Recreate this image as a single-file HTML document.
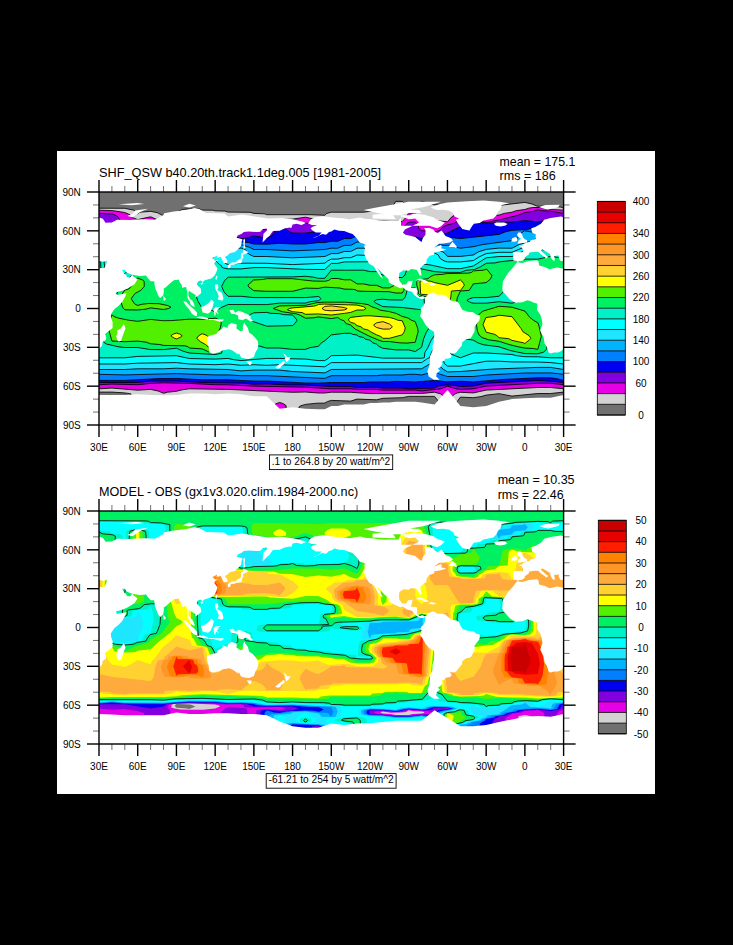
<!DOCTYPE html>
<html><head><meta charset="utf-8"><style>html,body{margin:0;padding:0;background:#000;width:733px;height:945px;overflow:hidden}svg{display:block}</style></head>
<body><svg width="733" height="945" viewBox="0 0 733 945">
<rect x="0" y="0" width="733" height="945" fill="#000"/>
<rect x="57" y="151" width="598" height="643" fill="#fff"/>
<clipPath id="c1"><rect x="99.0" y="192.0" width="464.6" height="233"/></clipPath><g clip-path="url(#c1)">
<rect x="99.0" y="192.0" width="464.6" height="233" fill="#707070"/>
<path d="M131.3 425.0 299.0 425.0 299.0 406.9 301.0 405.7 305.5 404.4 317.1 403.2 324.8 403.1 327.4 401.6 331.3 400.4 350.7 401.1 357.1 399.1 376.5 399.8 382.9 398.3 402.3 397.7 408.7 396.4 434.5 396.4 437.8 400.4 437.8 425.0 457.1 425.0 457.1 401.7 460.4 397.1 473.3 397.7 481.0 396.6 486.2 395.1 499.1 393.7 512.0 396.1 537.8 393.5 550.7 393.5 563.6 392.1 563.6 208.2 561.0 207.1 556.5 206.5 537.2 206.2 532.0 204.0 524.9 202.4 499.1 205.4 486.2 205.9 473.3 203.8 460.4 204.7 447.5 204.1 434.5 204.9 421.6 201.3 415.2 205.5 408.7 205.5 404.9 203.7 402.3 201.4 395.8 201.4 389.4 211.4 370.0 211.4 363.6 212.2 331.3 212.2 326.8 213.4 324.8 215.3 310.0 214.7 266.8 214.7 264.2 213.8 253.9 213.4 250.0 212.3 228.1 212.1 224.8 211.1 215.2 210.8 212.6 210.2 202.2 210.1 199.7 209.1 189.3 208.8 182.2 209.5 176.4 212.4 163.5 215.8 157.1 212.6 150.6 211.4 140.9 212.1 139.1 212.7 137.7 214.0 136.4 211.9 133.8 210.2 124.8 208.3 99.0 208.2 99.0 392.1 111.9 392.1 124.8 392.9 131.0 393.9 131.3 425.0Z" fill="#d2d2d2" fill-rule="evenodd"/>
<path d="M273.2 425.0 286.1 425.0 286.1 405.6 283.5 403.8 279.7 402.4 275.8 403.8 273.2 405.6 273.2 425.0ZM444.2 425.0 450.7 425.0 450.7 401.7 451.0 399.8 451.7 397.2 453.2 395.2 457.8 392.8 460.4 392.3 473.3 392.9 486.2 390.1 537.8 387.5 550.7 387.5 563.6 388.8 563.6 210.1 550.7 209.5 540.7 207.5 532.9 207.5 528.7 208.2 524.9 209.5 516.5 210.6 512.0 212.2 504.2 213.4 499.1 215.1 486.2 215.7 480.5 212.1 473.3 209.4 462.8 211.4 457.1 213.3 451.4 217.2 447.5 221.8 424.9 219.2 421.6 218.1 419.1 215.8 415.2 213.7 408.7 213.7 407.0 215.3 405.5 217.9 402.3 221.4 337.8 220.0 318.4 220.1 305.5 217.2 292.6 219.1 276.5 219.5 266.8 221.4 253.9 219.8 241.0 219.2 228.1 217.9 215.2 215.9 202.2 216.3 189.3 214.1 176.4 219.5 163.5 222.4 150.6 216.8 137.7 219.6 133.3 217.9 131.5 216.6 131.2 215.3 124.8 212.5 113.2 210.7 99.0 210.1 99.0 388.8 111.9 388.1 137.7 390.2 150.6 389.4 158.4 391.1 163.5 393.3 167.4 392.2 176.4 391.3 182.2 389.8 189.3 388.8 228.1 389.4 292.6 392.3 305.5 392.0 318.4 393.0 324.8 393.0 331.3 392.2 350.7 392.3 370.0 393.6 421.6 393.5 434.5 392.2 440.6 393.9 442.3 395.2 443.4 397.2 444.2 400.4 444.2 425.0Z" fill="#e600e6" fill-rule="evenodd"/>
<path d="M420.0 390.7 440.4 388.9 447.5 386.2 455.8 388.7 460.4 389.4 473.3 388.8 486.2 386.1 537.8 383.3 550.7 383.3 563.6 384.7 563.6 213.4 550.7 211.2 541.7 210.6 537.8 209.8 533.3 211.4 524.9 212.5 518.4 215.1 501.7 219.3 486.2 222.4 482.9 221.8 479.1 218.3 473.3 215.0 461.0 219.1 454.5 223.1 445.5 225.5 442.3 227.5 440.1 230.2 434.5 232.4 421.0 230.5 418.7 228.2 417.9 225.0 415.2 222.0 408.7 222.0 402.3 228.4 382.9 228.0 376.5 226.7 370.0 226.7 363.6 225.7 357.1 225.7 337.8 224.1 331.3 224.1 324.8 225.8 318.4 225.8 311.5 223.7 305.5 223.1 279.7 223.1 271.9 225.8 266.8 229.9 253.9 227.7 241.0 228.4 230.0 224.8 215.2 222.2 208.7 224.8 202.2 224.8 189.3 222.2 176.4 226.6 163.5 229.0 150.6 224.3 137.7 226.1 134.5 225.4 126.7 223.2 121.7 221.1 119.0 219.0 118.3 217.2 117.1 216.1 112.5 214.0 99.0 213.4 99.0 384.7 111.9 384.1 137.7 384.7 150.6 383.4 163.5 382.8 189.3 383.4 215.2 384.7 228.1 384.8 252.6 386.1 305.5 387.2 331.3 388.8 350.7 388.8 357.1 389.4 376.5 389.4 382.9 390.1 415.2 390.1 420.0 390.7Z" fill="#8200e0" fill-rule="evenodd"/>
<path d="M402.3 388.1 408.7 388.8 434.5 388.1 438.4 385.8 447.5 384.9 455.8 385.4 460.4 386.6 473.3 386.0 486.2 383.2 537.8 380.5 550.7 381.2 563.6 382.5 563.6 223.4 550.7 219.5 537.8 221.9 524.9 220.6 512.0 222.1 499.1 222.3 497.1 222.8 492.0 223.0 477.8 222.6 475.2 221.9 473.3 220.5 467.1 223.1 463.6 225.4 455.5 228.9 448.2 232.8 434.5 236.5 421.6 238.3 415.2 237.0 408.7 237.0 402.3 235.4 382.9 234.7 376.5 232.5 370.0 232.5 363.6 230.8 357.1 230.8 350.7 229.4 344.2 229.4 337.8 228.2 331.3 228.2 324.8 231.5 317.1 231.6 305.5 233.1 292.6 233.1 288.7 231.3 285.5 228.5 279.7 226.9 275.7 228.9 274.1 232.8 271.9 235.5 266.8 238.3 253.9 235.8 248.7 237.7 241.0 238.7 236.9 237.3 233.7 233.4 229.6 231.5 215.2 228.5 208.7 233.3 202.2 233.3 189.3 230.3 176.4 233.7 163.5 235.6 150.6 231.7 137.7 232.6 124.2 230.8 115.1 228.5 106.7 225.0 99.0 223.4 99.0 382.5 137.7 382.5 150.6 381.1 176.4 381.1 202.2 382.5 241.0 383.1 253.9 384.2 266.8 383.9 288.8 384.9 305.5 385.0 331.3 386.6 350.7 386.6 357.1 387.5 376.5 387.2 382.9 388.1 402.3 388.1Z" fill="#0000f0" fill-rule="evenodd"/>
<path d="M302.5 382.9 324.8 383.1 331.3 382.5 363.6 382.5 370.0 381.9 389.4 381.9 395.8 381.3 415.2 381.9 434.5 380.5 447.5 381.8 460.4 381.3 473.3 381.9 504.2 379.4 537.8 377.8 550.7 377.8 557.8 378.9 563.6 380.4 563.6 229.2 550.7 225.6 533.3 228.1 526.6 229.5 512.0 230.3 504.9 232.0 499.1 234.4 460.4 238.6 447.5 237.2 441.0 239.5 421.6 243.4 415.2 242.1 395.8 242.4 389.4 241.4 382.9 241.4 376.5 238.3 370.0 238.3 363.6 236.0 357.1 236.0 350.7 238.6 344.2 238.6 337.8 241.3 331.3 241.3 324.8 242.6 318.4 242.6 305.5 244.0 292.6 244.0 279.7 243.3 266.8 244.2 253.9 244.0 248.7 242.6 239.7 241.6 233.0 239.9 228.1 237.4 215.2 234.8 211.8 238.0 208.7 241.8 202.2 241.8 189.3 238.3 176.4 240.9 163.5 242.3 150.6 239.1 126.7 239.3 111.9 240.2 109.6 236.7 106.7 233.7 103.5 231.4 99.0 229.2 99.0 380.4 124.8 380.4 159.0 378.6 176.4 378.4 202.2 379.8 228.1 379.8 253.9 381.1 266.8 381.1 302.5 382.9Z" fill="#0080ff" fill-rule="evenodd"/>
<path d="M305.5 377.8 324.8 378.4 331.3 375.7 376.5 375.7 382.9 375.0 402.3 375.0 408.7 374.3 415.2 374.3 421.6 375.0 429.4 372.8 434.5 370.0 437.1 372.5 439.7 374.1 447.5 376.5 473.3 376.5 486.2 375.0 524.9 373.0 550.7 372.9 563.6 374.3 563.6 235.0 550.7 231.8 537.8 233.0 524.5 230.8 519.7 234.1 518.7 235.4 518.3 237.3 517.1 238.3 512.0 240.6 482.3 244.6 473.3 246.7 460.4 248.2 447.5 245.5 434.5 244.7 421.6 248.6 415.2 247.2 408.7 247.2 402.3 249.5 395.8 249.5 389.4 248.2 382.9 248.2 376.5 244.2 370.0 244.2 363.6 242.0 357.1 242.0 350.7 245.4 344.2 245.4 337.8 248.2 331.3 248.2 324.8 249.5 292.6 250.9 266.8 249.5 253.9 249.5 248.7 247.0 242.3 245.2 228.7 244.0 215.2 241.1 211.9 245.1 208.7 250.3 202.2 250.3 189.3 246.4 176.4 248.0 163.5 248.9 150.6 246.6 137.7 245.6 123.1 248.3 117.1 250.4 111.9 253.1 109.5 247.0 106.7 242.3 103.5 238.6 99.0 235.0 99.0 374.3 124.8 374.9 176.4 373.6 215.2 374.9 228.1 374.9 241.0 375.7 266.8 375.7 305.5 377.8Z" fill="#00b4ff" fill-rule="evenodd"/>
<path d="M312.3 372.6 324.8 372.9 331.3 369.5 421.6 368.8 429.4 364.2 432.6 361.1 434.5 358.5 437.5 363.5 439.7 366.1 443.3 369.3 447.5 371.9 460.4 371.5 492.6 369.1 537.8 367.4 550.7 367.4 563.6 369.5 563.6 240.9 550.7 237.9 537.8 238.5 533.9 239.7 530.7 241.4 519.4 244.4 512.0 248.2 499.1 248.1 486.2 249.4 478.4 251.9 473.3 255.0 460.4 256.4 447.5 256.4 444.9 253.5 442.3 251.6 434.5 248.9 421.6 253.7 415.2 252.3 408.7 252.3 402.3 256.5 395.8 256.5 389.4 254.9 382.9 254.9 376.5 250.0 370.0 250.0 363.6 248.2 357.1 248.2 350.7 251.5 344.2 251.5 337.8 253.6 331.3 253.6 324.8 256.5 292.6 257.8 266.8 256.5 253.9 256.5 248.7 254.1 246.8 252.2 245.3 249.6 241.0 248.0 233.2 249.0 228.1 250.4 215.2 247.4 211.6 252.8 208.7 258.8 202.2 258.8 189.3 254.4 163.5 255.5 137.7 252.1 129.3 254.5 122.9 257.3 116.8 261.3 111.9 266.0 109.7 258.0 106.7 251.0 103.5 245.7 99.0 240.9 99.0 369.5 124.8 369.5 137.7 368.8 163.5 368.8 176.4 368.2 189.3 368.8 228.1 369.5 241.0 370.9 253.9 370.1 279.7 370.1 292.6 371.5 312.3 372.6Z" fill="#1ee6ff" fill-rule="evenodd"/>
<path d="M305.5 366.1 324.8 366.8 331.3 362.6 421.6 362.6 427.8 358.3 429.6 357.7 431.4 352.5 434.5 346.9 442.0 357.7 443.5 360.3 444.3 363.5 447.5 366.1 460.4 366.1 486.2 361.2 499.1 361.2 512.0 361.9 537.8 362.0 550.7 362.6 563.6 364.0 563.6 246.7 550.7 244.0 537.8 244.0 524.9 246.8 512.0 252.3 499.1 252.3 486.2 253.6 479.1 256.9 473.3 260.6 460.4 261.9 447.5 261.9 444.2 260.9 440.4 258.7 438.1 254.8 434.5 253.0 429.9 254.8 426.2 257.4 421.6 258.8 415.2 257.4 408.7 257.4 405.5 260.0 402.3 263.5 395.8 263.5 389.4 261.6 382.9 261.6 376.5 255.9 357.1 255.0 350.7 257.7 344.2 257.7 337.8 259.1 331.3 259.1 327.4 261.1 324.8 263.2 292.6 264.6 266.8 263.3 241.0 263.2 228.1 264.5 224.8 263.2 223.4 259.3 221.0 256.3 218.4 254.8 215.2 253.7 211.7 260.0 208.7 267.3 202.2 267.3 189.3 262.5 163.5 262.2 150.6 261.4 137.7 258.6 129.3 262.2 123.4 265.8 117.1 271.7 111.9 278.9 109.7 272.3 106.7 259.7 103.4 252.8 99.0 246.7 99.0 364.0 124.8 364.0 137.7 363.2 176.4 362.6 189.3 364.0 215.2 364.7 228.1 364.0 241.0 365.3 253.9 364.7 266.8 365.3 279.7 364.7 305.5 366.1Z" fill="#00ffff" fill-rule="evenodd"/>
<path d="M238.1 360.3 241.0 360.6 266.8 358.4 279.7 358.4 305.5 359.1 318.4 360.6 324.8 360.6 328.4 358.3 331.3 355.7 341.0 355.7 344.2 355.1 360.3 355.3 382.9 358.1 421.6 358.2 424.3 357.7 424.9 352.5 428.0 347.3 431.2 340.2 434.5 335.4 441.5 343.5 447.5 352.7 460.4 357.8 473.3 353.0 486.2 353.0 512.0 354.5 516.6 355.7 524.9 356.7 537.8 356.8 550.7 357.8 563.6 357.8 563.6 252.5 550.7 250.1 537.8 249.6 524.9 250.5 520.9 252.2 517.1 255.1 512.0 256.5 499.1 256.5 486.2 257.8 473.3 266.0 460.4 268.7 447.5 268.7 430.7 265.0 421.6 263.9 415.2 262.5 408.7 262.5 405.1 266.4 402.3 270.5 395.8 270.5 389.4 268.4 382.9 268.4 381.0 266.9 379.4 264.5 376.5 261.7 344.2 261.9 337.8 263.4 331.3 263.4 324.8 269.5 305.5 269.4 266.8 267.6 253.9 267.6 241.0 268.9 228.1 268.9 223.5 268.0 221.6 267.1 221.6 265.8 219.5 264.5 215.2 260.0 213.5 263.2 212.1 271.0 210.4 274.2 208.7 275.8 202.2 275.8 189.3 270.5 169.3 269.0 150.6 268.9 137.7 265.1 129.3 269.8 123.1 274.8 116.9 282.6 111.9 291.8 109.0 287.1 107.0 281.3 105.5 273.6 104.0 261.3 99.0 252.5 99.0 357.8 124.8 357.8 137.7 356.4 176.4 355.7 189.3 358.5 215.2 359.1 228.1 358.4 238.1 360.3Z" fill="#00f0c8" fill-rule="evenodd"/>
<path d="M202.2 353.8 215.2 354.5 221.6 353.2 222.2 349.9 228.1 335.7 247.4 342.7 266.3 348.0 279.7 348.0 292.6 349.4 305.5 349.4 310.0 347.6 318.4 346.4 321.0 343.2 324.8 340.7 331.3 334.9 344.2 333.3 350.7 333.3 352.8 334.4 357.1 335.0 359.0 336.6 363.6 337.5 365.5 339.2 370.0 340.1 372.6 342.8 376.5 344.1 379.1 346.5 382.9 348.3 395.8 349.9 408.7 349.9 415.2 351.6 421.6 347.3 423.6 338.8 426.2 332.4 430.6 326.0 434.5 323.8 441.4 329.9 447.5 337.1 452.0 335.1 455.2 332.9 458.0 329.9 460.4 325.7 463.2 331.2 465.5 338.9 473.6 340.2 477.8 342.8 483.6 344.8 499.1 346.8 510.5 350.6 524.9 353.6 537.8 353.8 540.4 353.3 544.2 351.7 546.6 349.3 548.4 336.3 548.7 316.9 550.7 309.0 563.6 307.1 563.6 258.3 550.7 256.3 537.8 259.2 524.9 259.1 499.1 261.9 495.2 262.9 486.2 263.3 480.4 266.9 474.6 269.5 466.2 270.3 460.4 272.4 443.6 272.3 434.5 271.6 415.2 267.6 408.7 267.6 406.6 270.3 404.9 275.2 402.3 277.5 395.8 277.5 389.4 275.1 382.9 275.1 379.1 273.6 376.5 271.6 370.0 271.6 363.6 270.2 350.7 270.2 331.3 270.2 324.8 278.3 318.4 278.3 313.2 277.1 305.5 276.3 292.6 276.9 228.1 277.2 224.5 280.7 221.7 286.5 224.2 292.2 228.1 296.3 241.0 296.3 253.9 297.6 305.5 297.6 318.4 296.5 320.0 297.5 321.0 298.8 318.6 300.7 310.0 301.7 305.5 303.1 279.7 303.1 266.8 304.6 228.1 304.5 220.5 307.9 215.2 312.4 212.2 310.4 202.2 308.5 197.7 300.7 196.1 295.6 195.8 282.6 192.7 280.0 189.3 278.6 176.4 276.5 163.5 275.4 150.6 276.3 137.7 271.6 129.3 277.5 122.9 283.9 117.1 293.0 114.4 300.1 111.9 304.6 106.1 304.3 103.5 303.6 102.1 302.0 101.4 298.8 100.7 261.3 99.0 258.3 99.0 307.1 100.7 313.0 100.2 315.0 101.0 328.6 102.9 340.9 103.7 342.2 108.0 344.5 119.6 347.0 124.8 347.5 137.7 347.5 150.6 349.6 163.5 349.6 176.4 348.2 182.9 351.1 189.3 353.0 202.2 353.8ZM266.8 326.2 251.9 321.2 248.7 318.9 247.6 317.6 247.7 316.9 250.6 314.3 253.9 312.8 266.8 312.4 270.6 313.3 279.7 313.7 283.5 314.6 292.6 315.0 297.1 320.1 295.2 323.3 292.6 325.6 266.8 326.2ZM421.6 309.8 402.3 307.5 382.9 306.6 375.2 302.7 374.0 301.4 376.5 299.8 382.9 299.2 389.4 299.9 402.3 300.0 403.9 298.8 405.3 296.9 407.1 290.4 408.7 287.8 415.2 287.8 416.3 290.4 416.3 293.6 417.1 295.4 419.1 296.5 423.6 297.5 424.0 298.1 424.5 305.3 421.6 309.8ZM471.3 302.7 468.1 301.3 467.2 300.7 467.2 300.1 469.5 298.8 473.3 297.6 486.2 297.6 499.2 296.2 512.0 282.5 515.8 289.0 518.4 297.5 518.0 300.7 515.2 302.3 512.0 303.2 499.1 301.7 486.2 303.2 473.3 303.2 471.3 302.7Z" fill="#00f064" fill-rule="evenodd"/>
<path d="M207.2 351.2 208.7 351.9 210.0 351.3 211.9 350.0 213.2 348.3 215.2 339.9 220.5 327.3 221.3 322.7 221.0 322.1 219.0 320.0 215.8 318.2 202.2 319.3 189.3 319.2 171.3 320.6 162.9 320.7 150.6 319.4 137.7 321.3 129.3 320.3 118.7 318.2 114.9 316.9 111.9 315.0 110.7 318.2 108.3 327.9 111.9 341.0 124.8 341.7 137.7 341.1 146.3 342.2 150.6 343.8 159.7 344.5 163.5 345.4 184.8 345.8 188.0 346.6 189.3 348.0 202.2 348.9 207.2 351.2ZM537.2 349.3 537.9 349.3 538.1 348.6 541.3 336.3 539.0 326.0 537.8 322.7 533.9 320.6 530.0 317.6 524.9 311.1 512.0 307.2 499.1 306.3 483.6 310.9 480.4 313.0 478.4 315.4 477.5 317.6 476.5 324.7 477.4 331.2 479.1 335.0 482.1 337.6 488.7 339.8 499.1 341.3 509.7 344.7 517.8 346.7 524.9 348.1 533.3 348.5 537.2 349.3ZM399.2 342.8 406.8 343.1 415.2 342.3 418.1 331.8 417.8 328.6 415.2 321.6 411.3 320.2 408.1 318.0 402.3 316.5 396.5 313.5 389.4 311.6 380.3 310.2 376.5 308.3 372.0 306.9 368.1 304.6 361.6 303.5 345.5 302.2 324.8 302.1 317.1 302.6 305.5 305.3 279.7 305.9 273.2 308.5 282.3 311.7 296.5 313.9 299.7 315.0 305.5 318.2 313.9 317.8 318.4 316.9 331.3 318.6 337.8 317.5 340.5 319.5 344.2 320.8 345.8 323.4 350.7 325.1 355.2 329.1 370.0 336.5 378.8 340.2 382.9 341.5 389.4 341.5 399.2 342.8ZM447.3 321.4 451.0 316.9 454.4 310.4 456.1 305.9 457.2 298.1 460.4 291.0 469.2 290.4 473.3 283.9 486.2 282.6 490.7 278.8 491.9 275.5 486.5 269.0 483.6 270.2 473.3 270.9 471.8 272.3 468.7 273.1 446.5 273.6 442.3 274.4 434.5 274.8 430.7 276.5 428.1 278.7 419.7 279.7 417.8 280.3 416.8 281.3 416.8 285.2 418.4 290.4 418.4 293.6 421.0 295.4 428.4 297.5 431.4 307.9 432.8 310.4 434.5 312.2 442.3 317.1 447.3 321.4ZM124.8 309.8 137.7 310.0 146.1 309.1 150.6 307.9 163.5 309.5 168.5 308.5 171.0 307.2 168.0 305.6 159.0 303.7 148.7 303.5 142.2 304.2 137.7 305.4 134.7 304.0 131.6 299.4 131.3 298.8 131.6 298.1 135.1 293.4 140.9 290.3 144.2 286.5 144.2 281.3 142.6 280.0 137.7 278.1 133.5 281.3 132.1 284.6 129.5 288.4 127.4 289.5 124.8 290.0 122.0 294.3 121.0 302.0 122.6 307.2 124.8 309.8ZM391.8 292.3 395.8 293.0 402.3 293.0 403.9 290.4 404.3 287.8 403.8 285.8 402.3 284.5 395.8 284.5 389.4 287.9 382.9 287.9 376.5 285.3 370.0 285.3 363.6 283.9 357.1 283.9 350.7 279.8 344.2 279.8 337.8 278.5 331.3 278.5 328.7 280.4 324.8 281.3 312.6 281.0 292.6 278.7 266.8 278.7 262.3 279.5 253.5 280.0 247.9 285.2 248.9 287.1 253.9 290.7 266.8 291.3 292.6 291.3 305.5 288.1 318.4 288.4 324.8 287.1 339.7 288.0 344.2 289.1 352.6 289.3 355.3 289.7 357.1 290.9 362.9 291.3 389.4 291.7 391.8 292.3Z" fill="#50f000" fill-rule="evenodd"/>
<path d="M208.1 346.7 208.7 347.3 210.7 342.2 208.7 337.0 206.1 335.1 202.2 333.7 198.7 335.7 196.7 338.3 200.2 341.5 205.5 344.5 208.1 346.7ZM523.3 342.8 524.9 343.5 525.5 343.0 529.4 339.9 530.9 338.3 530.7 337.9 529.1 335.7 522.9 331.7 521.1 328.6 512.0 316.7 499.1 315.2 495.2 316.3 485.9 317.6 483.0 324.7 486.2 332.2 494.6 334.3 496.9 335.7 499.1 337.7 508.8 338.7 512.0 340.4 523.3 342.8ZM174.7 338.3 176.4 338.9 177.7 338.5 181.6 336.6 182.1 335.7 179.7 334.1 176.4 333.1 173.2 334.2 171.0 335.7 171.3 336.4 174.7 338.3ZM382.3 337.6 382.9 338.3 389.4 338.3 402.3 334.8 404.5 331.2 405.2 327.9 402.3 320.8 397.8 320.2 394.7 318.9 389.4 317.4 370.0 315.8 363.6 315.9 350.7 317.4 348.7 319.1 348.5 320.1 350.7 322.4 354.5 323.4 357.1 325.6 361.0 326.8 363.6 328.9 368.1 330.0 370.7 331.8 376.5 334.8 380.3 336.3 382.3 337.6ZM322.4 314.3 331.3 315.0 344.2 313.4 350.7 312.4 357.1 310.0 363.6 310.0 366.0 308.5 363.6 306.7 357.1 305.1 324.2 304.1 318.4 304.4 316.5 305.5 313.2 306.2 292.6 307.9 289.4 308.5 287.4 309.8 292.6 311.7 302.3 312.6 305.5 314.3 318.4 313.9 322.4 314.3ZM447.4 305.9 450.7 298.1 451.4 291.0 460.5 290.4 464.0 285.8 464.3 285.2 463.6 283.5 461.6 281.0 460.4 280.0 447.5 285.3 434.5 282.6 430.7 281.2 421.6 280.7 420.0 281.3 420.6 293.6 421.6 294.3 427.4 294.8 431.3 295.9 433.2 297.5 434.5 300.7 441.6 303.2 447.4 305.9Z" fill="#ffff00" fill-rule="evenodd"/>
<path d="M380.9 328.6 382.9 329.1 389.4 329.1 391.4 327.9 392.3 326.6 389.4 324.0 382.9 321.6 376.5 322.9 373.9 324.7 373.7 325.3 376.5 327.5 380.9 328.6ZM326.6 310.4 331.3 310.8 344.2 310.0 346.6 309.1 347.0 308.5 344.2 307.5 331.3 305.9 324.8 306.4 322.0 308.5 324.8 310.3 326.6 310.4Z" fill="#ffd232" fill-rule="evenodd"/>
<path d="M299.0 425.0 299.0 406.9 301.0 405.7 305.5 404.4 317.1 403.2 324.8 403.1 327.4 401.6 331.3 400.4 350.7 401.1 357.1 399.1 376.5 399.8 382.9 398.3 402.3 397.7 408.7 396.4 434.5 396.4 437.8 400.4 437.8 425.0M457.1 425.0 457.1 401.7 460.4 397.1 473.3 397.7 481.0 396.6 486.2 395.1 499.1 393.7 512.0 396.1 537.8 393.5 550.7 393.5 563.6 392.1M99.0 392.1 111.9 392.1 124.8 392.9 131.0 393.9 131.3 425.0M563.6 208.2 561.0 207.1 556.5 206.5 537.2 206.2 532.0 204.0 524.9 202.4 499.1 205.4 486.2 205.9 473.3 203.8 460.4 204.7 447.5 204.1 434.5 204.9 421.6 201.3 415.2 205.5 408.7 205.5 404.9 203.7 402.3 201.4 395.8 201.4 389.4 211.4 370.0 211.4 363.6 212.2 331.3 212.2 326.8 213.4 324.8 215.3 310.0 214.7 266.8 214.7 264.2 213.8 253.9 213.4 250.0 212.3 228.1 212.1 224.8 211.1 215.2 210.8 212.6 210.2 202.2 210.1 199.7 209.1 189.3 208.8 182.2 209.5 176.4 212.4 163.5 215.8 157.1 212.6 150.6 211.4 140.9 212.1 139.1 212.7 137.7 214.0 136.4 211.9 133.8 210.2 124.8 208.3 99.0 208.2M286.1 425.0 286.1 405.6 283.5 403.8 279.7 402.4 275.8 403.8 273.2 405.6 273.2 425.0M450.7 425.0 450.9 400.4 451.7 397.2 452.6 395.9 454.5 394.2 457.1 393.0 460.4 392.3 473.3 392.9 486.2 390.1 537.8 387.5 550.7 387.5 563.6 388.8M99.0 388.8 111.9 388.1 137.7 390.2 150.6 389.4 158.4 391.1 163.5 393.3 167.4 392.2 176.4 391.3 182.2 389.8 189.3 388.8 228.1 389.4 292.6 392.3 305.5 392.0 318.4 393.0 324.8 393.0 331.3 392.2 350.7 392.3 370.0 393.6 421.6 393.5 434.5 392.2 440.6 393.9 442.3 395.2 443.4 397.2 444.2 400.4 444.2 425.0M563.6 210.1 550.7 209.5 540.7 207.5 532.9 207.5 528.7 208.2 524.9 209.5 516.5 210.6 512.0 212.2 504.2 213.4 499.1 215.1 486.2 215.7 480.5 212.1 473.3 209.4 462.8 211.4 457.1 213.3 451.4 217.2 447.5 221.8 424.9 219.2 421.6 218.1 419.1 215.8 415.2 213.7 408.7 213.7 407.0 215.3 405.5 217.9 402.3 221.4 337.8 220.0 318.4 220.1 305.5 217.2 292.6 219.1 276.5 219.5 266.8 221.4 253.9 219.8 241.0 219.2 228.1 217.9 215.2 215.9 202.2 216.3 189.3 214.1 176.4 219.5 163.5 222.4 150.6 216.8 137.7 219.6 133.3 217.9 131.5 216.6 131.2 215.3 124.8 212.5 113.2 210.7 99.0 210.1M99.0 384.7 111.9 384.1 137.7 384.7 150.6 383.4 163.5 382.8 189.3 383.4 215.2 384.7 228.1 384.8 252.6 386.1 305.5 387.2 331.3 388.8 350.7 388.8 357.1 389.4 376.5 389.4 382.9 390.1 415.2 390.1 421.6 390.9 440.4 388.9 447.5 386.2 455.8 388.7 460.4 389.4 473.3 388.8 486.2 386.1 537.8 383.3 550.7 383.3 563.6 384.7M563.6 213.4 550.7 211.2 541.7 210.6 537.8 209.8 533.3 211.4 524.9 212.5 518.4 215.1 501.7 219.3 486.2 222.4 482.9 221.8 479.1 218.3 473.3 215.0 461.0 219.1 454.5 223.1 445.5 225.5 442.3 227.5 440.1 230.2 434.5 232.4 421.0 230.5 418.7 228.2 417.9 225.0 415.2 222.0 408.7 222.0 402.3 228.4 382.9 228.0 376.5 226.7 370.0 226.7 363.6 225.7 357.1 225.7 337.8 224.1 331.3 224.1 324.8 225.8 318.4 225.8 311.5 223.7 305.5 223.1 279.7 223.1 271.9 225.8 266.8 229.9 253.9 227.7 241.0 228.4 230.0 224.8 215.2 222.2 208.7 224.8 202.2 224.8 189.3 222.2 176.4 226.6 163.5 229.0 150.6 224.3 137.7 226.1 134.5 225.4 126.7 223.2 121.7 221.1 119.0 219.0 118.3 217.2 117.1 216.1 112.5 214.0 99.0 213.4M99.0 382.5 137.7 382.5 150.6 381.1 176.4 381.1 202.2 382.5 241.0 383.1 253.9 384.2 266.8 383.9 288.8 384.9 305.5 385.0 331.3 386.6 350.7 386.6 357.1 387.5 376.5 387.2 382.9 388.1 402.3 388.1 408.7 388.8 434.5 388.1 437.8 386.0 444.9 385.0 454.5 385.3 460.4 386.6 473.3 386.0 486.2 383.2 537.8 380.5 550.7 381.2 563.6 382.5M563.6 223.4 550.7 219.5 537.8 221.9 524.9 220.6 512.0 222.1 499.1 222.3 497.1 222.8 492.0 223.0 477.8 222.6 475.2 221.9 473.3 220.5 467.1 223.1 463.6 225.4 455.5 228.9 448.2 232.8 434.5 236.5 421.6 238.3 415.2 237.0 408.7 237.0 402.3 235.4 382.9 234.7 376.5 232.5 370.0 232.5 363.6 230.8 357.1 230.8 350.7 229.4 344.2 229.4 337.8 228.2 331.3 228.2 324.8 231.5 317.1 231.6 305.5 233.1 292.6 233.1 288.7 231.3 285.5 228.5 279.7 226.9 275.7 228.9 274.1 232.8 271.9 235.5 266.8 238.3 253.9 235.8 248.7 237.7 241.0 238.7 236.9 237.3 233.7 233.4 229.6 231.5 215.2 228.5 208.7 233.3 202.2 233.3 189.3 230.3 176.4 233.7 163.5 235.6 150.6 231.7 137.7 232.6 124.2 230.8 115.1 228.5 106.7 225.0 99.0 223.4M99.0 380.4 124.8 380.4 159.0 378.6 176.4 378.4 202.2 379.8 228.1 379.8 253.9 381.1 268.7 381.1 305.5 383.0 318.4 383.1 331.3 382.5 363.6 382.5 370.0 381.9 389.4 381.9 395.8 381.3 415.2 381.9 434.5 380.5 447.5 381.8 460.4 381.3 473.3 381.9 504.2 379.4 537.8 377.8 550.7 377.8 557.8 378.9 563.6 380.4M563.6 229.2 550.7 225.6 533.3 228.1 526.6 229.5 512.0 230.3 504.9 232.0 499.1 234.4 460.4 238.6 447.5 237.2 441.0 239.5 421.6 243.4 415.2 242.1 395.8 242.4 389.4 241.4 382.9 241.4 376.5 238.3 370.0 238.3 363.6 236.0 357.1 236.0 350.7 238.6 344.2 238.6 337.8 241.3 331.3 241.3 324.8 242.6 318.4 242.6 305.5 244.0 292.6 244.0 279.7 243.3 266.8 244.2 253.9 244.0 248.7 242.6 239.7 241.6 233.0 239.9 228.1 237.4 215.2 234.8 211.8 238.0 208.7 241.8 202.2 241.8 189.3 238.3 176.4 240.9 163.5 242.3 150.6 239.1 126.7 239.3 111.9 240.2 109.6 236.7 106.7 233.7 103.5 231.4 99.0 229.2M99.0 374.3 124.8 374.9 176.4 373.6 215.2 374.9 228.1 374.9 241.0 375.7 266.8 375.7 324.8 378.4 331.3 375.7 376.5 375.7 382.9 375.0 402.3 375.0 408.7 374.3 415.2 374.3 421.6 375.0 429.4 372.8 434.5 370.0 437.1 372.5 439.7 374.1 447.5 376.5 473.3 376.5 486.2 375.0 524.9 373.0 550.7 372.9 563.6 374.3M563.6 235.0 550.7 231.8 537.8 233.0 524.5 230.8 519.7 234.1 518.7 235.4 518.3 237.3 517.1 238.3 512.0 240.6 482.3 244.6 473.3 246.7 460.4 248.2 447.5 245.5 434.5 244.7 421.6 248.6 415.2 247.2 408.7 247.2 402.3 249.5 395.8 249.5 389.4 248.2 382.9 248.2 376.5 244.2 370.0 244.2 363.6 242.0 357.1 242.0 350.7 245.4 344.2 245.4 337.8 248.2 331.3 248.2 324.8 249.5 292.6 250.9 266.8 249.5 253.9 249.5 248.7 247.0 242.3 245.2 228.7 244.0 215.2 241.1 211.9 245.1 208.7 250.3 202.2 250.3 189.3 246.4 176.4 248.0 163.5 248.9 150.6 246.6 137.7 245.6 123.1 248.3 117.1 250.4 111.9 253.1 109.5 247.0 106.7 242.3 103.5 238.6 99.0 235.0M99.0 369.5 124.8 369.5 137.7 368.8 163.5 368.8 176.4 368.2 189.3 368.8 228.1 369.5 241.0 370.9 253.9 370.1 279.7 370.1 292.6 371.5 324.8 372.9 331.3 369.5 421.6 368.8 429.4 364.2 432.6 361.1 434.5 358.5 437.5 363.5 439.7 366.1 443.3 369.3 447.5 371.9 460.4 371.5 492.6 369.1 537.8 367.4 550.7 367.4 563.6 369.5M563.6 240.9 550.7 237.9 537.8 238.5 533.9 239.7 530.7 241.4 519.4 244.4 512.0 248.2 499.1 248.1 486.2 249.4 478.4 251.9 473.3 255.0 460.4 256.4 447.5 256.4 444.9 253.5 442.3 251.6 434.5 248.9 421.6 253.7 415.2 252.3 408.7 252.3 402.3 256.5 395.8 256.5 389.4 254.9 382.9 254.9 376.5 250.0 370.0 250.0 363.6 248.2 357.1 248.2 350.7 251.5 344.2 251.5 337.8 253.6 331.3 253.6 324.8 256.5 292.6 257.8 266.8 256.5 253.9 256.5 248.7 254.1 246.8 252.2 245.3 249.6 241.0 248.0 233.2 249.0 228.1 250.4 215.2 247.4 211.6 252.8 208.7 258.8 202.2 258.8 189.3 254.4 163.5 255.5 137.7 252.1 129.3 254.5 122.9 257.3 116.8 261.3 111.9 266.0 109.7 258.0 106.7 251.0 103.5 245.7 99.0 240.9M99.0 364.0 124.8 364.0 137.7 363.2 176.4 362.6 189.3 364.0 215.2 364.7 228.1 364.0 241.0 365.3 253.9 364.7 266.8 365.3 279.7 364.7 324.8 366.8 331.3 362.6 421.6 362.6 427.8 358.3 429.6 357.7 431.4 352.5 434.5 346.9 442.0 357.7 443.5 360.3 444.3 363.5 447.5 366.1 460.4 366.1 486.2 361.2 499.1 361.2 512.0 361.9 537.8 362.0 550.7 362.6 563.6 364.0M563.6 246.7 550.7 244.0 537.8 244.0 524.9 246.8 512.0 252.3 499.1 252.3 486.2 253.6 479.1 256.9 473.3 260.6 460.4 261.9 447.5 261.9 444.2 260.9 440.4 258.7 438.1 254.8 434.5 253.0 429.9 254.8 426.2 257.4 421.6 258.8 415.2 257.4 408.7 257.4 405.5 260.0 402.3 263.5 395.8 263.5 389.4 261.6 382.9 261.6 376.5 255.9 357.1 255.0 350.7 257.7 344.2 257.7 337.8 259.1 331.3 259.1 327.4 261.1 324.8 263.2 292.6 264.6 266.8 263.3 241.0 263.2 228.1 264.5 224.8 263.2 223.4 259.3 221.0 256.3 218.4 254.8 215.2 253.7 211.7 260.0 208.7 267.3 202.2 267.3 189.3 262.5 163.5 262.2 150.6 261.4 137.7 258.6 129.3 262.2 123.4 265.8 117.1 271.7 111.9 278.9 109.7 272.3 106.7 259.7 103.4 252.8 99.0 246.7M99.0 357.8 124.8 357.8 137.7 356.4 176.4 355.7 189.3 358.5 215.2 359.1 228.1 358.4 233.2 359.6 241.0 360.6 266.8 358.4 279.7 358.4 305.5 359.1 318.4 360.6 324.8 360.6 328.4 358.3 331.3 355.7 357.1 355.1 382.9 358.1 421.6 358.2 424.3 357.7 424.9 352.5 428.0 347.3 431.2 340.2 434.5 335.4 441.5 343.5 447.5 352.7 460.4 357.8 473.3 353.0 486.2 353.0 512.0 354.5 516.6 355.7 524.9 356.7 537.8 356.8 550.7 357.8 563.6 357.8M563.6 252.5 550.7 250.1 537.8 249.6 524.9 250.5 520.9 252.2 517.1 255.1 512.0 256.5 499.1 256.5 486.2 257.8 473.3 266.0 460.4 268.7 447.5 268.7 430.7 265.0 421.6 263.9 415.2 262.5 408.7 262.5 405.1 266.4 402.3 270.5 395.8 270.5 389.4 268.4 382.9 268.4 381.0 266.9 379.4 264.5 376.5 261.7 344.2 261.9 337.8 263.4 331.3 263.4 324.8 269.5 305.5 269.4 266.8 267.6 253.9 267.6 241.0 268.9 228.1 268.9 223.5 268.0 221.6 267.1 221.6 265.8 219.5 264.5 215.2 260.0 213.5 263.2 212.1 271.0 210.4 274.2 208.7 275.8 202.2 275.8 189.3 270.5 169.3 269.0 150.6 268.9 137.7 265.1 129.3 269.8 123.1 274.8 116.9 282.6 111.9 291.8 109.0 287.1 107.0 281.3 105.5 273.6 104.0 261.3 99.0 252.5M266.8 326.2 251.9 321.2 248.7 318.9 247.6 317.6 247.7 316.9 250.6 314.3 253.9 312.8 266.8 312.4 270.6 313.3 279.7 313.7 283.5 314.6 292.6 315.0 297.1 320.1 295.2 323.3 292.6 325.6 266.8 326.2M421.6 309.8 402.3 307.5 382.9 306.6 375.2 302.7 374.0 301.4 376.5 299.8 382.9 299.2 389.4 299.9 402.3 300.0 403.9 298.8 405.3 296.9 407.1 290.4 408.7 287.8 415.2 287.8 416.3 290.4 416.3 293.6 417.1 295.4 419.1 296.5 423.6 297.5 424.0 298.1 424.5 305.3 421.6 309.8M99.0 307.1 100.7 313.0 100.2 315.0 101.0 327.9 102.9 340.9 104.2 342.6 106.7 344.1 119.0 346.9 124.8 347.5 137.7 347.5 150.6 349.6 163.5 349.6 176.4 348.2 182.9 351.1 189.3 353.0 215.2 354.5 221.6 353.2 222.2 349.9 228.1 335.7 247.4 342.7 266.3 348.0 279.7 348.0 292.6 349.4 305.5 349.4 310.0 347.6 318.4 346.4 321.0 343.2 324.8 340.7 331.3 334.9 344.2 333.3 350.7 333.3 352.8 334.4 357.1 335.0 359.0 336.6 363.6 337.5 365.5 339.2 370.0 340.1 372.6 342.8 376.5 344.1 379.1 346.5 382.9 348.3 395.8 349.9 408.7 349.9 415.2 351.6 421.6 347.3 423.6 338.8 426.2 332.4 430.6 326.0 434.5 323.8 441.4 329.9 447.5 337.1 452.0 335.1 455.2 332.9 458.0 329.9 460.4 325.7 463.2 331.2 465.5 338.9 473.6 340.2 477.8 342.8 483.6 344.8 499.1 346.8 510.5 350.6 524.9 353.6 537.8 353.8 543.6 352.1 546.6 349.3 548.4 336.3 548.7 316.9 550.7 309.0 563.6 307.1M471.3 302.7 468.1 301.3 467.2 300.7 467.2 300.1 469.5 298.8 473.3 297.6 486.2 297.6 499.2 296.2 512.0 282.5 515.8 289.0 518.4 297.5 518.0 300.7 515.2 302.3 512.0 303.2 499.1 301.7 486.2 303.2 473.3 303.2 471.3 302.7M563.6 258.3 550.7 256.3 537.8 259.2 524.9 259.1 499.1 261.9 495.2 262.9 486.2 263.3 480.4 266.9 474.6 269.5 466.2 270.3 460.4 272.4 443.6 272.3 434.5 271.6 415.2 267.6 408.7 267.6 406.6 270.3 404.9 275.2 402.3 277.5 395.8 277.5 389.4 275.1 382.9 275.1 379.1 273.6 376.5 271.6 370.0 271.6 363.6 270.2 350.7 270.2 331.3 270.2 324.8 278.3 318.4 278.3 313.2 277.1 305.5 276.3 292.6 276.9 228.1 277.2 224.5 280.7 221.7 286.5 224.2 292.2 228.1 296.3 241.0 296.3 253.9 297.6 305.5 297.6 318.4 296.5 320.0 297.5 321.0 298.8 318.6 300.7 310.0 301.7 305.5 303.1 279.7 303.1 266.8 304.6 228.1 304.5 220.5 307.9 215.2 312.4 212.2 310.4 202.2 308.5 197.7 300.7 196.1 295.6 195.8 282.6 192.7 280.0 189.3 278.6 176.4 276.5 163.5 275.4 150.6 276.3 137.7 271.6 129.3 277.5 122.9 283.9 117.1 293.0 114.4 300.1 111.9 304.6 106.1 304.3 103.5 303.6 102.1 302.0 101.4 298.8 100.7 261.3 99.0 258.3M207.2 351.2 208.7 351.9 210.0 351.3 211.9 350.0 213.2 348.3 215.2 339.9 220.5 327.3 221.3 322.7 221.0 322.1 219.0 320.0 215.8 318.2 202.2 319.3 189.3 319.2 171.3 320.6 162.9 320.7 150.6 319.4 137.7 321.3 129.3 320.3 118.7 318.2 114.9 316.9 111.9 315.0 110.7 318.2 108.3 327.9 111.9 341.0 124.8 341.7 137.7 341.1 146.3 342.2 150.6 343.8 159.7 344.5 163.5 345.4 184.8 345.8 188.0 346.6 189.3 348.0 202.2 348.9 207.2 351.2M537.2 349.3 537.9 349.3 538.1 348.6 541.3 336.3 539.0 326.0 537.8 322.7 533.9 320.6 530.0 317.6 524.9 311.1 512.0 307.2 499.1 306.3 483.6 310.9 480.4 313.0 478.4 315.4 477.5 317.6 476.5 324.7 477.4 331.2 479.1 335.0 482.1 337.6 488.7 339.8 499.1 341.3 509.7 344.7 517.8 346.7 524.9 348.1 533.3 348.5 537.2 349.3M399.2 342.8 406.8 343.1 415.2 342.3 418.1 331.8 417.8 328.6 415.2 321.6 411.3 320.2 408.1 318.0 402.3 316.5 396.5 313.5 389.4 311.6 380.3 310.2 376.5 308.3 372.0 306.9 368.1 304.6 361.6 303.5 345.5 302.2 324.8 302.1 317.1 302.6 305.5 305.3 279.7 305.9 273.2 308.5 282.3 311.7 296.5 313.9 299.7 315.0 305.5 318.2 313.9 317.8 318.4 316.9 331.3 318.6 337.8 317.5 340.5 319.5 344.2 320.8 345.8 323.4 350.7 325.1 355.2 329.1 370.0 336.5 378.8 340.2 382.9 341.5 389.4 341.5 399.2 342.8M447.3 321.4 451.0 316.9 454.4 310.4 456.1 305.9 457.2 298.1 460.4 291.0 469.2 290.4 473.3 283.9 486.2 282.6 490.7 278.8 491.9 275.5 486.5 269.0 483.6 270.2 473.3 270.9 471.8 272.3 468.7 273.1 446.5 273.6 442.3 274.4 434.5 274.8 430.7 276.5 428.1 278.7 419.7 279.7 417.8 280.3 416.8 281.3 416.8 285.2 418.4 290.4 418.4 293.6 421.0 295.4 428.4 297.5 431.4 307.9 432.8 310.4 434.5 312.2 442.3 317.1 447.3 321.4M124.8 309.8 137.7 310.0 146.1 309.1 150.6 307.9 163.5 309.5 168.5 308.5 171.0 307.2 168.0 305.6 159.0 303.7 148.7 303.5 142.2 304.2 137.7 305.4 134.7 304.0 131.6 299.4 131.3 298.8 131.6 298.1 135.1 293.4 140.9 290.3 144.2 286.5 144.2 281.3 142.6 280.0 137.7 278.1 133.5 281.3 132.1 284.6 129.5 288.4 127.4 289.5 124.8 290.0 122.0 294.3 121.0 302.0 122.6 307.2 124.8 309.8M391.8 292.3 395.8 293.0 402.3 293.0 403.9 290.4 404.3 287.8 403.8 285.8 402.3 284.5 395.8 284.5 389.4 287.9 382.9 287.9 376.5 285.3 370.0 285.3 363.6 283.9 357.1 283.9 350.7 279.8 344.2 279.8 337.8 278.5 331.3 278.5 328.7 280.4 324.8 281.3 312.6 281.0 292.6 278.7 266.8 278.7 262.3 279.5 253.5 280.0 247.9 285.2 248.9 287.1 253.9 290.7 266.8 291.3 292.6 291.3 305.5 288.1 318.4 288.4 324.8 287.1 339.7 288.0 344.2 289.1 352.6 289.3 355.3 289.7 357.1 290.9 362.9 291.3 389.4 291.7 391.8 292.3M208.1 346.7 208.7 347.3 210.7 342.2 208.7 337.0 206.1 335.1 202.2 333.7 198.7 335.7 196.7 338.3 200.2 341.5 205.5 344.5 208.1 346.7M523.3 342.8 524.9 343.5 525.5 343.0 529.4 339.9 530.9 338.3 530.7 337.9 529.1 335.7 522.9 331.7 521.1 328.6 512.0 316.7 499.1 315.2 495.2 316.3 485.9 317.6 483.0 324.7 486.2 332.2 494.6 334.3 496.9 335.7 499.1 337.7 508.8 338.7 512.0 340.4 523.3 342.8M174.7 338.3 176.4 338.9 177.7 338.5 181.6 336.6 182.1 335.7 179.7 334.1 176.4 333.1 173.2 334.2 171.0 335.7 171.3 336.4 174.7 338.3M382.3 337.6 382.9 338.3 389.4 338.3 402.3 334.8 404.5 331.2 405.2 327.9 402.3 320.8 397.8 320.2 394.7 318.9 389.4 317.4 370.0 315.8 363.6 315.9 350.7 317.4 348.7 319.1 348.5 320.1 350.7 322.4 354.5 323.4 357.1 325.6 361.0 326.8 363.6 328.9 368.1 330.0 370.7 331.8 376.5 334.8 380.3 336.3 382.3 337.6M322.4 314.3 331.3 315.0 344.2 313.4 350.7 312.4 357.1 310.0 363.6 310.0 366.0 308.5 363.6 306.7 357.1 305.1 324.2 304.1 318.4 304.4 316.5 305.5 313.2 306.2 292.6 307.9 289.4 308.5 287.4 309.8 292.6 311.7 302.3 312.6 305.5 314.3 318.4 313.9 322.4 314.3M447.4 305.9 450.7 298.1 451.4 291.0 460.5 290.4 464.0 285.8 464.3 285.2 463.6 283.5 461.6 281.0 460.4 280.0 447.5 285.3 434.5 282.6 430.7 281.2 421.6 280.7 420.0 281.3 420.6 293.6 421.6 294.3 427.4 294.8 431.3 295.9 433.2 297.5 434.5 300.7 441.6 303.2 447.4 305.9M380.9 328.6 382.9 329.1 389.4 329.1 391.4 327.9 392.3 326.6 389.4 324.0 382.9 321.6 376.5 322.9 373.9 324.7 373.7 325.3 376.5 327.5 380.9 328.6M326.6 310.4 331.3 310.8 344.2 310.0 346.6 309.1 347.0 308.5 344.2 307.5 331.3 305.9 324.8 306.4 322.0 308.5 324.8 310.3 326.6 310.4" fill="none" stroke="#000" stroke-width="0.85" opacity="1"/>
<path d="M86.1 397.7 99.0 395.0 111.9 395.0 124.8 395.0 137.7 394.3 150.6 395.0 163.5 395.2 176.4 395.0 189.3 393.5 202.2 393.5 208.7 393.8 215.2 394.2 228.1 393.5 241.0 394.3 253.9 396.3 266.8 396.3 279.7 408.7 292.6 407.3 305.5 408.7 318.4 409.3 324.8 409.3 331.3 406.0 337.8 406.0 344.2 404.5 350.7 404.5 357.1 404.5 363.6 404.5 370.0 403.1 376.5 403.1 382.9 402.5 389.4 402.5 395.8 401.8 402.3 401.8 408.7 401.8 415.2 401.8 421.6 402.5 434.5 404.5 447.5 390.1 460.4 406.0 473.3 407.3 486.2 406.0 499.1 401.8 512.0 399.1 524.9 398.3 537.8 397.7 550.7 397.7 563.6 395.0 563.6 426.3 86.1 426.3Z" fill="#fff"/>
<path d="M52.5,262.2 47.6,268.4 43.5,272.9 38.3,281.3 37.7,289.5 38.7,292.3 40.9,294.3 43.1,296.9 45.4,299.4 50.6,302.8 57.7,302.3 62.9,300.3 66.7,301.4 69.3,302.8 72.5,303.6 72.9,305.9 72.3,309.8 75.8,315.0 77.3,319.9 77.8,324.0 75.6,330.5 79.0,337.6 80.0,343.5 82.2,346.7 84.0,352.5 86.1,353.5 89.3,352.5 93.3,352.5 95.8,351.5 99.0,349.0 102.2,345.4 102.4,342.2 106.1,339.6 106.1,337.0 105.1,334.1 107.8,331.8 112.6,327.9 112.6,322.1 111.0,317.6 110.9,314.6 112.6,311.7 114.5,309.1 118.4,305.9 122.2,302.0 125.8,295.6 126.5,293.2 122.2,294.0 117.1,295.0 116.0,293.6 116.2,292.2 114.5,282.6 109.3,274.8 105.5,269.7 102.0,268.0 97.7,268.5 92.5,267.6 86.1,268.9 84.8,269.3 80.3,267.1 74.5,265.4 73.8,261.3 72.5,260.3 64.2,260.9 57.7,263.1ZM517.1,262.2 512.2,268.4 508.1,272.9 502.9,281.3 502.3,289.5 503.3,292.3 505.5,294.3 507.7,296.9 510.0,299.4 515.2,302.8 522.3,302.3 527.5,300.3 531.3,301.4 533.9,302.8 537.1,303.6 537.5,305.9 536.9,309.8 540.4,315.0 541.9,319.9 542.4,324.0 540.2,330.5 543.6,337.6 544.6,343.5 546.8,346.7 548.6,352.5 550.7,353.5 553.9,352.5 557.9,352.5 560.4,351.5 563.6,349.0 566.8,345.4 567.0,342.2 570.7,339.6 570.7,337.0 569.7,334.1 572.4,331.8 577.2,327.9 577.2,322.1 575.6,317.6 575.5,314.6 577.2,311.7 579.1,309.1 583.0,305.9 586.8,302.0 590.4,295.6 591.1,293.2 586.8,294.0 581.7,295.0 580.6,293.6 580.8,292.2 579.1,282.6 573.9,274.8 570.1,269.7 566.6,268.0 562.3,268.5 557.1,267.6 550.7,268.9 549.4,269.3 544.9,267.1 539.1,265.4 538.4,261.3 537.1,260.3 528.8,260.9 522.3,263.1ZM116.2,292.2 118.4,291.7 122.9,290.4 127.4,288.4 131.9,285.8 134.5,284.2 137.5,279.4 135.8,278.0 133.1,276.3 132.6,274.6 130.0,277.4 126.7,276.8 126.1,274.8 124.8,274.2 122.9,271.6 122.2,269.7 124.8,269.7 126.7,272.5 130.6,274.2 133.8,275.1 139.8,275.9 146.1,275.6 147.4,277.4 149.1,279.4 150.6,281.3 154.2,281.3 154.5,283.9 155.1,287.8 156.8,291.9 158.6,296.2 160.3,298.1 161.2,297.0 163.3,295.2 163.9,291.0 163.8,288.4 166.1,287.1 169.3,283.9 172.6,281.3 174.5,280.0 176.4,280.0 178.8,279.6 179.4,281.7 181.9,285.2 182.0,287.8 186.1,287.1 187.3,292.3 187.4,297.9 189.7,301.4 190.9,304.9 193.9,306.8 194.8,306.6 193.7,303.3 192.2,300.5 190.0,298.9 188.4,295.6 188.4,291.7 189.6,291.0 190.6,292.1 193.1,293.5 195.5,294.9 195.4,297.4 197.3,296.2 200.8,293.6 201.3,291.7 200.7,288.4 197.9,285.8 196.7,283.9 198.0,281.6 200.3,280.5 202.8,282.0 204.3,280.5 207.4,279.6 211.3,278.5 214.6,275.5 216.3,272.3 217.5,268.6 216.2,266.4 214.1,263.8 215.5,261.4 218.4,260.6 214.5,260.2 213.2,258.7 212.2,258.0 214.5,256.9 217.1,255.6 216.7,258.0 218.1,257.4 220.7,256.9 222.0,259.3 223.7,263.2 227.2,262.9 227.4,260.6 225.9,258.5 224.8,257.0 227.7,255.4 229.0,253.7 231.3,252.8 234.5,252.2 237.7,249.6 241.2,245.7 241.6,241.8 242.6,239.5 239.7,238.5 236.6,237.8 237.7,235.5 241.7,233.7 243.8,232.1 248.4,231.6 252.1,231.7 256.7,232.1 260.3,231.7 262.9,228.9 266.8,228.5 267.0,230.2 263.5,233.7 262.5,242.5 265.0,240.0 266.8,238.0 269.7,235.8 271.0,233.4 273.0,231.0 279.7,230.8 284.5,228.6 289.4,227.6 291.3,227.9 292.6,224.4 296.5,223.7 301.6,225.0 305.9,223.1 302.9,221.8 292.6,219.3 282.3,218.0 268.1,218.4 256.4,216.7 242.3,214.4 228.1,216.6 224.2,213.4 206.1,213.1 199.7,209.2 194.5,207.9 186.8,210.1 173.9,211.4 164.2,213.2 163.5,214.9 155.1,219.8 145.5,219.2 137.7,219.6 130.0,220.0 117.1,219.8 111.9,222.4 105.5,222.8 102.9,218.7 96.4,216.6 86.1,217.9 79.6,219.8 76.4,223.7 70.6,226.9 66.7,228.2 67.4,232.4 69.3,233.4 71.3,234.6 70.9,236.8 71.5,238.7 69.1,239.4 66.3,240.2 64.9,242.0 62.3,242.6 58.3,244.3 57.8,245.5 54.2,246.0 57.1,247.3 58.7,250.2 58.0,252.3 50.0,251.9 48.3,253.0 48.8,258.7 48.7,260.6 52.2,260.9 53.1,261.9 54.6,261.0 57.7,260.7 60.5,258.4 59.9,257.4 64.4,254.3 64.3,252.8 66.7,252.3 70.0,251.8 73.6,251.7 76.4,254.4 80.7,257.4 81.6,258.7 80.5,259.4 82.2,258.1 84.0,257.0 82.1,256.1 80.3,254.3 76.2,250.8 77.8,249.2 78.9,250.1 85.4,254.0 86.1,257.1 87.5,259.4 89.7,261.3 90.2,259.1 89.4,256.3 91.3,255.7 94.2,255.6 94.1,257.4 95.5,260.6 96.7,261.0 99.8,261.1 102.6,261.8 106.7,260.9 106.5,263.6 105.1,267.1 104.4,268.0 102.0,268.0 105.5,272.3 110.6,281.3 115.1,287.8ZM580.8,292.2 583.0,291.7 587.5,290.4 592.0,288.4 596.5,285.8 599.1,284.2 602.1,279.4 600.4,278.0 597.7,276.3 597.2,274.6 594.6,277.4 591.3,276.8 590.7,274.8 589.4,274.2 587.5,271.6 586.8,269.7 589.4,269.7 591.3,272.5 595.2,274.2 598.4,275.1 604.4,275.9 610.7,275.6 612.0,277.4 613.7,279.4 615.2,281.3 618.8,281.3 619.1,283.9 619.7,287.8 621.4,291.9 623.2,296.2 624.9,298.1 625.8,297.0 627.9,295.2 628.5,291.0 628.4,288.4 630.7,287.1 633.9,283.9 637.2,281.3 639.1,280.0 641.0,280.0 643.4,279.6 644.0,281.7 646.5,285.2 646.6,287.8 650.7,287.1 651.9,292.3 652.0,297.9 654.3,301.4 655.5,304.9 658.5,306.8 659.4,306.6 658.3,303.3 656.8,300.5 654.6,298.9 653.0,295.6 653.0,291.7 654.2,291.0 655.2,292.1 657.7,293.5 660.1,294.9 660.0,297.4 661.9,296.2 665.4,293.6 665.9,291.7 665.3,288.4 662.5,285.8 661.3,283.9 662.6,281.6 664.9,280.5 667.4,282.0 668.9,280.5 672.0,279.6 675.9,278.5 679.2,275.5 680.9,272.3 682.1,268.6 680.8,266.4 678.7,263.8 680.1,261.4 683.0,260.6 679.1,260.2 677.8,258.7 676.8,258.0 679.1,256.9 681.7,255.6 681.3,258.0 682.7,257.4 685.3,256.9 686.6,259.3 688.3,263.2 691.8,262.9 692.0,260.6 690.5,258.5 689.4,257.0 692.3,255.4 693.6,253.7 695.9,252.8 699.1,252.2 702.3,249.6 705.8,245.7 706.2,241.8 707.2,239.5 704.3,238.5 701.2,237.8 702.3,235.5 706.3,233.7 708.4,232.1 713.0,231.6 716.7,231.7 721.3,232.1 724.9,231.7 727.5,228.9 731.4,228.5 731.6,230.2 728.1,233.7 727.1,242.5 729.6,240.0 731.4,238.0 734.3,235.8 735.6,233.4 737.6,231.0 744.3,230.8 749.1,228.6 754.0,227.6 755.9,227.9 757.2,224.4 761.1,223.7 766.2,225.0 770.5,223.1 767.5,221.8 757.2,219.3 746.9,218.0 732.7,218.4 721.0,216.7 706.9,214.4 692.7,216.6 688.8,213.4 670.7,213.1 664.3,209.2 659.1,207.9 651.4,210.1 638.5,211.4 628.8,213.2 628.1,214.9 619.7,219.8 610.1,219.2 602.3,219.6 594.6,220.0 581.7,219.8 576.5,222.4 570.1,222.8 567.5,218.7 561.0,216.6 550.7,217.9 544.2,219.8 541.0,223.7 535.2,226.9 531.3,228.2 532.0,232.4 533.9,233.4 535.9,234.6 535.5,236.8 536.1,238.7 533.7,239.4 530.9,240.2 529.5,242.0 526.9,242.6 522.9,244.3 522.4,245.5 518.8,246.0 521.7,247.3 523.3,250.2 522.6,252.3 514.6,251.9 512.9,253.0 513.4,258.7 513.3,260.6 516.8,260.9 517.7,261.9 519.2,261.0 522.3,260.7 525.1,258.4 524.5,257.4 529.0,254.3 528.9,252.8 531.3,252.3 534.6,251.8 538.2,251.7 541.0,254.4 545.3,257.4 546.2,258.7 545.1,259.4 546.8,258.1 548.6,257.0 546.7,256.1 544.9,254.3 540.8,250.8 542.4,249.2 543.5,250.1 550.0,254.0 550.7,257.1 552.1,259.4 554.3,261.3 554.8,259.1 554.0,256.3 555.9,255.7 558.8,255.6 558.7,257.4 560.1,260.6 561.3,261.0 564.4,261.1 567.2,261.8 571.3,260.9 571.1,263.6 569.7,267.1 569.0,268.0 566.6,268.0 570.1,272.3 575.2,281.3 579.7,287.8ZM308.1,223.6 310.7,219.4 314.5,217.5 322.9,216.2 328.7,216.9 337.8,217.9 342.9,218.3 349.4,219.2 357.1,217.9 360.3,217.5 364.9,218.7 373.9,219.4 377.8,220.2 384.2,220.7 390.7,220.5 398.4,220.7 402.3,216.6 408.7,219.2 415.2,218.5 419.1,222.4 412.6,225.7 404.9,229.5 402.9,232.8 405.5,234.7 411.3,236.0 415.2,237.0 418.7,239.9 421.6,242.1 422.9,238.0 425.5,234.7 425.5,230.2 424.2,227.9 429.4,227.9 433.3,229.5 435.2,232.1 437.8,233.0 441.6,230.4 445.5,236.0 450.7,238.0 453.0,240.5 450.0,242.5 443.6,243.4 439.1,243.8 433.9,247.7 441.0,245.1 441.9,246.4 441.0,248.3 446.2,249.5 442.9,250.8 439.7,251.5 434.5,252.2 433.9,254.4 429.4,256.1 426.8,259.3 426.2,263.2 423.6,264.7 420.3,267.7 421.0,272.3 421.6,275.5 419.7,275.5 418.2,272.3 416.5,269.7 411.3,269.1 408.7,270.7 403.6,270.2 399.3,272.9 398.9,277.4 399.4,280.7 402.3,284.4 406.2,284.4 408.1,281.3 412.6,280.7 411.6,285.2 410.9,287.8 416.5,288.0 417.4,291.7 416.7,294.3 419.7,296.9 422.9,296.2 424.9,297.4 424.2,298.8 421.1,299.1 417.8,297.8 414.3,294.9 412.0,291.7 406.8,290.4 402.9,287.5 400.3,288.2 394.5,285.8 388.9,282.6 388.5,279.1 384.2,275.2 379.7,270.3 376.7,267.5 379.7,272.3 383.1,278.7 380.3,276.4 377.1,272.3 375.4,269.0 373.6,266.3 369.2,263.8 366.8,260.0 364.9,256.1 364.2,252.8 364.9,248.3 364.0,245.8 366.1,245.3 363.6,243.8 359.7,242.5 356.5,238.0 352.6,234.1 348.7,232.8 344.2,231.1 339.0,230.8 334.3,229.5 331.3,231.5 329.0,231.9 326.1,234.7 322.3,234.1 315.8,237.3 312.6,238.0 319.0,235.4 321.6,232.4 315.8,232.4 312.2,230.2 310.7,228.2 312.6,226.7 317.1,225.3 311.9,225.0 308.1,223.6ZM424.9,297.4 426.8,296.2 427.8,294.5 432.6,292.6 434.5,292.7 437.1,294.8 442.3,294.8 445.5,295.6 447.5,297.5 451.3,300.7 456.5,301.4 459.1,303.3 460.4,306.6 462.3,309.8 467.5,311.7 473.3,312.3 476.5,314.7 479.7,315.6 479.8,318.6 479.1,320.8 476.5,324.0 474.6,326.6 474.6,331.2 472.2,335.7 470.7,338.3 466.2,339.3 462.3,342.2 461.9,345.4 459.7,348.0 456.5,351.9 454.5,353.5 451.3,353.2 449.6,352.5 451.7,355.7 450.4,357.9 444.9,359.0 444.5,360.9 441.3,361.6 442.5,363.5 440.7,366.8 437.8,368.7 440.0,370.4 436.6,373.6 436.1,376.5 439.7,379.7 433.9,379.7 428.7,376.5 427.4,371.3 429.4,365.5 430.0,360.3 430.0,356.4 432.4,351.2 432.6,345.4 433.9,340.9 434.3,334.4 433.9,331.8 428.7,328.6 425.5,324.7 422.3,318.9 420.1,316.3 421.0,313.0 421.6,311.1 420.5,309.8 421.6,307.2 423.2,306.2 424.9,302.7 425.1,299.4ZM430.7,207.3 439.1,204.3 447.5,202.4 466.8,201.3 483.6,200.4 499.1,201.7 509.4,203.3 501.7,204.9 500.4,209.5 497.8,212.1 496.5,215.3 493.3,218.5 483.6,220.5 479.7,223.1 473.9,223.7 472.0,226.3 469.4,230.6 465.5,229.8 462.3,228.9 459.7,225.7 457.8,223.1 455.8,219.8 459.1,218.5 454.5,216.6 453.3,213.4 449.4,210.8 443.6,209.7 437.1,209.9 433.3,208.8ZM206.8,337.0 207.4,342.2 208.7,347.3 209.3,351.9 212.6,353.8 219.0,352.3 222.9,350.3 229.3,349.3 233.2,351.0 238.1,354.6 239.0,353.2 241.0,357.4 245.5,358.7 249.3,359.0 253.9,357.0 255.4,352.5 257.7,348.6 258.4,344.7 257.7,340.9 254.9,337.6 252.6,335.0 249.1,332.4 247.9,327.9 245.5,324.7 244.2,322.5 242.9,326.0 242.9,330.5 240.3,331.2 236.4,328.6 236.8,324.4 231.3,323.1 228.1,325.3 227.4,327.9 223.5,326.6 221.6,329.2 218.1,331.2 216.4,334.0 211.3,335.3ZM246.9,361.2 251.7,361.4 251.3,364.4 249.3,364.9 247.7,363.1ZM229.3,310.2 233.2,309.7 235.2,312.8 238.4,310.7 242.3,311.9 248.4,314.7 250.8,316.5 250.3,318.3 253.4,321.2 250.4,321.4 246.1,318.6 242.3,320.3 238.4,319.2 238.1,315.4 234.5,314.1 231.7,313.9 230.4,312.3ZM201.0,306.8 201.9,309.8 202.6,312.4 208.1,313.7 210.6,311.7 212.6,307.2 213.9,302.0 211.3,299.4 209.7,302.0 206.8,304.4 203.5,306.4ZM183.3,301.3 186.1,301.8 190.0,305.9 194.5,309.8 197.1,312.8 197.0,316.0 195.1,316.1 191.9,313.7 188.7,308.8 185.5,305.3ZM196.0,317.3 199.7,316.4 203.5,316.8 208.1,318.3 208.1,319.8 203.5,319.1 197.7,318.1ZM208.7,319.1 213.9,319.2 221.6,319.2 224.2,319.4 222.0,321.4 219.7,321.8 213.9,320.1 208.7,319.9ZM213.9,313.0 213.6,309.5 215.2,307.6 221.0,306.9 217.1,309.3 219.4,309.7 216.8,311.0 219.0,314.7 215.8,312.0 215.5,315.6 214.5,315.6ZM215.2,284.6 218.0,284.6 218.4,287.8 217.2,290.1 220.3,291.7 222.2,293.6 223.5,298.8 222.2,300.7 217.7,299.6 218.8,296.2 217.5,293.0 215.8,289.7 214.9,287.5ZM228.1,268.1 230.0,267.9 231.0,265.1 234.3,264.7 236.8,263.8 241.0,263.2 242.0,261.9 242.3,258.9 243.5,257.4 242.8,254.9 245.2,254.1 248.1,252.5 247.2,251.5 243.4,249.6 242.9,252.5 241.0,253.5 241.2,256.3 240.7,258.7 237.5,260.6 235.8,262.2 231.9,262.5 229.3,264.0 227.7,265.5ZM243.5,249.0 245.5,247.7 244.6,244.4 245.1,240.5 244.2,238.2 243.3,240.5 243.5,245.7ZM215.3,278.7 216.4,275.8 217.7,276.1 216.4,280.0ZM200.4,283.5 202.5,282.5 203.5,283.1 201.7,284.9ZM163.3,295.8 165.9,298.8 165.1,300.6 163.5,300.5ZM123.9,324.0 125.5,328.6 124.2,331.8 122.6,336.3 121.1,340.7 118.6,341.5 117.1,339.8 116.2,336.3 117.6,333.1 117.1,330.5 120.3,329.0 122.2,326.6ZM283.2,353.0 285.5,355.1 287.4,357.2 290.6,357.2 289.4,359.4 288.1,360.9 286.1,362.2 285.6,360.0 284.6,359.0 285.5,357.7ZM283.2,360.9 285.1,362.1 283.5,364.8 281.2,366.1 280.3,368.0 277.7,368.8 275.2,367.8 277.7,365.5 281.6,362.6ZM517.5,243.8 526.9,242.5 527.1,240.3 524.9,239.2 522.9,237.3 522.3,234.7 520.6,232.6 518.4,232.6 516.9,235.1 518.4,237.3 521.0,238.6 518.8,240.2 518.3,241.6ZM517.1,240.9 517.1,238.0 515.2,236.9 512.0,238.6 511.3,241.4 514.6,241.8ZM495.8,225.7 493.9,223.7 496.5,222.5 504.2,222.4 507.5,224.1 505.5,225.4 500.7,226.4ZM415.2,280.3 419.7,278.5 424.9,280.0 429.1,282.4 424.6,282.9 421.0,280.4 416.5,280.2ZM428.7,284.7 431.3,282.7 436.5,284.4 433.3,285.6ZM74.5,206.9 80.9,204.9 95.1,204.7 93.8,206.9 83.5,209.5 79.6,208.8ZM539.1,206.9 545.5,204.9 559.7,204.7 558.4,206.9 548.1,209.5 544.2,208.8ZM127.4,215.9 132.6,213.4 135.1,210.4 148.0,208.8 140.3,212.1 132.6,217.2ZM118.4,204.3 137.7,203.0 144.2,203.9 131.3,205.2ZM182.9,206.2 189.3,203.7 195.8,205.6 189.3,207.5ZM444.9,222.4 437.1,219.8 433.3,217.2 424.2,214.7 413.9,213.4 407.4,215.9 415.2,217.9 420.3,220.5 424.2,225.0 429.4,225.7 437.1,228.2 441.0,226.3ZM370.0,211.4 389.4,215.3 401.0,215.3 408.7,212.7 421.6,213.0 419.1,210.1 410.0,209.5 424.2,206.9 441.0,201.7 408.7,201.7 376.5,207.5 363.6,210.1ZM372.6,218.5 395.8,219.2 393.2,215.3 380.3,214.0 372.6,214.7ZM448.4,246.9 452.6,241.7 456.7,246.4 456.5,248.0 452.6,246.9ZM401.0,225.7 428.1,225.7 430.7,220.5 421.6,215.3 401.0,215.3Z" fill="#fff"/>
</g>
<clipPath id="c2"><rect x="99.0" y="511.0" width="464.6" height="233"/></clipPath><g clip-path="url(#c2)">
<rect x="99.0" y="511.0" width="464.6" height="233" fill="#707070"/>
<path d="M99.0 744.0 563.6 744.0 563.6 511.0 99.0 511.0 99.0 744.0ZM189.3 709.1 184.8 708.2 176.4 707.8 174.8 705.8 176.2 703.9 178.4 703.9 190.4 704.5 195.4 706.5 189.3 709.1Z" fill="#d2d2d2" fill-rule="evenodd"/>
<path d="M99.0 744.0 518.4 744.0 518.4 716.2 524.9 715.1 531.3 716.2 531.3 744.0 563.6 744.0 563.6 511.0 99.0 511.0 99.0 744.0ZM189.3 709.7 180.3 709.4 174.5 708.6 171.7 707.8 171.2 705.8 172.9 703.9 189.3 703.6 215.2 704.5 218.4 705.2 219.6 705.8 219.8 706.5 215.2 708.4 203.2 709.7 189.3 709.7ZM395.8 715.0 390.7 714.0 382.5 713.6 380.3 712.3 382.9 711.6 390.7 712.7 401.0 712.6 406.2 711.9 408.7 710.3 413.3 711.2 422.5 711.6 424.3 712.3 424.0 712.9 422.1 713.6 412.6 713.9 408.7 714.9 395.8 715.0Z" fill="#e600e6" fill-rule="evenodd"/>
<path d="M144.2 744.0 170.0 744.0 170.1 710.3 169.2 709.0 167.3 707.8 167.4 706.5 169.7 703.9 189.3 703.0 228.1 704.4 241.0 704.2 243.9 705.2 243.7 707.1 245.5 707.6 279.7 707.1 284.5 707.8 285.3 708.4 279.7 709.9 266.1 709.1 259.7 709.4 256.3 710.3 256.0 744.0 505.5 744.0 505.5 718.8 507.6 716.2 510.7 715.0 512.0 713.5 521.0 712.7 524.9 710.9 533.9 710.5 537.8 709.7 543.2 712.3 544.2 713.6 544.2 744.0 557.1 744.0 557.1 713.6 559.3 711.0 562.3 709.9 563.6 708.4 563.6 511.0 99.0 511.0 99.0 708.4 111.9 709.8 124.8 709.0 138.4 711.2 143.7 712.9 144.2 713.6 144.2 744.0ZM395.2 715.6 376.5 713.7 373.6 712.3 375.8 711.4 382.9 710.9 393.2 712.0 398.4 712.0 402.9 711.4 408.7 709.4 417.8 710.6 428.1 711.2 430.5 711.6 431.1 712.3 430.4 713.6 428.1 713.9 417.8 714.5 408.7 715.7 395.2 715.6ZM443.6 709.1 443.1 709.0 447.5 708.4 448.0 709.0 443.6 709.1ZM221.6 744.0 247.4 744.0 247.4 711.0 246.1 708.5 243.5 707.9 228.1 707.1 221.6 711.0 221.6 744.0Z" fill="#8200e0" fill-rule="evenodd"/>
<path d="M260.3 744.0 311.9 744.0 311.9 726.5 318.4 725.8 319.7 726.5 319.7 744.0 433.3 744.0 433.3 718.1 433.1 716.8 432.0 715.8 428.7 715.1 421.6 714.7 408.7 716.2 395.8 716.2 382.9 714.7 370.0 714.2 368.8 712.3 370.0 710.3 382.9 710.3 395.8 711.6 400.5 711.0 408.7 708.9 421.6 710.3 427.4 710.1 431.3 709.6 434.5 707.7 447.5 707.9 449.7 708.4 450.0 709.0 438.4 710.0 436.5 710.9 435.8 711.8 435.3 714.9 435.3 744.0 492.6 744.0 492.6 722.0 494.7 718.8 497.8 717.6 499.0 716.2 506.2 715.2 509.4 713.4 518.4 712.0 522.9 710.3 537.8 709.2 550.7 710.9 560.1 709.0 561.9 705.8 563.6 704.3 563.6 511.0 99.0 511.0 99.0 704.3 124.8 704.3 150.6 708.4 163.5 706.5 166.5 703.9 176.4 703.2 174.7 702.6 215.2 702.6 226.8 703.7 241.0 703.5 246.7 703.9 253.9 706.6 292.6 706.4 298.6 708.4 292.9 710.3 279.7 710.9 266.8 709.8 261.5 710.3 260.3 712.9 260.3 744.0Z" fill="#0000f0" fill-rule="evenodd"/>
<path d="M264.6 744.0 291.0 744.0 291.0 725.2 292.6 724.2 318.4 725.2 321.5 725.9 322.3 726.5 322.3 744.0 430.7 744.0 430.7 718.1 430.0 716.7 426.8 715.8 421.6 715.3 408.7 716.7 395.8 716.7 382.9 715.3 370.0 714.7 367.3 714.2 366.3 712.3 367.1 710.3 370.0 709.6 382.9 709.8 395.8 711.1 408.7 708.4 421.6 709.8 424.9 709.6 428.1 709.0 431.1 707.8 434.5 707.0 447.5 707.4 451.9 708.4 452.1 709.0 440.4 710.9 438.4 711.8 436.8 713.6 436.7 744.0 479.7 744.0 479.7 723.9 481.8 722.0 484.9 720.7 486.1 718.8 493.3 717.7 494.1 717.5 494.9 716.2 503.6 714.9 507.3 712.9 516.0 711.6 517.7 710.3 519.7 710.0 537.8 708.7 550.7 710.1 557.0 709.0 559.5 704.5 560.7 703.9 563.6 703.5 563.6 511.0 99.0 511.0 99.0 703.5 111.9 702.4 124.8 703.5 163.5 703.8 170.0 703.2 171.9 702.5 189.3 701.8 215.2 702.1 228.1 703.2 241.0 703.0 252.6 703.7 257.7 705.3 263.5 705.8 292.6 705.6 308.7 706.9 318.4 707.1 322.9 709.0 323.5 709.7 320.0 711.6 318.4 711.7 313.9 710.7 305.5 710.4 286.1 711.4 279.7 713.0 273.9 712.5 266.8 710.3 264.6 712.9 264.6 744.0Z" fill="#0080ff" fill-rule="evenodd"/>
<path d="M268.9 744.0 287.7 744.0 287.7 725.2 289.6 723.9 292.6 723.5 318.4 724.7 324.3 725.9 324.8 726.5 324.8 744.0 428.1 744.0 428.1 718.1 427.4 716.8 421.6 715.8 408.7 717.2 395.8 717.2 382.9 715.8 370.0 715.3 364.6 714.2 363.7 711.6 364.9 710.1 370.0 709.0 382.9 709.3 395.8 710.6 404.2 708.5 408.7 707.9 422.3 709.2 426.8 708.4 429.8 707.1 434.5 706.5 448.7 707.0 453.3 708.0 454.1 708.4 454.2 709.0 442.3 711.3 439.9 712.3 438.3 713.6 438.1 744.0 466.8 744.0 466.8 725.2 470.7 724.1 473.2 722.0 481.3 720.7 482.8 720.1 483.7 718.8 490.2 717.5 490.8 716.2 492.0 715.8 500.0 714.9 502.2 714.2 502.5 713.6 504.2 712.7 512.1 711.6 513.0 710.3 515.2 709.6 532.6 708.2 541.0 708.3 550.7 709.6 553.8 709.0 555.2 705.7 556.8 703.9 563.6 703.0 563.6 511.0 99.0 511.0 99.0 703.0 111.9 701.8 124.8 703.0 163.5 703.2 170.0 702.4 189.3 701.3 215.2 701.5 228.1 702.7 241.0 702.4 253.9 703.2 261.0 704.8 266.8 705.4 292.6 705.0 331.5 707.1 333.4 711.6 331.3 716.8 328.4 713.6 327.1 712.9 317.7 712.5 305.5 711.0 290.9 711.6 284.2 713.3 272.6 714.0 269.4 714.9 268.9 718.1 268.9 744.0Z" fill="#00b4ff" fill-rule="evenodd"/>
<path d="M273.2 744.0 284.5 744.0 284.8 724.6 286.1 723.8 292.6 722.7 305.5 723.8 318.4 724.0 324.8 725.0 327.1 725.9 327.4 744.0 425.5 744.0 425.5 718.1 424.5 716.8 421.6 716.3 408.7 717.7 395.8 717.7 382.9 716.3 369.4 715.7 361.9 714.2 361.1 711.6 361.5 710.3 362.6 709.7 369.4 708.6 384.2 708.9 395.8 710.1 401.6 708.2 408.7 707.4 421.6 708.8 423.9 708.4 427.4 706.7 434.5 705.9 450.7 706.6 453.9 707.2 456.3 708.4 456.3 709.0 443.6 711.8 439.9 713.6 439.6 744.0 459.3 744.0 459.3 725.2 460.4 724.6 466.8 723.8 471.3 721.8 479.7 720.2 481.3 718.8 486.2 717.5 486.8 716.1 488.1 715.2 499.2 714.2 500.4 712.4 502.5 711.6 511.9 705.2 521.7 704.5 523.7 703.9 524.9 702.5 530.2 707.1 548.1 707.9 550.0 708.4 550.7 709.0 552.4 704.5 553.3 703.6 556.5 702.9 563.6 702.4 563.6 511.0 99.0 511.0 99.0 702.4 111.9 701.3 124.8 702.4 163.5 702.7 189.3 700.8 215.2 701.0 228.1 702.2 241.0 701.9 253.9 702.7 266.8 704.9 292.6 704.5 318.4 706.1 331.3 706.2 335.9 707.1 337.7 711.6 335.7 716.8 333.9 717.1 321.6 716.8 318.8 713.6 305.5 711.5 292.6 712.3 291.3 713.6 289.4 713.9 274.4 714.9 273.2 718.1 273.2 744.0ZM370.0 638.5 368.6 635.3 367.5 630.7 368.5 629.4 369.0 625.6 370.0 623.0 380.3 622.8 382.3 622.3 382.9 621.7 415.8 621.3 419.3 620.4 420.8 617.1 422.6 617.1 422.7 627.5 422.3 627.7 411.8 628.8 409.6 630.1 408.7 632.0 398.4 632.2 396.5 632.6 395.8 633.3 385.5 633.4 373.2 634.5 371.2 635.3 370.0 638.5ZM499.1 538.8 496.6 534.3 498.9 529.8 509.9 528.5 510.9 527.8 512.0 525.2 522.3 524.9 524.9 523.9 527.8 527.2 525.0 530.4 515.2 531.1 513.3 532.0 512.0 534.4 501.0 535.8 500.2 536.2 499.1 538.8Z" fill="#1ee6ff" fill-rule="evenodd"/>
<path d="M277.5 744.0 281.3 744.0 281.4 724.6 281.7 723.9 284.1 722.6 285.7 718.1 285.5 717.3 280.0 714.9 279.0 715.5 277.5 718.1 277.5 744.0ZM330.0 744.0 422.9 744.0 422.9 718.1 421.6 716.8 415.2 718.0 395.8 718.3 386.1 717.8 382.9 716.8 370.0 716.6 363.6 715.8 359.7 714.7 358.6 712.3 358.6 711.0 359.3 709.7 362.3 708.6 370.0 707.9 381.0 708.0 392.0 708.5 395.8 709.2 398.4 707.6 403.6 706.9 414.5 706.8 421.6 707.9 422.9 706.6 424.9 706.0 434.5 705.2 456.6 706.5 458.2 707.8 458.4 709.0 444.9 712.1 441.4 713.6 441.0 714.9 441.0 744.0 457.1 744.0 457.1 725.2 458.4 724.5 466.8 722.9 470.1 721.3 477.3 720.1 478.8 718.8 482.4 717.5 482.4 716.2 481.7 715.5 473.1 714.2 471.6 710.3 469.3 709.0 470.1 706.5 472.6 705.2 473.5 705.2 474.3 706.5 475.2 707.0 477.8 707.4 495.2 707.5 497.8 707.1 498.9 706.5 518.5 703.9 520.3 703.2 520.7 702.6 524.9 701.8 531.9 702.6 534.7 705.2 537.8 707.1 543.6 705.1 549.7 701.3 550.6 700.0 553.9 701.4 563.6 701.9 563.6 511.0 99.0 511.0 99.0 701.9 111.9 700.8 124.8 701.9 163.5 702.1 189.3 700.0 215.2 700.5 228.1 701.6 241.0 700.6 261.0 702.8 266.8 704.3 293.2 704.0 331.3 705.7 339.2 706.5 340.2 707.1 342.0 711.6 340.2 716.8 329.4 718.3 326.8 719.4 325.8 720.7 326.9 723.9 328.7 724.7 329.9 725.9 330.0 744.0ZM364.9 639.2 362.4 638.5 362.3 630.7 364.9 629.4 365.5 628.1 365.2 626.9 361.3 624.3 363.0 623.0 382.9 621.0 411.3 620.8 416.4 619.7 419.1 617.1 421.6 616.2 424.5 617.1 424.8 627.5 422.9 628.4 415.2 629.8 411.4 632.0 408.7 632.5 376.5 635.3 374.6 635.9 373.4 637.9 371.4 639.1 364.9 639.2ZM491.3 538.9 490.9 538.8 491.5 534.3 493.8 529.8 496.0 529.1 507.0 527.8 507.9 525.2 524.9 523.4 532.3 523.9 534.2 525.9 533.8 527.2 531.7 529.8 527.5 530.7 518.4 531.8 516.9 532.4 516.3 534.3 515.3 534.9 504.5 536.2 503.1 538.8 499.1 539.3 491.3 538.9ZM124.8 643.7 124.2 642.4 122.9 642.0 111.9 641.7 110.9 635.9 111.9 614.8 112.6 616.9 114.5 617.6 124.8 617.8 134.5 617.3 136.6 616.5 137.9 610.7 142.4 619.1 143.0 625.6 140.4 633.3 138.9 634.6 137.7 641.1 126.7 641.4 125.5 642.0 124.8 643.7ZM241.0 566.2 239.7 565.4 239.0 551.8 239.8 546.6 241.0 542.5 242.5 544.7 244.8 546.3 248.7 547.6 253.9 548.4 257.9 550.5 259.7 553.6 261.6 555.6 268.7 558.8 271.5 561.5 271.2 563.4 266.8 565.0 253.9 564.8 241.0 566.2ZM298.2 722.6 305.5 723.3 313.1 722.6 314.8 722.0 315.6 720.7 315.9 718.8 313.3 717.5 308.5 713.6 304.9 712.3 300.1 714.9 295.6 718.8 295.7 720.7 296.5 721.9 298.2 722.6Z" fill="#00ffff" fill-rule="evenodd"/>
<path d="M347.4 744.0 366.8 744.0 366.8 720.7 366.5 719.4 365.0 718.1 363.3 717.5 357.8 716.9 347.4 717.0 337.8 718.5 335.0 720.1 335.1 720.7 336.5 721.3 344.9 722.0 347.4 723.3 347.4 744.0ZM442.4 744.0 455.0 744.0 455.0 725.2 457.1 724.2 464.9 722.6 467.5 721.2 474.6 720.1 478.5 717.5 478.0 716.2 470.1 714.9 469.2 714.2 467.9 710.3 460.4 709.1 452.6 711.3 446.4 712.3 442.9 713.6 442.4 714.9 442.4 744.0ZM304.0 722.6 310.4 722.0 311.5 720.7 310.9 718.8 305.5 717.5 300.3 718.8 299.7 720.7 300.1 721.3 300.8 722.0 304.0 722.6ZM480.2 706.5 486.2 707.1 490.0 706.8 513.3 703.9 520.4 701.7 524.9 701.3 539.1 701.8 543.8 701.3 545.7 700.0 550.7 699.3 563.6 700.6 563.6 531.1 562.3 530.3 559.1 529.9 537.8 529.8 530.7 531.1 523.6 531.7 520.9 532.4 519.8 534.9 508.8 536.2 507.8 536.9 506.8 538.9 502.3 539.6 492.6 540.1 490.4 540.8 489.6 542.1 486.6 543.4 477.6 544.0 477.1 546.0 473.7 547.2 463.6 548.0 462.7 548.5 462.8 551.1 460.4 552.7 447.5 553.1 446.3 551.8 444.9 551.2 434.5 550.5 433.5 549.2 432.6 527.2 434.5 525.6 447.5 526.5 451.3 528.2 452.1 529.1 453.4 533.7 455.2 537.2 457.6 540.1 460.4 542.1 470.7 538.6 486.2 534.8 488.8 529.8 489.8 529.1 503.0 527.8 503.8 525.2 505.5 524.8 521.7 523.1 535.2 522.7 537.8 522.0 540.4 523.1 550.7 523.8 561.7 522.8 563.6 521.4 563.6 511.0 99.0 511.0 99.0 521.4 99.6 521.5 111.9 522.0 137.7 521.4 139.4 522.6 141.6 523.1 163.8 524.6 165.7 527.8 163.5 553.1 150.6 549.3 148.8 531.1 147.4 530.0 137.7 529.1 130.6 529.5 127.0 530.4 126.5 531.1 126.2 533.0 124.8 550.2 122.5 536.2 121.7 534.9 119.0 534.1 111.7 533.7 109.3 531.6 99.0 531.1 99.0 700.6 150.6 700.6 163.5 701.1 177.1 699.8 202.2 699.3 228.1 700.6 253.9 699.9 259.9 701.9 271.3 703.0 282.3 703.2 292.6 702.5 301.6 703.1 318.4 703.2 322.9 704.6 341.6 705.8 344.2 706.4 370.0 706.2 379.7 705.5 382.9 704.5 393.2 704.2 395.8 703.2 405.5 702.8 408.5 701.3 418.4 701.1 429.4 700.0 430.5 699.3 432.0 696.6 433.9 692.9 434.5 690.1 435.0 692.9 438.1 698.7 438.8 701.3 447.7 701.9 451.3 702.9 460.4 703.2 462.9 704.0 476.9 704.5 479.3 705.2 480.2 706.5ZM486.2 636.6 481.6 634.8 470.7 633.0 466.2 631.4 463.6 629.6 460.4 628.4 459.3 624.9 459.3 618.4 460.3 613.3 470.0 612.4 471.2 612.0 473.1 607.4 478.4 607.0 482.4 606.1 485.3 603.6 486.2 598.3 499.1 598.9 500.8 604.8 499.2 612.0 489.4 612.5 487.3 613.3 486.5 614.6 476.6 615.9 476.3 617.8 477.5 620.4 486.2 621.0 487.5 622.0 492.0 622.6 512.0 622.9 520.8 621.7 524.9 617.6 526.1 621.0 526.2 626.2 525.0 630.7 515.8 631.3 513.3 631.9 512.2 632.7 502.3 633.1 499.7 633.9 499.1 635.3 488.7 635.5 486.8 635.9 486.2 636.6ZM123.5 644.4 119.0 643.7 118.4 643.0 109.7 641.7 108.9 636.6 108.9 630.1 111.9 584.1 113.5 588.0 114.8 593.2 116.0 601.6 117.1 615.2 118.4 616.5 124.8 617.1 130.8 616.5 132.1 615.2 132.4 610.7 135.8 609.9 148.3 609.4 149.3 608.4 150.6 604.8 152.8 612.6 153.8 619.1 150.7 633.3 144.6 634.6 141.8 641.1 131.9 642.3 130.0 643.7 123.5 644.4ZM369.4 658.6 357.1 657.9 356.1 655.3 354.5 654.7 344.0 654.0 342.9 653.3 341.0 653.0 331.2 652.7 330.3 651.4 328.7 651.1 318.2 650.8 317.7 650.1 315.8 649.7 305.4 649.5 304.8 648.8 302.9 648.4 292.5 648.2 290.6 645.6 279.2 644.3 278.2 643.0 276.2 642.4 266.3 641.7 262.9 640.7 253.8 640.4 251.1 632.0 244.8 630.9 237.7 631.0 232.2 632.0 231.3 636.6 231.3 641.7 228.1 644.0 224.2 645.0 215.2 648.9 214.0 646.9 212.5 645.6 210.8 638.5 202.2 637.9 201.5 632.0 200.6 623.0 200.1 529.8 201.6 527.6 202.2 527.1 241.3 527.2 243.1 529.8 243.1 533.0 244.2 535.6 247.4 540.2 251.3 542.9 261.6 547.3 266.8 550.8 271.8 548.5 273.8 546.6 275.2 544.0 276.7 543.4 279.7 542.7 292.6 542.4 305.5 540.6 309.3 542.7 310.7 545.3 312.9 547.2 318.4 549.3 331.3 547.6 344.2 547.6 347.4 549.2 349.0 556.3 348.8 557.6 347.8 560.2 344.2 562.8 333.9 563.0 331.9 563.4 331.3 564.1 308.1 564.2 306.1 564.6 305.5 565.4 304.4 563.4 302.9 563.0 282.9 562.9 280.3 563.3 279.7 564.1 273.9 564.7 271.3 565.4 253.2 565.8 241.0 567.1 237.7 566.0 237.1 565.4 234.2 546.6 232.9 542.7 231.3 540.4 227.4 538.0 215.1 535.9 213.2 536.4 210.0 537.8 207.5 540.1 205.8 543.4 204.8 547.9 203.4 566.0 203.1 594.5 204.2 596.9 206.1 598.0 217.2 599.0 217.7 604.2 219.5 606.8 226.8 607.4 241.0 607.4 242.0 609.4 243.5 609.8 277.7 609.8 279.0 609.5 279.7 608.7 290.7 608.1 292.5 604.8 302.9 604.6 305.5 603.5 318.4 603.5 319.0 604.5 321.0 605.0 331.3 605.4 332.6 608.7 331.3 612.7 322.9 613.6 320.2 614.6 319.7 615.9 319.7 620.1 318.4 624.3 266.8 624.3 258.0 624.9 256.7 628.1 256.9 630.7 261.0 631.7 324.8 631.8 329.6 630.7 331.3 626.8 332.6 628.6 334.5 629.1 344.4 629.4 345.5 630.2 347.4 630.5 357.1 630.7 361.2 629.4 362.2 628.1 361.4 626.9 357.1 625.7 342.9 625.6 340.5 624.3 344.2 622.8 357.1 622.7 382.9 620.5 409.4 620.4 413.0 619.7 417.8 616.9 421.6 615.5 426.4 617.1 426.9 627.5 424.2 628.9 410.7 632.7 399.7 634.1 381.6 635.3 378.5 635.9 376.6 637.9 373.9 639.2 370.0 639.9 360.6 640.4 358.9 644.3 358.4 647.6 357.9 652.7 358.2 656.0 360.3 656.4 370.0 656.5 370.7 657.9 370.1 658.6 369.4 658.6ZM460.4 572.0 459.3 569.2 460.4 566.6 473.3 566.6 475.8 569.2 473.3 572.0 460.4 572.0Z" fill="#00f0c8" fill-rule="evenodd"/>
<path d="M353.9 744.0 360.3 744.0 360.3 720.7 359.4 719.4 357.1 717.9 343.3 718.8 341.5 720.1 344.2 721.0 352.6 721.9 353.9 723.3 353.9 744.0ZM443.9 744.0 452.8 744.0 452.8 725.2 453.3 724.6 462.3 722.6 465.5 720.7 473.3 719.5 474.6 718.1 474.7 717.5 473.6 716.2 466.0 714.9 464.1 710.3 460.4 709.8 457.9 710.3 455.2 711.7 447.5 712.5 444.4 713.6 443.9 714.9 443.9 744.0ZM305.1 722.0 305.9 722.0 307.4 720.7 305.5 718.7 303.6 720.7 305.1 722.0ZM486.1 706.5 489.4 705.4 499.1 705.2 500.4 704.1 502.9 703.7 512.0 703.3 513.9 701.8 518.4 701.0 526.2 700.7 537.8 701.3 542.3 699.6 550.7 698.8 563.6 699.7 563.6 531.7 554.6 531.4 550.7 530.4 537.8 530.4 536.5 531.5 534.6 531.9 524.9 532.3 524.2 534.9 522.9 535.8 512.0 536.8 511.2 538.8 510.0 539.6 498.9 540.8 497.8 543.3 497.1 543.6 486.2 544.0 485.2 546.6 484.2 547.4 468.0 548.5 467.2 551.8 465.1 553.1 442.9 553.6 434.5 552.7 431.3 549.2 430.7 539.5 428.3 527.2 428.5 526.5 430.7 523.6 434.5 522.1 447.5 522.4 452.0 523.1 457.1 524.8 460.4 527.6 486.2 525.1 493.3 526.3 499.1 527.8 499.7 525.2 501.0 524.3 512.0 523.3 515.8 522.4 539.1 521.4 548.1 521.6 550.9 522.6 552.2 521.4 553.3 521.1 563.6 520.7 563.6 511.0 99.0 511.0 99.0 520.7 147.4 521.0 149.1 521.4 150.4 522.6 160.9 522.9 168.7 524.2 169.8 524.6 169.6 526.5 170.0 527.8 163.5 595.8 157.5 588.7 150.6 582.5 148.0 565.4 145.8 533.0 145.2 531.1 141.6 530.1 135.8 529.9 130.6 530.8 129.6 532.4 127.3 573.1 125.8 586.1 123.2 601.6 122.2 615.2 124.8 616.5 127.2 615.2 127.1 610.7 127.7 610.0 138.9 608.7 141.6 607.2 143.8 604.8 144.8 604.6 151.3 603.7 158.4 604.0 161.3 604.8 160.0 624.3 156.3 633.3 150.2 634.6 147.5 637.9 145.9 641.1 137.4 642.4 133.2 644.3 128.0 644.8 115.8 644.4 107.5 641.7 106.9 636.6 106.9 630.1 110.6 564.1 111.9 553.7 113.5 549.2 114.8 543.4 115.4 536.2 112.6 534.8 102.0 533.7 99.0 531.7 99.0 699.7 150.6 699.7 163.5 700.1 175.1 698.9 202.2 698.3 228.1 699.5 253.9 699.0 262.5 700.0 266.8 701.9 279.7 702.6 292.6 701.9 305.5 702.6 323.6 702.7 329.2 703.2 331.3 704.5 341.0 704.7 344.2 705.2 370.3 705.2 371.2 704.5 373.2 704.2 383.1 703.9 385.5 702.9 396.0 702.6 397.3 701.3 399.1 701.0 408.7 700.6 411.3 700.1 422.3 699.3 427.5 693.5 429.8 692.9 432.7 684.5 434.5 672.9 437.4 692.2 438.4 693.1 441.7 694.2 447.5 701.3 456.5 701.6 460.1 702.6 470.0 702.8 482.3 704.1 484.2 704.6 486.1 706.5ZM370.0 659.2 361.0 659.0 351.3 658.1 349.9 657.9 345.3 655.3 324.3 653.4 319.7 652.1 308.7 651.2 305.5 650.2 296.5 649.9 292.6 648.9 284.2 648.4 283.2 648.2 280.0 645.6 270.6 645.2 268.7 644.6 267.1 643.0 257.1 642.6 253.9 641.7 246.1 640.7 245.2 640.4 244.9 636.6 241.0 632.0 237.7 636.6 237.7 641.7 235.2 644.2 228.8 648.2 215.2 653.7 212.0 647.6 210.6 646.6 207.3 645.6 204.8 641.4 202.2 638.5 198.9 637.9 198.2 633.3 197.4 623.0 195.8 529.8 196.7 527.2 202.2 525.9 241.0 525.9 244.2 526.5 246.5 527.2 247.4 529.8 247.4 533.0 249.8 536.2 252.6 538.7 253.9 539.6 261.1 541.4 266.8 543.7 269.4 542.3 272.9 541.4 292.6 539.7 305.5 536.9 312.6 540.0 318.4 543.8 344.2 544.2 349.4 545.7 352.6 547.5 354.4 549.2 357.1 554.0 358.9 560.2 358.8 564.1 357.1 568.4 351.0 565.4 344.2 563.4 339.0 564.5 318.4 564.7 314.5 565.6 305.5 566.0 296.4 565.4 292.6 563.4 288.7 564.4 279.7 564.7 277.7 565.7 273.2 566.2 253.9 566.6 249.3 567.6 241.0 568.1 236.4 566.7 234.6 565.4 231.9 554.0 230.1 549.2 228.1 545.8 215.2 541.7 212.4 544.0 210.1 547.2 208.4 551.1 207.0 556.3 205.1 572.5 204.4 593.2 205.5 595.2 208.1 596.9 221.3 599.0 222.8 604.2 224.8 605.7 228.1 606.8 246.1 607.0 250.1 607.4 253.6 609.4 266.8 609.4 270.6 608.4 280.0 608.1 284.7 604.8 286.8 604.5 301.0 602.8 318.4 602.6 324.8 604.0 332.9 604.8 334.3 605.5 335.4 608.7 335.1 612.6 334.3 613.3 324.8 614.4 323.1 615.9 323.5 617.8 325.7 618.4 328.7 624.4 319.7 624.9 266.6 624.9 263.5 628.1 265.5 630.2 266.8 630.8 318.4 630.8 322.3 628.1 321.5 626.9 322.4 626.2 331.9 625.6 334.6 623.0 338.4 622.2 370.0 621.2 375.8 620.2 382.9 619.8 408.7 619.9 421.6 614.9 425.5 615.8 428.3 617.1 429.0 627.5 426.2 629.3 406.2 634.5 382.4 635.9 379.9 637.9 377.0 639.1 368.7 640.8 362.6 644.3 361.6 648.9 361.9 652.7 366.1 654.8 370.0 655.6 371.8 656.6 372.6 657.9 372.3 658.6 370.0 659.2ZM470.0 637.9 460.4 635.5 457.1 624.9 457.1 619.1 457.8 613.3 460.9 612.0 465.4 607.4 474.7 606.1 482.3 603.9 483.0 602.9 483.6 598.4 484.8 597.7 501.7 598.4 502.5 599.0 504.3 604.8 504.8 612.0 498.6 613.3 495.8 615.2 485.7 615.9 483.1 617.8 483.3 618.4 485.9 620.4 495.8 620.7 499.1 621.7 512.6 621.7 515.0 620.4 516.4 617.8 524.9 610.7 528.6 621.0 528.7 626.2 527.5 630.9 520.4 633.0 505.5 634.0 495.8 636.8 473.3 638.4 470.0 637.9ZM459.1 572.7 457.8 571.8 457.0 569.2 457.7 566.7 460.4 565.8 478.0 566.0 480.3 566.7 481.0 569.2 478.2 570.5 476.1 572.5 473.3 573.1 460.4 573.1 459.1 572.7ZM355.8 629.4 357.5 629.4 358.8 628.1 357.1 626.7 344.2 626.7 340.0 627.5 342.3 628.1 355.8 629.4Z" fill="#00f064" fill-rule="evenodd"/>
<path d="M445.3 744.0 450.7 744.0 451.0 724.6 453.9 723.3 460.4 722.1 461.6 720.2 465.8 718.1 464.7 716.2 461.8 714.9 460.4 710.3 459.7 711.9 458.4 712.6 447.5 713.1 445.9 713.6 445.6 714.2 445.3 744.0ZM294.2 698.7 303.6 699.2 320.3 699.2 328.0 698.7 331.3 696.7 375.2 696.5 380.3 695.7 382.9 693.5 393.2 693.3 395.8 692.2 397.8 693.2 402.3 693.4 421.6 693.5 425.8 692.9 428.4 685.8 430.0 684.5 431.5 677.3 432.4 676.0 434.5 655.7 436.8 668.3 439.9 692.2 442.3 693.3 447.5 694.2 448.4 695.5 449.6 696.1 460.4 697.2 476.3 697.4 486.2 698.9 499.1 698.0 537.8 699.3 550.7 698.3 563.6 698.5 563.6 543.4 550.7 540.7 544.2 543.1 531.5 546.6 527.9 548.5 525.2 551.1 522.9 549.5 517.1 548.8 512.0 548.6 503.8 549.8 502.5 551.8 499.1 565.4 487.8 566.0 486.3 569.2 482.0 570.5 479.9 572.5 477.7 573.1 475.7 574.4 473.3 577.1 468.7 576.2 460.0 575.7 457.6 573.1 455.5 571.8 454.8 569.2 455.2 566.7 460.4 564.8 475.0 564.7 477.8 562.8 478.8 560.8 479.7 557.0 473.4 548.5 471.3 553.1 459.9 554.4 455.2 557.3 449.3 559.5 447.5 559.7 442.3 556.8 434.5 555.0 431.4 552.4 429.2 549.2 428.9 544.0 426.8 534.2 423.6 525.9 421.6 523.5 331.3 523.1 318.4 523.9 292.6 523.2 253.9 523.1 251.0 525.9 251.7 527.2 251.7 533.0 253.9 535.2 266.1 536.5 271.9 538.0 279.7 538.7 288.7 537.6 297.1 535.9 301.0 534.2 305.5 533.2 310.7 534.4 318.4 538.3 325.5 539.9 331.3 540.7 348.7 540.9 357.1 541.7 359.1 544.0 360.8 547.9 362.6 560.2 362.2 564.1 360.9 568.0 357.1 574.0 344.2 568.5 331.3 569.9 318.4 568.5 292.6 568.5 279.7 569.9 266.8 570.6 253.9 570.6 249.3 569.5 239.7 568.8 235.2 567.6 232.4 566.0 228.1 553.5 222.2 550.3 215.2 547.5 213.9 549.1 210.5 555.7 208.1 565.1 206.1 581.5 205.8 593.2 207.5 595.1 210.6 596.6 222.2 598.1 225.4 599.0 228.1 604.2 266.8 604.3 291.9 601.6 318.4 601.6 324.8 602.6 327.0 603.6 335.2 604.7 337.1 605.5 338.4 609.4 338.3 613.3 328.3 614.6 326.4 615.9 327.4 617.8 330.0 618.3 339.7 618.1 344.2 617.1 346.8 618.1 353.9 618.7 370.0 618.8 382.9 617.6 395.8 617.1 399.7 618.4 408.7 618.9 412.7 617.8 417.1 615.4 421.6 614.2 426.8 615.2 430.3 617.1 431.1 627.5 430.1 628.8 426.8 630.5 421.6 631.4 411.8 634.0 410.0 635.8 408.7 638.6 401.6 638.0 382.9 637.9 375.4 640.4 370.9 643.0 366.2 644.3 365.0 648.9 365.9 652.7 370.4 654.0 374.6 657.9 374.5 658.6 372.7 659.2 370.0 662.5 356.7 662.5 351.3 659.2 343.8 658.6 340.3 657.7 331.3 657.3 327.4 656.3 318.4 655.5 305.5 655.5 301.0 654.6 291.9 654.1 289.4 653.3 284.8 652.9 269.4 653.1 267.2 654.0 257.7 655.2 253.9 657.1 249.5 654.7 248.0 651.4 245.9 648.9 241.0 646.1 237.7 648.8 234.5 650.7 215.2 658.6 212.0 653.4 209.6 647.6 207.4 646.6 202.1 645.6 197.8 638.5 195.5 637.9 194.6 633.3 194.2 623.6 194.1 606.8 191.8 527.8 191.1 526.5 189.3 525.5 179.0 524.1 176.4 523.9 174.1 526.5 174.3 529.1 167.0 599.0 167.6 617.1 169.8 622.3 161.9 633.3 150.6 639.7 149.4 641.7 146.1 643.2 135.1 646.6 124.8 651.5 122.9 650.3 119.5 646.9 111.9 646.3 108.6 643.0 105.2 641.7 104.9 630.1 107.4 580.3 106.8 566.7 105.9 557.0 104.5 550.5 102.2 546.1 99.0 543.4 99.0 698.5 111.9 697.9 163.5 697.9 181.6 697.0 189.3 695.9 202.2 695.2 215.2 695.9 228.1 695.4 237.1 696.5 253.9 696.6 259.7 697.9 266.8 698.6 294.2 698.7ZM484.2 644.4 473.3 643.0 460.4 642.6 457.2 634.6 455.0 624.9 455.3 613.3 457.2 612.0 460.1 605.5 473.3 605.1 479.7 603.8 480.6 602.9 481.2 598.4 486.2 596.6 502.9 597.9 505.1 598.4 505.7 599.0 510.7 613.3 512.0 614.1 524.9 603.8 528.4 611.3 531.1 621.0 531.2 626.2 530.7 630.7 524.9 634.7 512.0 634.0 507.1 634.6 503.0 635.9 499.2 640.4 491.3 641.1 489.6 641.7 486.7 644.3 484.2 644.4ZM137.3 604.2 144.2 601.6 143.2 577.7 142.6 533.0 141.6 531.1 137.7 530.3 133.8 531.1 132.8 533.0 132.7 535.6 132.7 601.6 134.5 603.0 137.3 604.2Z" fill="#50f000" fill-rule="evenodd"/>
<path d="M446.7 744.0 448.5 744.0 448.6 724.6 449.6 723.3 451.9 722.0 453.8 716.8 453.1 714.9 447.5 713.6 446.7 714.9 446.7 744.0ZM304.0 698.0 318.4 698.2 320.4 696.8 322.3 696.2 330.0 695.5 370.0 695.5 372.6 693.4 383.1 692.9 384.2 692.1 388.1 691.7 403.6 691.7 407.4 692.1 408.6 692.9 421.7 692.9 425.0 685.8 427.2 684.5 429.0 677.3 430.6 676.0 434.5 638.4 438.2 655.3 441.2 683.8 442.4 692.2 442.9 692.5 451.7 694.2 453.3 695.6 460.4 696.4 480.4 696.0 483.9 695.5 486.2 694.1 496.2 696.8 512.0 697.5 524.9 697.6 537.8 698.4 563.6 697.5 563.6 554.0 550.7 551.0 537.8 552.4 522.3 552.0 517.8 551.7 512.8 549.8 511.4 549.8 508.8 551.8 507.7 565.4 499.1 566.0 494.8 569.2 485.8 570.5 481.6 573.8 479.2 574.4 477.6 577.0 475.6 577.7 473.3 577.9 459.1 576.4 456.3 575.7 454.7 573.1 453.1 571.8 452.5 569.2 452.8 566.7 453.4 566.0 455.5 565.4 456.3 564.7 456.5 563.4 452.0 561.4 442.6 560.2 434.5 557.3 431.6 555.7 429.4 553.5 427.2 549.8 427.0 546.0 425.5 539.5 421.6 529.9 408.7 529.1 407.4 529.4 404.2 530.7 401.6 532.7 398.2 539.5 397.1 543.7 395.8 553.5 392.1 560.8 389.5 570.5 387.7 583.5 386.4 601.6 382.9 604.9 381.2 601.6 380.3 575.1 378.2 557.6 376.8 552.4 375.2 548.9 372.9 546.0 370.0 543.6 368.7 546.0 367.6 549.8 365.6 564.1 364.3 568.6 360.4 575.7 357.1 579.0 350.0 577.1 344.2 574.1 331.3 576.8 318.4 575.6 305.5 576.9 291.9 574.0 279.7 573.8 274.5 571.8 253.2 571.3 236.4 569.4 231.3 567.6 229.8 566.0 228.1 561.1 222.1 557.0 215.2 553.2 212.3 558.9 210.3 565.4 208.6 573.8 207.3 584.8 207.3 593.2 209.3 595.0 211.9 596.1 215.2 596.8 228.1 596.9 266.8 596.4 270.0 597.5 292.6 598.7 305.5 595.9 318.4 595.9 326.1 599.6 330.7 602.6 331.3 603.6 337.1 604.3 339.9 605.5 342.3 613.3 340.3 614.3 330.7 615.2 329.8 615.9 331.3 617.8 334.5 616.9 344.2 616.0 353.3 617.8 357.1 618.1 370.0 618.1 381.6 617.0 395.8 616.6 408.7 618.3 412.0 617.3 415.8 614.8 421.6 613.6 428.7 614.7 432.0 616.8 433.2 627.5 432.6 629.8 431.3 631.1 428.1 631.9 421.6 632.2 415.0 634.0 412.0 636.1 410.8 638.5 408.7 639.4 399.2 639.1 395.8 638.5 382.9 638.5 382.0 639.8 377.2 643.0 369.9 644.3 368.4 648.9 369.8 652.7 372.4 654.0 374.0 656.0 376.6 657.9 376.6 658.6 375.4 659.2 374.1 662.5 370.0 663.5 357.1 663.5 350.0 662.6 344.2 659.2 334.5 658.9 331.5 657.9 322.9 657.5 318.4 656.6 297.7 656.3 293.4 655.3 284.2 654.8 279.7 653.9 275.2 654.8 266.2 655.3 260.3 659.0 253.9 662.0 246.8 659.1 241.0 654.9 235.8 656.4 228.1 657.6 215.1 663.4 210.6 656.7 207.2 647.6 204.2 646.6 197.1 645.6 193.4 638.5 192.2 637.9 191.1 633.3 191.0 609.4 189.3 569.2 186.9 561.5 184.2 555.7 180.6 550.5 176.4 546.6 170.7 601.6 171.8 604.2 173.9 612.5 175.9 617.1 176.4 618.0 181.0 620.2 182.7 622.3 180.3 624.5 176.4 626.2 170.3 632.7 159.7 641.0 150.6 649.3 137.7 650.7 135.1 652.0 130.6 652.5 120.9 652.5 114.5 651.4 112.0 646.9 107.2 646.3 105.2 643.0 103.0 641.7 102.9 630.1 105.0 580.3 102.8 564.1 101.1 558.2 99.0 554.0 99.0 697.5 111.9 696.9 163.5 696.9 176.4 696.2 181.6 695.2 202.2 694.2 257.7 695.7 263.5 696.3 266.8 697.5 293.9 697.5 304.0 698.0ZM460.4 649.6 457.8 645.2 455.7 639.8 452.8 624.9 453.1 614.6 452.8 613.3 453.9 612.0 455.5 605.5 460.4 604.6 473.3 604.5 477.7 603.6 478.2 602.9 478.7 598.4 482.5 596.4 486.2 591.2 492.3 596.4 504.2 597.3 508.6 598.4 512.0 606.2 519.7 600.3 525.1 597.1 528.0 601.6 530.3 606.8 532.1 613.3 533.6 621.0 533.5 630.7 530.4 634.6 524.9 635.5 511.0 634.6 507.0 635.9 504.6 638.5 492.7 645.0 485.3 645.6 460.4 649.6ZM137.7 566.7 137.7 567.3 139.4 535.6 139.3 533.0 137.7 531.0 136.1 533.0 136.0 535.6 137.7 566.7ZM329.5 536.9 331.3 537.3 346.1 536.9 350.7 535.6 350.7 532.4 348.1 530.1 344.2 528.6 331.3 528.6 327.4 530.1 324.8 532.4 324.8 535.6 329.5 536.9ZM277.6 536.2 279.7 536.6 286.1 535.6 286.1 532.4 283.5 530.5 279.7 529.1 276.5 530.2 273.9 531.8 273.2 533.0 274.9 535.6 277.6 536.2Z" fill="#ffff00" fill-rule="evenodd"/>
<path d="M529.0 696.1 544.9 696.7 556.5 696.3 560.7 695.5 563.6 692.2 563.6 564.5 550.7 561.3 537.8 560.0 533.9 558.3 530.9 555.7 526.2 553.1 522.9 553.1 519.9 554.4 518.4 555.7 518.4 558.9 516.5 564.1 515.2 571.2 512.2 579.0 511.8 579.0 508.4 573.1 499.1 572.0 489.4 572.9 482.7 574.4 481.5 577.0 480.4 577.7 477.1 578.2 470.0 578.3 454.5 576.4 452.7 575.7 450.7 571.8 450.3 566.7 451.7 565.4 452.0 563.4 436.5 560.3 429.4 557.6 427.6 555.7 425.6 551.8 424.9 549.2 424.9 546.0 421.6 536.3 408.7 535.0 404.6 538.8 401.7 544.0 399.2 579.6 397.8 585.4 395.8 589.2 393.4 601.6 392.0 604.8 389.7 605.5 382.9 605.8 378.4 604.8 377.7 601.6 378.1 597.7 377.6 592.5 376.5 587.4 376.5 583.5 375.3 576.4 372.9 566.7 370.0 559.6 367.1 571.2 364.9 576.4 363.0 579.0 348.1 580.0 346.6 580.3 344.2 581.7 333.9 582.8 331.3 585.0 327.8 586.7 326.1 588.7 325.9 589.3 326.8 590.1 331.3 593.4 332.6 598.4 334.5 601.0 337.4 602.3 338.6 603.6 342.3 604.8 344.2 609.7 356.7 617.1 370.0 617.2 374.5 616.6 395.8 615.9 408.7 617.8 410.5 617.1 413.4 614.6 418.4 613.3 428.1 613.2 431.3 613.8 432.8 614.6 433.9 616.4 434.5 621.2 437.8 630.1 440.3 641.7 442.2 659.2 443.7 683.8 444.9 692.2 447.5 693.0 454.5 693.7 455.8 694.2 457.1 695.5 460.4 695.8 476.5 695.6 477.8 695.5 481.0 693.8 486.2 693.3 490.2 693.5 499.1 695.1 512.0 695.2 529.0 696.1ZM421.6 604.3 417.8 600.8 415.2 595.8 415.4 587.4 418.4 583.1 421.6 579.6 426.1 587.4 427.5 595.8 426.9 598.4 425.9 600.3 421.6 604.3ZM460.4 656.7 457.8 654.0 455.4 650.2 452.5 640.4 450.7 624.9 450.9 614.6 450.3 612.6 450.9 605.5 451.6 604.8 455.2 604.3 475.2 603.6 475.7 602.9 476.2 598.4 478.5 596.4 480.9 591.3 481.6 591.1 486.2 590.6 493.0 591.3 499.1 596.4 509.4 596.8 511.3 597.5 512.0 598.3 524.9 590.0 527.1 591.9 529.4 594.7 531.4 598.4 534.4 608.7 535.8 618.4 536.3 626.2 536.4 630.7 535.3 634.6 533.3 635.5 524.9 636.2 511.8 635.3 508.5 638.5 504.2 640.0 501.3 641.7 499.1 646.6 486.8 652.7 473.3 652.4 466.2 654.3 460.4 656.7ZM117.3 694.8 124.8 695.1 137.7 694.5 163.5 694.5 172.3 693.5 176.4 690.9 179.7 691.9 187.4 692.2 197.7 691.9 202.2 690.9 215.9 691.6 228.1 694.2 240.5 690.9 253.9 690.5 259.7 690.9 286.8 690.9 292.6 690.4 296.5 690.9 313.2 690.8 316.5 690.5 318.1 689.6 327.2 689.0 328.5 688.3 330.9 685.8 340.3 685.4 344.2 684.4 395.8 684.3 408.7 683.8 412.6 685.2 421.6 685.7 424.5 684.5 426.5 677.3 428.8 676.0 432.3 637.2 431.4 635.3 429.4 634.0 421.6 633.1 415.4 635.3 413.6 636.6 412.8 638.5 410.7 639.5 399.9 640.4 396.7 641.7 386.8 642.4 376.0 644.3 372.0 646.9 371.5 648.9 372.3 652.7 374.4 654.0 377.2 657.3 378.5 657.9 378.8 658.6 378.1 659.2 378.0 662.5 375.7 663.7 373.9 665.8 371.3 666.5 357.1 666.6 351.9 664.8 344.2 663.8 329.2 665.0 323.5 663.1 318.4 660.4 305.5 661.7 297.1 661.3 292.6 660.4 279.7 660.3 261.3 661.8 253.9 666.8 246.8 665.5 239.0 663.3 228.1 662.1 215.2 668.2 212.9 665.0 211.0 663.7 208.7 659.9 206.4 654.0 204.7 647.6 202.2 646.8 195.1 646.4 192.1 645.6 189.3 639.7 176.4 635.3 170.6 641.1 163.2 646.9 154.0 659.2 152.1 660.5 150.6 664.4 137.7 659.9 131.7 663.7 124.8 667.1 111.9 664.4 109.3 661.8 107.7 659.2 105.9 654.0 104.6 646.9 102.6 646.3 101.8 643.0 100.8 641.7 102.6 580.3 101.0 571.2 99.0 564.5 99.0 692.2 102.9 693.8 117.3 694.8ZM175.9 603.6 176.4 604.2 178.4 603.7 182.3 601.6 182.1 599.0 180.6 593.2 176.4 581.5 174.5 599.0 174.5 601.6 175.9 603.6ZM278.2 597.1 284.2 596.9 288.6 595.8 293.9 592.2 297.7 588.3 298.7 586.7 292.6 580.9 279.9 574.4 269.4 574.0 268.5 573.8 266.8 571.8 248.7 571.7 230.0 570.0 228.5 569.2 221.6 563.2 215.2 559.0 211.7 568.6 209.3 580.9 208.7 585.4 208.7 593.2 210.0 594.3 215.2 596.2 266.8 595.8 278.2 597.1Z" fill="#ffd232" fill-rule="evenodd"/>
<path d="M537.2 695.5 550.7 696.1 553.9 695.8 555.7 695.5 557.6 692.2 563.6 691.6 563.6 674.1 560.4 670.9 560.3 667.6 561.7 644.2 563.6 627.5 563.6 575.0 550.7 571.6 539.7 568.0 524.9 565.1 521.7 571.2 520.6 579.0 517.8 579.7 512.0 580.2 502.9 579.2 502.3 579.0 499.1 573.1 498.4 573.8 496.5 574.2 486.1 574.4 485.2 577.7 481.6 578.7 462.9 578.9 461.0 578.6 460.4 577.7 451.3 577.1 449.4 576.4 449.0 575.7 447.5 563.4 439.7 563.0 434.5 561.9 427.4 561.6 424.9 561.0 423.8 558.9 422.7 546.0 421.6 542.7 408.7 540.8 406.4 544.0 406.1 554.4 407.2 563.4 408.7 571.3 413.9 566.6 421.6 563.2 424.3 565.4 426.8 568.6 428.7 573.1 430.2 579.0 434.5 585.2 447.5 585.1 448.0 585.4 449.8 587.4 451.2 590.6 458.3 601.6 460.4 603.6 473.3 603.0 473.9 597.7 475.6 591.9 475.8 591.3 477.1 590.7 486.2 590.0 497.1 590.1 499.1 590.6 512.0 590.4 521.0 584.5 524.9 583.1 529.2 584.8 532.4 587.4 534.5 590.6 536.1 595.1 537.8 607.2 540.6 617.8 542.0 628.8 541.9 634.6 539.7 637.8 537.8 639.3 536.5 638.2 533.3 637.6 517.1 637.7 513.9 638.1 505.6 640.4 503.8 641.7 501.1 646.9 499.2 652.7 486.0 654.0 483.6 658.6 480.9 666.3 474.2 676.0 473.3 676.8 460.4 680.9 457.0 677.3 454.2 671.5 453.9 660.5 451.7 656.6 450.3 651.4 448.9 636.6 448.6 614.6 447.5 612.6 444.2 613.3 441.8 614.6 443.5 623.6 444.6 634.6 446.2 683.8 447.4 692.2 457.8 692.9 459.5 693.5 460.4 694.9 473.3 694.9 474.1 693.5 475.2 693.1 486.2 692.3 496.5 693.1 499.1 694.2 520.4 694.3 537.2 695.5ZM124.5 694.2 130.6 693.6 163.5 693.5 165.1 690.9 170.0 690.4 186.1 690.4 188.0 690.7 189.3 691.6 190.6 690.7 194.5 690.4 211.9 690.4 215.2 690.9 219.7 689.8 228.1 689.0 241.0 690.3 250.0 683.0 253.9 681.0 258.4 682.4 262.1 684.5 264.8 687.0 266.8 690.3 279.7 690.3 285.1 680.6 283.6 675.4 280.3 671.9 271.9 667.8 269.4 665.7 266.8 662.4 265.2 666.3 263.5 668.4 261.0 670.0 257.1 671.1 241.0 672.4 237.7 671.0 235.2 668.9 228.1 666.7 223.3 668.9 220.1 671.5 215.2 673.0 211.9 669.2 209.4 665.0 206.6 663.7 204.2 657.0 202.3 647.6 189.3 650.6 176.4 646.5 166.8 655.3 164.5 656.6 163.7 659.2 157.7 660.5 155.3 667.0 153.8 676.0 152.6 678.7 150.6 680.9 113.2 677.0 99.0 674.1 99.0 691.6 108.7 691.8 110.8 692.2 111.7 693.5 121.6 693.7 124.5 694.2ZM305.1 689.6 305.5 690.3 306.1 689.4 307.4 689.0 318.4 688.4 320.6 685.8 321.6 685.4 331.6 684.5 332.6 683.7 335.8 683.3 395.8 683.2 399.1 682.7 408.7 682.6 417.7 683.2 421.6 684.5 424.1 677.3 427.0 676.0 430.0 637.2 427.4 635.2 421.6 633.9 415.8 636.4 414.5 638.7 412.6 639.7 401.6 642.3 382.2 644.3 374.9 646.9 374.2 648.9 374.7 652.7 376.3 654.0 378.1 656.6 381.0 658.6 380.8 659.2 382.3 663.7 387.5 666.3 386.1 667.4 382.9 668.7 370.9 667.6 348.1 667.3 346.0 667.0 344.2 665.0 341.6 666.1 331.0 666.3 324.8 670.7 318.4 674.1 311.9 671.9 305.5 668.7 300.5 675.4 299.8 679.3 305.1 689.6ZM99.0 626.9 99.0 627.5 100.2 580.3 99.0 575.0 99.0 626.9ZM408.7 617.1 409.6 615.2 411.3 613.6 415.2 612.6 415.2 610.0 414.7 609.4 408.7 607.0 404.9 608.2 402.3 610.0 402.4 612.0 403.5 613.9 408.7 617.1ZM381.3 615.2 382.9 615.9 389.3 611.3 387.4 608.9 384.1 606.8 375.8 605.7 374.1 604.8 374.8 597.1 373.7 590.6 372.2 586.7 372.1 583.5 370.0 575.6 368.8 579.0 368.1 579.4 364.9 580.0 356.9 580.3 353.0 582.2 343.7 582.8 339.7 585.2 334.5 589.3 333.8 591.3 335.5 598.4 339.0 601.0 344.4 602.3 357.1 611.2 372.0 612.9 381.3 615.2ZM279.4 595.8 285.1 589.3 285.2 588.7 284.5 586.7 279.7 582.4 266.8 585.0 253.9 585.0 249.3 583.7 241.0 583.0 228.1 583.6 226.2 582.2 224.4 572.5 215.2 564.8 212.3 573.8 210.2 584.8 210.1 593.2 211.9 594.4 215.2 595.5 241.0 595.2 245.5 594.1 251.3 593.4 266.8 593.2 275.8 594.2 279.4 595.8Z" fill="#ffaa3c" fill-rule="evenodd"/>
<path d="M550.6 695.5 551.5 692.2 552.6 691.6 557.1 683.2 553.9 670.9 552.5 645.6 550.7 628.9 549.8 637.2 548.8 639.8 537.8 640.2 534.6 639.8 531.0 638.5 524.9 638.0 512.0 639.4 508.1 640.3 506.9 641.1 504.3 646.3 503.3 646.9 501.7 652.7 498.9 654.0 493.3 668.9 493.6 673.5 499.1 685.1 504.2 681.4 512.0 678.6 513.6 683.2 514.6 683.5 525.0 684.5 526.2 685.2 528.1 685.5 538.2 685.8 541.0 686.8 546.5 690.3 550.6 695.5ZM190.5 678.0 202.2 678.6 209.3 678.1 211.0 677.3 211.3 675.4 205.9 665.0 202.2 663.7 201.3 659.9 200.6 659.2 197.1 658.4 189.1 657.9 188.0 656.6 186.1 656.1 176.4 655.4 168.4 656.6 167.7 659.2 163.4 660.5 160.8 667.0 162.2 671.5 164.7 676.7 171.9 677.3 189.3 677.1 190.5 678.0ZM410.9 676.7 421.6 677.3 425.2 676.0 427.6 637.2 427.0 636.6 421.6 634.8 417.6 636.6 416.3 639.1 412.4 640.4 409.1 643.0 386.1 645.3 378.4 646.8 377.2 647.6 377.1 652.7 379.7 656.6 383.4 658.6 386.3 662.5 395.9 663.7 398.4 673.5 401.6 674.3 408.8 674.7 410.9 676.7ZM369.0 604.2 370.1 604.2 371.5 597.1 370.0 590.6 366.8 586.7 357.1 585.6 346.8 586.4 337.2 591.3 337.2 594.5 338.4 598.4 340.5 599.0 343.5 601.0 352.6 603.1 369.0 604.2ZM214.0 594.5 215.2 594.9 217.7 594.8 223.8 593.8 225.0 593.2 225.9 590.6 225.9 585.4 222.5 582.2 221.0 577.7 219.0 574.3 215.2 570.6 213.1 577.7 211.6 585.4 211.6 593.2 214.0 594.5Z" fill="#ff9628" fill-rule="evenodd"/>
<path d="M531.4 684.5 540.4 685.0 546.2 684.5 546.6 683.8 548.1 674.1 548.2 663.7 547.0 651.4 544.9 641.7 543.8 641.1 532.6 640.2 524.9 638.5 509.8 640.4 506.9 646.3 505.5 646.9 504.1 652.7 502.0 654.0 501.1 670.9 501.9 671.5 504.5 677.3 517.1 678.6 519.3 683.2 531.4 684.5ZM201.8 677.3 202.6 677.3 203.7 675.4 204.3 670.9 202.3 665.0 198.3 663.7 197.3 659.9 193.9 659.1 184.2 658.2 183.0 657.9 182.2 656.6 176.4 656.1 172.4 656.6 171.8 659.2 169.3 660.5 166.8 667.0 170.2 676.0 174.1 676.7 179.0 676.7 184.0 676.0 188.5 674.7 192.5 674.7 198.5 675.4 201.8 677.3ZM419.5 676.7 421.6 676.8 423.4 676.0 425.2 637.2 424.4 636.6 421.6 635.7 419.6 636.6 418.8 637.2 418.4 639.1 416.1 640.4 413.9 643.1 382.9 646.5 380.7 646.9 380.0 647.6 379.3 652.1 381.3 656.6 382.9 657.5 387.0 657.9 388.3 658.6 391.1 662.5 401.4 663.7 403.6 673.5 415.1 674.7 415.7 676.0 419.5 676.7ZM352.9 602.3 357.1 602.9 364.1 602.3 366.4 597.1 364.2 590.6 362.4 587.4 358.4 586.6 353.3 586.7 350.8 587.4 347.4 589.4 340.6 591.3 340.1 594.5 341.3 598.4 346.8 599.7 352.9 602.3ZM214.1 593.8 215.2 594.3 221.1 593.2 221.6 590.6 221.3 584.8 218.9 582.2 215.2 576.4 213.0 585.4 213.0 593.2 214.1 593.8Z" fill="#ff8200" fill-rule="evenodd"/>
<path d="M537.7 684.5 540.5 680.6 542.6 675.4 544.1 663.7 542.2 652.1 540.6 646.9 538.1 641.7 528.8 640.5 524.9 639.1 520.4 640.1 512.0 640.4 509.4 646.3 507.6 646.9 506.5 652.7 505.1 654.0 504.5 659.2 504.7 670.9 507.0 671.5 509.1 674.7 511.7 677.3 522.2 678.6 524.9 683.2 535.2 683.4 537.0 683.8 537.7 684.5ZM176.4 676.0 177.3 674.7 179.0 674.3 197.1 673.5 198.3 670.9 197.5 666.3 196.9 665.0 194.4 663.7 193.3 659.9 189.3 659.2 178.4 658.9 177.1 658.3 176.4 656.6 173.3 666.3 176.4 676.0ZM421.6 676.0 422.6 656.6 422.8 637.2 421.6 636.5 420.7 637.2 420.6 639.1 419.1 643.0 418.0 643.7 408.7 644.3 408.5 645.0 407.4 645.4 395.8 645.6 392.6 646.4 382.8 647.6 381.7 652.1 382.9 656.7 392.5 657.9 395.8 662.5 406.2 663.2 406.9 663.7 408.7 673.5 420.3 673.8 421.4 674.7 421.6 676.0ZM357.1 602.3 359.3 597.7 360.0 594.5 357.2 587.4 355.8 589.4 354.5 590.3 344.0 591.3 342.9 594.5 344.2 598.4 354.8 599.0 357.1 602.3ZM214.4 593.2 215.2 593.6 217.1 593.2 217.3 590.6 217.3 585.4 215.2 582.2 214.4 585.4 214.4 593.2Z" fill="#ff1e00" fill-rule="evenodd"/>
<path d="M517.8 674.1 524.9 674.7 537.8 674.1 539.9 663.7 539.4 661.2 537.8 653.4 531.9 643.0 524.9 641.9 519.1 642.4 516.3 643.0 512.6 645.9 509.8 646.9 508.9 652.7 508.1 654.0 507.5 658.6 508.3 670.9 512.0 671.5 515.0 673.5 517.8 674.1ZM189.2 673.5 190.8 670.9 192.0 666.3 190.5 663.7 189.3 659.9 183.0 666.3 189.2 673.5ZM394.2 654.0 395.8 654.7 396.5 654.5 399.1 653.2 401.0 651.4 395.8 648.2 389.7 651.4 390.1 652.1 394.2 654.0Z" fill="#e60000" fill-rule="evenodd"/>
<path d="M524.8 673.5 530.0 663.7 530.0 659.9 529.9 657.9 524.9 643.0 523.5 646.3 522.9 646.5 512.0 646.9 510.5 659.2 512.0 670.9 522.9 671.2 524.0 671.5 524.8 673.5Z" fill="#c80000" fill-rule="evenodd"/>
<path d="M360.3 744.0 360.3 720.7 360.0 720.1 357.1 717.9 343.3 718.8 341.5 720.1 344.2 721.0 352.6 721.9 353.9 723.3 353.9 744.0M452.8 744.0 452.8 725.2 453.3 724.6 462.3 722.6 465.5 720.7 473.3 719.5 474.6 718.1 474.7 717.5 473.6 716.2 466.0 714.9 464.1 710.3 460.4 709.8 457.9 710.3 455.2 711.7 447.5 712.5 444.4 713.6 443.9 714.9 443.9 744.0M305.1 722.0 305.9 722.0 307.4 720.7 305.5 718.7 303.6 720.7 305.1 722.0M99.0 699.7 150.6 699.7 163.5 700.1 175.1 698.9 202.2 698.3 228.1 699.5 253.9 699.0 262.5 700.0 266.8 701.9 279.7 702.6 292.6 701.9 305.5 702.6 323.6 702.7 329.2 703.2 331.3 704.5 341.0 704.7 344.2 705.2 370.3 705.2 371.2 704.5 373.2 704.2 383.1 703.9 385.5 702.9 396.0 702.6 397.3 701.3 399.1 701.0 408.7 700.6 411.3 700.1 422.3 699.3 427.5 693.5 429.8 692.9 432.7 684.5 434.5 672.9 437.4 692.2 438.4 693.1 441.7 694.2 447.5 701.3 456.5 701.6 460.1 702.6 470.0 702.8 482.3 704.1 484.2 704.6 486.2 706.5 488.7 705.5 499.1 705.2 500.4 704.1 502.9 703.7 512.0 703.3 513.9 701.8 518.4 701.0 526.2 700.7 537.8 701.3 542.3 699.6 550.7 698.8 563.6 699.7M370.0 659.2 361.0 659.0 351.3 658.1 349.9 657.9 345.3 655.3 324.3 653.4 319.7 652.1 308.7 651.2 305.5 650.2 296.5 649.9 292.6 648.9 284.2 648.4 283.2 648.2 280.0 645.6 270.6 645.2 268.7 644.6 267.1 643.0 257.1 642.6 253.9 641.7 246.1 640.7 245.2 640.4 244.9 636.6 241.0 632.0 237.7 636.6 237.7 641.7 235.2 644.2 228.8 648.2 215.2 653.7 212.0 647.6 210.6 646.6 207.3 645.6 204.8 641.4 202.2 638.5 198.9 637.9 198.2 633.3 197.4 623.0 195.8 529.8 196.7 527.2 202.2 525.9 241.0 525.9 244.2 526.5 246.5 527.2 247.4 529.8 247.4 533.0 249.8 536.2 252.6 538.7 253.9 539.6 261.1 541.4 266.8 543.7 269.4 542.3 272.9 541.4 292.6 539.7 305.5 536.9 312.6 540.0 318.4 543.8 344.2 544.2 349.4 545.7 352.6 547.5 354.4 549.2 357.1 554.0 358.9 560.2 358.8 564.1 357.1 568.4 351.0 565.4 344.2 563.4 339.0 564.5 318.4 564.7 314.5 565.6 305.5 566.0 296.4 565.4 292.6 563.4 288.7 564.4 279.7 564.7 277.7 565.7 273.2 566.2 253.9 566.6 249.3 567.6 241.0 568.1 236.4 566.7 234.6 565.4 231.9 554.0 230.1 549.2 228.1 545.8 215.2 541.7 212.4 544.0 210.1 547.2 208.4 551.1 207.0 556.3 205.1 572.5 204.4 593.2 205.5 595.2 208.1 596.9 221.3 599.0 222.8 604.2 224.8 605.7 228.1 606.8 246.1 607.0 250.1 607.4 253.6 609.4 266.8 609.4 270.6 608.4 280.0 608.1 284.7 604.8 286.8 604.5 301.0 602.8 318.4 602.6 324.8 604.0 332.9 604.8 334.3 605.5 335.4 608.7 335.1 612.6 334.3 613.3 324.8 614.4 323.1 615.9 323.5 617.8 325.7 618.4 328.7 624.4 319.7 624.9 266.6 624.9 263.5 628.1 265.5 630.2 266.8 630.8 318.4 630.8 322.3 628.1 321.5 626.9 322.4 626.2 331.9 625.6 334.6 623.0 338.4 622.2 370.0 621.2 375.8 620.2 382.9 619.8 408.7 619.9 421.6 614.9 425.5 615.8 428.3 617.1 429.0 627.5 426.2 629.3 406.2 634.5 382.4 635.9 379.9 637.9 377.0 639.1 368.7 640.8 362.6 644.3 361.6 648.9 361.9 652.7 366.1 654.8 370.0 655.6 371.8 656.6 372.6 657.9 372.3 658.6 370.0 659.2M470.0 637.9 460.4 635.5 457.1 624.9 457.1 619.1 457.8 613.3 460.9 612.0 465.4 607.4 474.7 606.1 482.3 603.9 483.0 602.9 483.6 598.4 484.8 597.7 501.7 598.4 502.5 599.0 504.3 604.8 504.8 612.0 498.6 613.3 495.8 615.2 485.7 615.9 483.1 617.8 483.3 618.4 485.9 620.4 495.8 620.7 499.1 621.7 512.6 621.7 515.0 620.4 516.4 617.8 524.9 610.7 528.6 621.0 528.7 626.2 527.5 630.9 520.4 633.0 505.5 634.0 495.8 636.8 473.3 638.4 470.0 637.9M355.8 629.4 357.5 629.4 358.8 628.1 357.1 626.7 344.2 626.7 340.0 627.5 342.3 628.1 355.8 629.4M459.1 572.7 457.8 571.8 457.0 569.2 457.7 566.7 460.4 565.8 478.0 566.0 480.3 566.7 481.0 569.2 478.2 570.5 476.1 572.5 473.3 573.1 460.4 573.1 459.1 572.7M563.6 531.7 554.6 531.4 550.7 530.4 537.8 530.4 536.5 531.5 534.6 531.9 524.9 532.3 524.2 534.9 522.9 535.8 512.0 536.8 511.2 538.8 510.0 539.6 498.9 540.8 497.8 543.3 497.1 543.6 486.2 544.0 485.2 546.6 484.2 547.4 468.0 548.5 467.2 551.8 465.1 553.1 443.6 553.6 434.5 552.7 431.3 549.2 430.4 537.5 428.3 527.2 430.2 523.9 434.5 522.1 447.5 522.4 452.0 523.1 457.1 524.8 460.4 527.6 486.2 525.1 493.3 526.3 499.1 527.8 499.7 525.2 501.0 524.3 512.0 523.3 515.2 522.4 537.8 521.4 548.1 521.6 550.7 522.7 552.2 521.4 553.3 521.1 563.6 520.7M99.0 520.7 145.5 520.9 149.1 521.4 150.4 522.6 160.9 522.9 169.8 524.6 169.8 531.7 163.5 595.8 157.5 588.7 150.6 582.5 148.0 565.4 145.8 533.0 145.2 531.1 139.7 529.9 133.8 530.1 130.1 531.1 129.5 533.0 127.3 573.1 125.8 586.1 123.2 601.6 122.2 615.2 124.8 616.5 127.2 615.2 127.1 610.7 127.7 610.0 138.9 608.7 141.6 607.2 143.8 604.8 144.8 604.6 151.3 603.7 158.4 604.0 161.3 604.8 160.0 624.3 157.3 631.4 156.3 633.3 150.2 634.6 147.5 637.9 145.9 641.1 137.4 642.4 133.2 644.3 124.8 645.0 115.4 644.3 107.5 641.7 106.9 636.6 106.9 630.1 110.6 564.1 111.9 553.7 113.5 549.2 114.8 543.4 115.4 536.2 112.6 534.8 102.0 533.7 99.0 531.7" fill="none" stroke="#000" stroke-width="0.8" opacity="1"/>
<path d="M86.1 716.7 99.0 714.0 111.9 714.6 124.8 715.3 137.7 715.3 150.6 715.3 163.5 715.3 176.4 712.5 189.3 714.0 202.2 714.0 215.2 713.2 228.1 713.2 241.0 714.0 253.9 714.0 266.8 715.3 279.7 721.5 292.6 726.3 305.5 727.7 318.4 727.7 331.3 723.5 344.2 725.0 357.1 723.5 370.0 723.3 382.9 722.0 395.8 720.8 408.7 720.8 421.6 720.8 434.5 710.3 447.5 718.1 460.4 726.3 473.3 726.3 486.2 725.0 499.1 722.1 512.0 719.4 524.9 716.8 537.8 715.9 550.7 716.7 563.6 714.0 563.6 745.3 86.1 745.3Z" fill="#fff"/>
<path d="M52.5,581.2 47.6,587.4 43.5,591.9 38.3,600.3 37.7,608.5 38.7,611.3 40.9,613.3 43.1,615.9 45.4,618.4 50.6,621.8 57.7,621.3 62.9,619.3 66.7,620.4 69.3,621.8 72.5,622.6 72.9,624.9 72.3,628.8 75.8,634.0 77.3,638.9 77.8,643.0 75.6,649.5 79.0,656.6 80.0,662.5 82.2,665.7 84.0,671.5 86.1,672.5 89.3,671.5 93.3,671.5 95.8,670.5 99.0,668.0 102.2,664.4 102.4,661.2 106.1,658.6 106.1,656.0 105.1,653.1 107.8,650.8 112.6,646.9 112.6,641.1 111.0,636.6 110.9,633.6 112.6,630.7 114.5,628.1 118.4,624.9 122.2,621.0 125.8,614.6 126.5,612.2 122.2,613.0 117.1,614.0 116.0,612.6 116.2,611.2 114.5,601.6 109.3,593.8 105.5,588.7 102.0,587.0 97.7,587.5 92.5,586.6 86.1,587.9 84.8,588.3 80.3,586.1 74.5,584.4 73.8,580.3 72.5,579.3 64.2,579.9 57.7,582.1ZM517.1,581.2 512.2,587.4 508.1,591.9 502.9,600.3 502.3,608.5 503.3,611.3 505.5,613.3 507.7,615.9 510.0,618.4 515.2,621.8 522.3,621.3 527.5,619.3 531.3,620.4 533.9,621.8 537.1,622.6 537.5,624.9 536.9,628.8 540.4,634.0 541.9,638.9 542.4,643.0 540.2,649.5 543.6,656.6 544.6,662.5 546.8,665.7 548.6,671.5 550.7,672.5 553.9,671.5 557.9,671.5 560.4,670.5 563.6,668.0 566.8,664.4 567.0,661.2 570.7,658.6 570.7,656.0 569.7,653.1 572.4,650.8 577.2,646.9 577.2,641.1 575.6,636.6 575.5,633.6 577.2,630.7 579.1,628.1 583.0,624.9 586.8,621.0 590.4,614.6 591.1,612.2 586.8,613.0 581.7,614.0 580.6,612.6 580.8,611.2 579.1,601.6 573.9,593.8 570.1,588.7 566.6,587.0 562.3,587.5 557.1,586.6 550.7,587.9 549.4,588.3 544.9,586.1 539.1,584.4 538.4,580.3 537.1,579.3 528.8,579.9 522.3,582.1ZM116.2,611.2 118.4,610.7 122.9,609.4 127.4,607.4 131.9,604.8 134.5,603.2 137.5,598.4 135.8,597.0 133.1,595.3 132.6,593.6 130.0,596.4 126.7,595.8 126.1,593.8 124.8,593.2 122.9,590.6 122.2,588.7 124.8,588.7 126.7,591.5 130.6,593.2 133.8,594.1 139.8,594.9 146.1,594.6 147.4,596.4 149.1,598.4 150.6,600.3 154.2,600.3 154.5,602.9 155.1,606.8 156.8,610.9 158.6,615.2 160.3,617.1 161.2,616.0 163.3,614.2 163.9,610.0 163.8,607.4 166.1,606.1 169.3,602.9 172.6,600.3 174.5,599.0 176.4,599.0 178.8,598.6 179.4,600.7 181.9,604.2 182.0,606.8 186.1,606.1 187.3,611.3 187.4,616.9 189.7,620.4 190.9,623.9 193.9,625.8 194.8,625.6 193.7,622.3 192.2,619.5 190.0,617.9 188.4,614.6 188.4,610.7 189.6,610.0 190.6,611.1 193.1,612.5 195.5,613.9 195.4,616.4 197.3,615.2 200.8,612.6 201.3,610.7 200.7,607.4 197.9,604.8 196.7,602.9 198.0,600.6 200.3,599.5 202.8,601.0 204.3,599.5 207.4,598.6 211.3,597.5 214.6,594.5 216.3,591.3 217.5,587.6 216.2,585.4 214.1,582.8 215.5,580.4 218.4,579.6 214.5,579.2 213.2,577.7 212.2,577.0 214.5,575.9 217.1,574.6 216.7,577.0 218.1,576.4 220.7,575.9 222.0,578.3 223.7,582.2 227.2,581.9 227.4,579.6 225.9,577.5 224.8,576.0 227.7,574.4 229.0,572.7 231.3,571.8 234.5,571.2 237.7,568.6 241.2,564.7 241.6,560.8 242.6,558.5 239.7,557.5 236.6,556.8 237.7,554.5 241.7,552.7 243.8,551.1 248.4,550.6 252.1,550.7 256.7,551.1 260.3,550.7 262.9,547.9 266.8,547.5 267.0,549.2 263.5,552.7 262.5,561.5 265.0,559.0 266.8,557.0 269.7,554.8 271.0,552.4 273.0,550.0 279.7,549.8 284.5,547.6 289.4,546.6 291.3,546.9 292.6,543.4 296.5,542.7 301.6,544.0 305.9,542.1 302.9,540.8 292.6,538.3 282.3,537.0 268.1,537.4 256.4,535.7 242.3,533.4 228.1,535.6 224.2,532.4 206.1,532.1 199.7,528.2 194.5,526.9 186.8,529.1 173.9,530.4 164.2,532.2 163.5,533.9 155.1,538.8 145.5,538.2 137.7,538.6 130.0,539.0 117.1,538.8 111.9,541.4 105.5,541.8 102.9,537.7 96.4,535.6 86.1,536.9 79.6,538.8 76.4,542.7 70.6,546.0 66.7,547.2 67.4,551.4 69.3,552.4 71.3,553.6 70.9,555.8 71.5,557.7 69.1,558.4 66.3,559.2 64.9,561.0 62.3,561.6 58.3,563.3 57.8,564.5 54.2,565.0 57.1,566.3 58.7,569.2 58.0,571.3 50.0,570.9 48.3,572.0 48.8,577.7 48.7,579.6 52.2,579.9 53.1,580.9 54.6,580.0 57.7,579.7 60.5,577.4 59.9,576.4 64.4,573.3 64.3,571.8 66.7,571.3 70.0,570.8 73.6,570.7 76.4,573.4 80.7,576.4 81.6,577.7 80.5,578.4 82.2,577.1 84.0,576.0 82.1,575.1 80.3,573.3 76.2,569.8 77.8,568.2 78.9,569.1 85.4,573.0 86.1,576.1 87.5,578.4 89.7,580.3 90.2,578.1 89.4,575.3 91.3,574.7 94.2,574.6 94.1,576.4 95.5,579.6 96.7,580.0 99.8,580.1 102.6,580.8 106.7,579.9 106.5,582.6 105.1,586.1 104.4,587.0 102.0,587.0 105.5,591.3 110.6,600.3 115.1,606.8ZM580.8,611.2 583.0,610.7 587.5,609.4 592.0,607.4 596.5,604.8 599.1,603.2 602.1,598.4 600.4,597.0 597.7,595.3 597.2,593.6 594.6,596.4 591.3,595.8 590.7,593.8 589.4,593.2 587.5,590.6 586.8,588.7 589.4,588.7 591.3,591.5 595.2,593.2 598.4,594.1 604.4,594.9 610.7,594.6 612.0,596.4 613.7,598.4 615.2,600.3 618.8,600.3 619.1,602.9 619.7,606.8 621.4,610.9 623.2,615.2 624.9,617.1 625.8,616.0 627.9,614.2 628.5,610.0 628.4,607.4 630.7,606.1 633.9,602.9 637.2,600.3 639.1,599.0 641.0,599.0 643.4,598.6 644.0,600.7 646.5,604.2 646.6,606.8 650.7,606.1 651.9,611.3 652.0,616.9 654.3,620.4 655.5,623.9 658.5,625.8 659.4,625.6 658.3,622.3 656.8,619.5 654.6,617.9 653.0,614.6 653.0,610.7 654.2,610.0 655.2,611.1 657.7,612.5 660.1,613.9 660.0,616.4 661.9,615.2 665.4,612.6 665.9,610.7 665.3,607.4 662.5,604.8 661.3,602.9 662.6,600.6 664.9,599.5 667.4,601.0 668.9,599.5 672.0,598.6 675.9,597.5 679.2,594.5 680.9,591.3 682.1,587.6 680.8,585.4 678.7,582.8 680.1,580.4 683.0,579.6 679.1,579.2 677.8,577.7 676.8,577.0 679.1,575.9 681.7,574.6 681.3,577.0 682.7,576.4 685.3,575.9 686.6,578.3 688.3,582.2 691.8,581.9 692.0,579.6 690.5,577.5 689.4,576.0 692.3,574.4 693.6,572.7 695.9,571.8 699.1,571.2 702.3,568.6 705.8,564.7 706.2,560.8 707.2,558.5 704.3,557.5 701.2,556.8 702.3,554.5 706.3,552.7 708.4,551.1 713.0,550.6 716.7,550.7 721.3,551.1 724.9,550.7 727.5,547.9 731.4,547.5 731.6,549.2 728.1,552.7 727.1,561.5 729.6,559.0 731.4,557.0 734.3,554.8 735.6,552.4 737.6,550.0 744.3,549.8 749.1,547.6 754.0,546.6 755.9,546.9 757.2,543.4 761.1,542.7 766.2,544.0 770.5,542.1 767.5,540.8 757.2,538.3 746.9,537.0 732.7,537.4 721.0,535.7 706.9,533.4 692.7,535.6 688.8,532.4 670.7,532.1 664.3,528.2 659.1,526.9 651.4,529.1 638.5,530.4 628.8,532.2 628.1,533.9 619.7,538.8 610.1,538.2 602.3,538.6 594.6,539.0 581.7,538.8 576.5,541.4 570.1,541.8 567.5,537.7 561.0,535.6 550.7,536.9 544.2,538.8 541.0,542.7 535.2,546.0 531.3,547.2 532.0,551.4 533.9,552.4 535.9,553.6 535.5,555.8 536.1,557.7 533.7,558.4 530.9,559.2 529.5,561.0 526.9,561.6 522.9,563.3 522.4,564.5 518.8,565.0 521.7,566.3 523.3,569.2 522.6,571.3 514.6,570.9 512.9,572.0 513.4,577.7 513.3,579.6 516.8,579.9 517.7,580.9 519.2,580.0 522.3,579.7 525.1,577.4 524.5,576.4 529.0,573.3 528.9,571.8 531.3,571.3 534.6,570.8 538.2,570.7 541.0,573.4 545.3,576.4 546.2,577.7 545.1,578.4 546.8,577.1 548.6,576.0 546.7,575.1 544.9,573.3 540.8,569.8 542.4,568.2 543.5,569.1 550.0,573.0 550.7,576.1 552.1,578.4 554.3,580.3 554.8,578.1 554.0,575.3 555.9,574.7 558.8,574.6 558.7,576.4 560.1,579.6 561.3,580.0 564.4,580.1 567.2,580.8 571.3,579.9 571.1,582.6 569.7,586.1 569.0,587.0 566.6,587.0 570.1,591.3 575.2,600.3 579.7,606.8ZM308.1,542.6 310.7,538.4 314.5,536.5 322.9,535.2 328.7,535.9 337.8,536.9 342.9,537.3 349.4,538.2 357.1,536.9 360.3,536.5 364.9,537.7 373.9,538.4 377.8,539.2 384.2,539.7 390.7,539.5 398.4,539.7 402.3,535.6 408.7,538.2 415.2,537.5 419.1,541.4 412.6,544.7 404.9,548.5 402.9,551.8 405.5,553.7 411.3,555.0 415.2,556.0 418.7,558.9 421.6,561.1 422.9,557.0 425.5,553.7 425.5,549.2 424.2,546.9 429.4,546.9 433.3,548.5 435.2,551.1 437.8,552.0 441.6,549.4 445.5,555.0 450.7,557.0 453.0,559.5 450.0,561.5 443.6,562.4 439.1,562.8 433.9,566.7 441.0,564.1 441.9,565.4 441.0,567.3 446.2,568.5 442.9,569.8 439.7,570.5 434.5,571.2 433.9,573.4 429.4,575.1 426.8,578.3 426.2,582.2 423.6,583.7 420.3,586.7 421.0,591.3 421.6,594.5 419.7,594.5 418.2,591.3 416.5,588.7 411.3,588.1 408.7,589.7 403.6,589.2 399.3,591.9 398.9,596.4 399.4,599.7 402.3,603.4 406.2,603.4 408.1,600.3 412.6,599.7 411.6,604.2 410.9,606.8 416.5,607.0 417.4,610.7 416.7,613.3 419.7,615.9 422.9,615.2 424.9,616.4 424.2,617.8 421.1,618.1 417.8,616.8 414.3,613.9 412.0,610.7 406.8,609.4 402.9,606.5 400.3,607.2 394.5,604.8 388.9,601.6 388.5,598.1 384.2,594.2 379.7,589.3 376.7,586.5 379.7,591.3 383.1,597.7 380.3,595.4 377.1,591.3 375.4,588.0 373.6,585.3 369.2,582.8 366.8,579.0 364.9,575.1 364.2,571.8 364.9,567.3 364.0,564.8 366.1,564.3 363.6,562.8 359.7,561.5 356.5,557.0 352.6,553.1 348.7,551.8 344.2,550.1 339.0,549.8 334.3,548.5 331.3,550.5 329.0,550.9 326.1,553.7 322.3,553.1 315.8,556.3 312.6,557.0 319.0,554.4 321.6,551.4 315.8,551.4 312.2,549.2 310.7,547.2 312.6,545.7 317.1,544.3 311.9,544.0 308.1,542.6ZM424.9,616.4 426.8,615.2 427.8,613.5 432.6,611.6 434.5,611.7 437.1,613.8 442.3,613.8 445.5,614.6 447.5,616.5 451.3,619.7 456.5,620.4 459.1,622.3 460.4,625.6 462.3,628.8 467.5,630.7 473.3,631.3 476.5,633.7 479.7,634.6 479.8,637.6 479.1,639.8 476.5,643.0 474.6,645.6 474.6,650.2 472.2,654.7 470.7,657.3 466.2,658.3 462.3,661.2 461.9,664.4 459.7,667.0 456.5,670.9 454.5,672.5 451.3,672.2 449.6,671.5 451.7,674.7 450.4,676.9 444.9,678.0 444.5,679.9 441.3,680.6 442.5,682.5 440.7,685.8 437.8,687.7 440.0,689.4 436.6,692.6 436.1,695.5 439.7,698.7 433.9,698.7 428.7,695.5 427.4,690.3 429.4,684.5 430.0,679.3 430.0,675.4 432.4,670.2 432.6,664.4 433.9,659.9 434.3,653.4 433.9,650.8 428.7,647.6 425.5,643.7 422.3,637.9 420.1,635.3 421.0,632.0 421.6,630.1 420.5,628.8 421.6,626.2 423.2,625.2 424.9,621.7 425.1,618.4ZM430.7,526.3 439.1,523.3 447.5,521.4 466.8,520.3 483.6,519.4 499.1,520.7 509.4,522.3 501.7,523.9 500.4,528.5 497.8,531.1 496.5,534.3 493.3,537.5 483.6,539.5 479.7,542.1 473.9,542.7 472.0,545.3 469.4,549.6 465.5,548.8 462.3,547.9 459.7,544.7 457.8,542.1 455.8,538.8 459.1,537.5 454.5,535.6 453.3,532.4 449.4,529.8 443.6,528.7 437.1,528.9 433.3,527.8ZM206.8,656.0 207.4,661.2 208.7,666.3 209.3,670.9 212.6,672.8 219.0,671.3 222.9,669.3 229.3,668.3 233.2,670.0 238.1,673.6 239.0,672.2 241.0,676.4 245.5,677.7 249.3,678.0 253.9,676.0 255.4,671.5 257.7,667.6 258.4,663.7 257.7,659.9 254.9,656.6 252.6,654.0 249.1,651.4 247.9,646.9 245.5,643.7 244.2,641.5 242.9,645.0 242.9,649.5 240.3,650.2 236.4,647.6 236.8,643.4 231.3,642.1 228.1,644.3 227.4,646.9 223.5,645.6 221.6,648.2 218.1,650.2 216.4,653.0 211.3,654.3ZM246.9,680.2 251.7,680.4 251.3,683.4 249.3,683.9 247.7,682.1ZM229.3,629.2 233.2,628.7 235.2,631.8 238.4,629.7 242.3,630.9 248.4,633.7 250.8,635.5 250.3,637.3 253.4,640.2 250.4,640.4 246.1,637.6 242.3,639.3 238.4,638.2 238.1,634.4 234.5,633.1 231.7,632.9 230.4,631.3ZM201.0,625.8 201.9,628.8 202.6,631.4 208.1,632.7 210.6,630.7 212.6,626.2 213.9,621.0 211.3,618.4 209.7,621.0 206.8,623.4 203.5,625.4ZM183.3,620.3 186.1,620.8 190.0,624.9 194.5,628.8 197.1,631.8 197.0,635.0 195.1,635.1 191.9,632.7 188.7,627.8 185.5,624.3ZM196.0,636.3 199.7,635.4 203.5,635.8 208.1,637.3 208.1,638.8 203.5,638.1 197.7,637.1ZM208.7,638.1 213.9,638.2 221.6,638.2 224.2,638.4 222.0,640.4 219.7,640.8 213.9,639.1 208.7,638.9ZM213.9,632.0 213.6,628.5 215.2,626.6 221.0,625.9 217.1,628.3 219.4,628.7 216.8,630.0 219.0,633.7 215.8,631.0 215.5,634.6 214.5,634.6ZM215.2,603.6 218.0,603.6 218.4,606.8 217.2,609.1 220.3,610.7 222.2,612.6 223.5,617.8 222.2,619.7 217.7,618.6 218.8,615.2 217.5,612.0 215.8,608.7 214.9,606.5ZM228.1,587.1 230.0,586.9 231.0,584.1 234.3,583.7 236.8,582.8 241.0,582.2 242.0,580.9 242.3,577.9 243.5,576.4 242.8,573.9 245.2,573.1 248.1,571.5 247.2,570.5 243.4,568.6 242.9,571.5 241.0,572.5 241.2,575.3 240.7,577.7 237.5,579.6 235.8,581.2 231.9,581.5 229.3,583.0 227.7,584.5ZM243.5,568.0 245.5,566.7 244.6,563.4 245.1,559.5 244.2,557.2 243.3,559.5 243.5,564.7ZM215.3,597.7 216.4,594.8 217.7,595.1 216.4,599.0ZM200.4,602.5 202.5,601.5 203.5,602.1 201.7,603.9ZM163.3,614.8 165.9,617.8 165.1,619.6 163.5,619.5ZM123.9,643.0 125.5,647.6 124.2,650.8 122.6,655.3 121.1,659.7 118.6,660.5 117.1,658.8 116.2,655.3 117.6,652.1 117.1,649.5 120.3,648.0 122.2,645.6ZM283.2,672.0 285.5,674.1 287.4,676.2 290.6,676.2 289.4,678.4 288.1,679.9 286.1,681.2 285.6,679.0 284.6,678.0 285.5,676.7ZM283.2,679.9 285.1,681.1 283.5,683.8 281.2,685.1 280.3,687.0 277.7,687.8 275.2,686.8 277.7,684.5 281.6,681.6ZM517.5,562.8 526.9,561.5 527.1,559.3 524.9,558.2 522.9,556.3 522.3,553.7 520.6,551.6 518.4,551.6 516.9,554.1 518.4,556.3 521.0,557.6 518.8,559.2 518.3,560.6ZM517.1,559.9 517.1,557.0 515.2,555.9 512.0,557.6 511.3,560.4 514.6,560.8ZM495.8,544.7 493.9,542.7 496.5,541.5 504.2,541.4 507.5,543.1 505.5,544.4 500.7,545.4ZM415.2,599.3 419.7,597.5 424.9,599.0 429.1,601.4 424.6,601.9 421.0,599.4 416.5,599.2ZM428.7,603.7 431.3,601.7 436.5,603.4 433.3,604.6ZM74.5,525.9 80.9,523.9 95.1,523.7 93.8,525.9 83.5,528.5 79.6,527.8ZM539.1,525.9 545.5,523.9 559.7,523.7 558.4,525.9 548.1,528.5 544.2,527.8ZM127.4,534.9 132.6,532.4 135.1,529.4 148.0,527.8 140.3,531.1 132.6,536.2ZM118.4,523.3 137.7,522.0 144.2,522.9 131.3,524.2ZM182.9,525.2 189.3,522.6 195.8,524.6 189.3,526.5ZM444.9,541.4 437.1,538.8 433.3,536.2 424.2,533.7 413.9,532.4 407.4,534.9 415.2,536.9 420.3,539.5 424.2,544.0 429.4,544.7 437.1,547.2 441.0,545.3ZM370.0,530.4 389.4,534.3 401.0,534.3 408.7,531.7 421.6,532.0 419.1,529.1 410.0,528.5 424.2,525.9 441.0,520.7 408.7,520.7 376.5,526.5 363.6,529.1ZM372.6,537.5 395.8,538.2 393.2,534.3 380.3,533.0 372.6,533.7ZM448.4,565.9 452.6,560.7 456.7,565.4 456.5,567.0 452.6,565.9ZM401.0,544.7 428.1,544.7 430.7,539.5 421.6,534.3 401.0,534.3Z" fill="#fff"/>
</g>
<line x1="111.91" y1="186.0" x2="111.91" y2="192.0" stroke="#000" stroke-width="1" opacity="0.55"/>
<line x1="111.91" y1="425.0" x2="111.91" y2="431.0" stroke="#000" stroke-width="1" opacity="0.55"/>
<line x1="124.81" y1="186.0" x2="124.81" y2="192.0" stroke="#000" stroke-width="1" opacity="0.55"/>
<line x1="124.81" y1="425.0" x2="124.81" y2="431.0" stroke="#000" stroke-width="1" opacity="0.55"/>
<line x1="150.62" y1="186.0" x2="150.62" y2="192.0" stroke="#000" stroke-width="1" opacity="0.55"/>
<line x1="150.62" y1="425.0" x2="150.62" y2="431.0" stroke="#000" stroke-width="1" opacity="0.55"/>
<line x1="163.53" y1="186.0" x2="163.53" y2="192.0" stroke="#000" stroke-width="1" opacity="0.55"/>
<line x1="163.53" y1="425.0" x2="163.53" y2="431.0" stroke="#000" stroke-width="1" opacity="0.55"/>
<line x1="189.34" y1="186.0" x2="189.34" y2="192.0" stroke="#000" stroke-width="1" opacity="0.55"/>
<line x1="189.34" y1="425.0" x2="189.34" y2="431.0" stroke="#000" stroke-width="1" opacity="0.55"/>
<line x1="202.24" y1="186.0" x2="202.24" y2="192.0" stroke="#000" stroke-width="1" opacity="0.55"/>
<line x1="202.24" y1="425.0" x2="202.24" y2="431.0" stroke="#000" stroke-width="1" opacity="0.55"/>
<line x1="228.06" y1="186.0" x2="228.06" y2="192.0" stroke="#000" stroke-width="1" opacity="0.55"/>
<line x1="228.06" y1="425.0" x2="228.06" y2="431.0" stroke="#000" stroke-width="1" opacity="0.55"/>
<line x1="240.96" y1="186.0" x2="240.96" y2="192.0" stroke="#000" stroke-width="1" opacity="0.55"/>
<line x1="240.96" y1="425.0" x2="240.96" y2="431.0" stroke="#000" stroke-width="1" opacity="0.55"/>
<line x1="266.77" y1="186.0" x2="266.77" y2="192.0" stroke="#000" stroke-width="1" opacity="0.55"/>
<line x1="266.77" y1="425.0" x2="266.77" y2="431.0" stroke="#000" stroke-width="1" opacity="0.55"/>
<line x1="279.68" y1="186.0" x2="279.68" y2="192.0" stroke="#000" stroke-width="1" opacity="0.55"/>
<line x1="279.68" y1="425.0" x2="279.68" y2="431.0" stroke="#000" stroke-width="1" opacity="0.55"/>
<line x1="305.49" y1="186.0" x2="305.49" y2="192.0" stroke="#000" stroke-width="1" opacity="0.55"/>
<line x1="305.49" y1="425.0" x2="305.49" y2="431.0" stroke="#000" stroke-width="1" opacity="0.55"/>
<line x1="318.39" y1="186.0" x2="318.39" y2="192.0" stroke="#000" stroke-width="1" opacity="0.55"/>
<line x1="318.39" y1="425.0" x2="318.39" y2="431.0" stroke="#000" stroke-width="1" opacity="0.55"/>
<line x1="344.21" y1="186.0" x2="344.21" y2="192.0" stroke="#000" stroke-width="1" opacity="0.55"/>
<line x1="344.21" y1="425.0" x2="344.21" y2="431.0" stroke="#000" stroke-width="1" opacity="0.55"/>
<line x1="357.11" y1="186.0" x2="357.11" y2="192.0" stroke="#000" stroke-width="1" opacity="0.55"/>
<line x1="357.11" y1="425.0" x2="357.11" y2="431.0" stroke="#000" stroke-width="1" opacity="0.55"/>
<line x1="382.92" y1="186.0" x2="382.92" y2="192.0" stroke="#000" stroke-width="1" opacity="0.55"/>
<line x1="382.92" y1="425.0" x2="382.92" y2="431.0" stroke="#000" stroke-width="1" opacity="0.55"/>
<line x1="395.83" y1="186.0" x2="395.83" y2="192.0" stroke="#000" stroke-width="1" opacity="0.55"/>
<line x1="395.83" y1="425.0" x2="395.83" y2="431.0" stroke="#000" stroke-width="1" opacity="0.55"/>
<line x1="421.64" y1="186.0" x2="421.64" y2="192.0" stroke="#000" stroke-width="1" opacity="0.55"/>
<line x1="421.64" y1="425.0" x2="421.64" y2="431.0" stroke="#000" stroke-width="1" opacity="0.55"/>
<line x1="434.54" y1="186.0" x2="434.54" y2="192.0" stroke="#000" stroke-width="1" opacity="0.55"/>
<line x1="434.54" y1="425.0" x2="434.54" y2="431.0" stroke="#000" stroke-width="1" opacity="0.55"/>
<line x1="460.36" y1="186.0" x2="460.36" y2="192.0" stroke="#000" stroke-width="1" opacity="0.55"/>
<line x1="460.36" y1="425.0" x2="460.36" y2="431.0" stroke="#000" stroke-width="1" opacity="0.55"/>
<line x1="473.26" y1="186.0" x2="473.26" y2="192.0" stroke="#000" stroke-width="1" opacity="0.55"/>
<line x1="473.26" y1="425.0" x2="473.26" y2="431.0" stroke="#000" stroke-width="1" opacity="0.55"/>
<line x1="499.07" y1="186.0" x2="499.07" y2="192.0" stroke="#000" stroke-width="1" opacity="0.55"/>
<line x1="499.07" y1="425.0" x2="499.07" y2="431.0" stroke="#000" stroke-width="1" opacity="0.55"/>
<line x1="511.98" y1="186.0" x2="511.98" y2="192.0" stroke="#000" stroke-width="1" opacity="0.55"/>
<line x1="511.98" y1="425.0" x2="511.98" y2="431.0" stroke="#000" stroke-width="1" opacity="0.55"/>
<line x1="537.79" y1="186.0" x2="537.79" y2="192.0" stroke="#000" stroke-width="1" opacity="0.55"/>
<line x1="537.79" y1="425.0" x2="537.79" y2="431.0" stroke="#000" stroke-width="1" opacity="0.55"/>
<line x1="550.69" y1="186.0" x2="550.69" y2="192.0" stroke="#000" stroke-width="1" opacity="0.55"/>
<line x1="550.69" y1="425.0" x2="550.69" y2="431.0" stroke="#000" stroke-width="1" opacity="0.55"/>
<line x1="93.0" y1="412.06" x2="99.0" y2="412.06" stroke="#000" stroke-width="1" opacity="0.55"/>
<line x1="563.6" y1="412.06" x2="569.6" y2="412.06" stroke="#000" stroke-width="1" opacity="0.55"/>
<line x1="93.0" y1="399.11" x2="99.0" y2="399.11" stroke="#000" stroke-width="1" opacity="0.55"/>
<line x1="563.6" y1="399.11" x2="569.6" y2="399.11" stroke="#000" stroke-width="1" opacity="0.55"/>
<line x1="93.0" y1="373.22" x2="99.0" y2="373.22" stroke="#000" stroke-width="1" opacity="0.55"/>
<line x1="563.6" y1="373.22" x2="569.6" y2="373.22" stroke="#000" stroke-width="1" opacity="0.55"/>
<line x1="93.0" y1="360.28" x2="99.0" y2="360.28" stroke="#000" stroke-width="1" opacity="0.55"/>
<line x1="563.6" y1="360.28" x2="569.6" y2="360.28" stroke="#000" stroke-width="1" opacity="0.55"/>
<line x1="93.0" y1="334.39" x2="99.0" y2="334.39" stroke="#000" stroke-width="1" opacity="0.55"/>
<line x1="563.6" y1="334.39" x2="569.6" y2="334.39" stroke="#000" stroke-width="1" opacity="0.55"/>
<line x1="93.0" y1="321.44" x2="99.0" y2="321.44" stroke="#000" stroke-width="1" opacity="0.55"/>
<line x1="563.6" y1="321.44" x2="569.6" y2="321.44" stroke="#000" stroke-width="1" opacity="0.55"/>
<line x1="93.0" y1="295.56" x2="99.0" y2="295.56" stroke="#000" stroke-width="1" opacity="0.55"/>
<line x1="563.6" y1="295.56" x2="569.6" y2="295.56" stroke="#000" stroke-width="1" opacity="0.55"/>
<line x1="93.0" y1="282.61" x2="99.0" y2="282.61" stroke="#000" stroke-width="1" opacity="0.55"/>
<line x1="563.6" y1="282.61" x2="569.6" y2="282.61" stroke="#000" stroke-width="1" opacity="0.55"/>
<line x1="93.0" y1="256.72" x2="99.0" y2="256.72" stroke="#000" stroke-width="1" opacity="0.55"/>
<line x1="563.6" y1="256.72" x2="569.6" y2="256.72" stroke="#000" stroke-width="1" opacity="0.55"/>
<line x1="93.0" y1="243.78" x2="99.0" y2="243.78" stroke="#000" stroke-width="1" opacity="0.55"/>
<line x1="563.6" y1="243.78" x2="569.6" y2="243.78" stroke="#000" stroke-width="1" opacity="0.55"/>
<line x1="93.0" y1="217.89" x2="99.0" y2="217.89" stroke="#000" stroke-width="1" opacity="0.55"/>
<line x1="563.6" y1="217.89" x2="569.6" y2="217.89" stroke="#000" stroke-width="1" opacity="0.55"/>
<line x1="93.0" y1="204.94" x2="99.0" y2="204.94" stroke="#000" stroke-width="1" opacity="0.55"/>
<line x1="563.6" y1="204.94" x2="569.6" y2="204.94" stroke="#000" stroke-width="1" opacity="0.55"/>
<line x1="99.00" y1="180.0" x2="99.00" y2="192.0" stroke="#000" stroke-width="1.4" />
<line x1="99.00" y1="425.0" x2="99.00" y2="437.0" stroke="#000" stroke-width="1.4" />
<line x1="137.72" y1="180.0" x2="137.72" y2="192.0" stroke="#000" stroke-width="1.4" />
<line x1="137.72" y1="425.0" x2="137.72" y2="437.0" stroke="#000" stroke-width="1.4" />
<line x1="176.43" y1="180.0" x2="176.43" y2="192.0" stroke="#000" stroke-width="1.4" />
<line x1="176.43" y1="425.0" x2="176.43" y2="437.0" stroke="#000" stroke-width="1.4" />
<line x1="215.15" y1="180.0" x2="215.15" y2="192.0" stroke="#000" stroke-width="1.4" />
<line x1="215.15" y1="425.0" x2="215.15" y2="437.0" stroke="#000" stroke-width="1.4" />
<line x1="253.87" y1="180.0" x2="253.87" y2="192.0" stroke="#000" stroke-width="1.4" />
<line x1="253.87" y1="425.0" x2="253.87" y2="437.0" stroke="#000" stroke-width="1.4" />
<line x1="292.58" y1="180.0" x2="292.58" y2="192.0" stroke="#000" stroke-width="1.4" />
<line x1="292.58" y1="425.0" x2="292.58" y2="437.0" stroke="#000" stroke-width="1.4" />
<line x1="331.30" y1="180.0" x2="331.30" y2="192.0" stroke="#000" stroke-width="1.4" />
<line x1="331.30" y1="425.0" x2="331.30" y2="437.0" stroke="#000" stroke-width="1.4" />
<line x1="370.02" y1="180.0" x2="370.02" y2="192.0" stroke="#000" stroke-width="1.4" />
<line x1="370.02" y1="425.0" x2="370.02" y2="437.0" stroke="#000" stroke-width="1.4" />
<line x1="408.73" y1="180.0" x2="408.73" y2="192.0" stroke="#000" stroke-width="1.4" />
<line x1="408.73" y1="425.0" x2="408.73" y2="437.0" stroke="#000" stroke-width="1.4" />
<line x1="447.45" y1="180.0" x2="447.45" y2="192.0" stroke="#000" stroke-width="1.4" />
<line x1="447.45" y1="425.0" x2="447.45" y2="437.0" stroke="#000" stroke-width="1.4" />
<line x1="486.17" y1="180.0" x2="486.17" y2="192.0" stroke="#000" stroke-width="1.4" />
<line x1="486.17" y1="425.0" x2="486.17" y2="437.0" stroke="#000" stroke-width="1.4" />
<line x1="524.88" y1="180.0" x2="524.88" y2="192.0" stroke="#000" stroke-width="1.4" />
<line x1="524.88" y1="425.0" x2="524.88" y2="437.0" stroke="#000" stroke-width="1.4" />
<line x1="563.60" y1="180.0" x2="563.60" y2="192.0" stroke="#000" stroke-width="1.4" />
<line x1="563.60" y1="425.0" x2="563.60" y2="437.0" stroke="#000" stroke-width="1.4" />
<line x1="87.0" y1="425.00" x2="99.0" y2="425.00" stroke="#000" stroke-width="1.4" />
<line x1="563.6" y1="425.00" x2="575.6" y2="425.00" stroke="#000" stroke-width="1.4" />
<line x1="87.0" y1="386.17" x2="99.0" y2="386.17" stroke="#000" stroke-width="1.4" />
<line x1="563.6" y1="386.17" x2="575.6" y2="386.17" stroke="#000" stroke-width="1.4" />
<line x1="87.0" y1="347.33" x2="99.0" y2="347.33" stroke="#000" stroke-width="1.4" />
<line x1="563.6" y1="347.33" x2="575.6" y2="347.33" stroke="#000" stroke-width="1.4" />
<line x1="87.0" y1="308.50" x2="99.0" y2="308.50" stroke="#000" stroke-width="1.4" />
<line x1="563.6" y1="308.50" x2="575.6" y2="308.50" stroke="#000" stroke-width="1.4" />
<line x1="87.0" y1="269.67" x2="99.0" y2="269.67" stroke="#000" stroke-width="1.4" />
<line x1="563.6" y1="269.67" x2="575.6" y2="269.67" stroke="#000" stroke-width="1.4" />
<line x1="87.0" y1="230.83" x2="99.0" y2="230.83" stroke="#000" stroke-width="1.4" />
<line x1="563.6" y1="230.83" x2="575.6" y2="230.83" stroke="#000" stroke-width="1.4" />
<line x1="87.0" y1="192.00" x2="99.0" y2="192.00" stroke="#000" stroke-width="1.4" />
<line x1="563.6" y1="192.00" x2="575.6" y2="192.00" stroke="#000" stroke-width="1.4" />
<rect x="99.0" y="192.0" width="464.6" height="233" fill="none" stroke="#000" stroke-width="1.4" />
<text x="99.00" y="451.3" text-anchor="middle" font-size="10" font-family="Liberation Sans, sans-serif">30E</text>
<text x="137.72" y="451.3" text-anchor="middle" font-size="10" font-family="Liberation Sans, sans-serif">60E</text>
<text x="176.43" y="451.3" text-anchor="middle" font-size="10" font-family="Liberation Sans, sans-serif">90E</text>
<text x="215.15" y="451.3" text-anchor="middle" font-size="10" font-family="Liberation Sans, sans-serif">120E</text>
<text x="253.87" y="451.3" text-anchor="middle" font-size="10" font-family="Liberation Sans, sans-serif">150E</text>
<text x="292.58" y="451.3" text-anchor="middle" font-size="10" font-family="Liberation Sans, sans-serif">180</text>
<text x="331.30" y="451.3" text-anchor="middle" font-size="10" font-family="Liberation Sans, sans-serif">150W</text>
<text x="370.02" y="451.3" text-anchor="middle" font-size="10" font-family="Liberation Sans, sans-serif">120W</text>
<text x="408.73" y="451.3" text-anchor="middle" font-size="10" font-family="Liberation Sans, sans-serif">90W</text>
<text x="447.45" y="451.3" text-anchor="middle" font-size="10" font-family="Liberation Sans, sans-serif">60W</text>
<text x="486.17" y="451.3" text-anchor="middle" font-size="10" font-family="Liberation Sans, sans-serif">30W</text>
<text x="524.88" y="451.3" text-anchor="middle" font-size="10" font-family="Liberation Sans, sans-serif">0</text>
<text x="563.60" y="451.3" text-anchor="middle" font-size="10" font-family="Liberation Sans, sans-serif">30E</text>
<text x="80.8" y="195.70" text-anchor="end" font-size="10" font-family="Liberation Sans, sans-serif">90N</text>
<text x="80.8" y="234.53" text-anchor="end" font-size="10" font-family="Liberation Sans, sans-serif">60N</text>
<text x="80.8" y="273.37" text-anchor="end" font-size="10" font-family="Liberation Sans, sans-serif">30N</text>
<text x="80.8" y="312.20" text-anchor="end" font-size="10" font-family="Liberation Sans, sans-serif">0</text>
<text x="80.8" y="351.03" text-anchor="end" font-size="10" font-family="Liberation Sans, sans-serif">30S</text>
<text x="80.8" y="389.87" text-anchor="end" font-size="10" font-family="Liberation Sans, sans-serif">60S</text>
<text x="80.8" y="428.70" text-anchor="end" font-size="10" font-family="Liberation Sans, sans-serif">90S</text>
<line x1="111.91" y1="505.0" x2="111.91" y2="511.0" stroke="#000" stroke-width="1" opacity="0.55"/>
<line x1="111.91" y1="744.0" x2="111.91" y2="750.0" stroke="#000" stroke-width="1" opacity="0.55"/>
<line x1="124.81" y1="505.0" x2="124.81" y2="511.0" stroke="#000" stroke-width="1" opacity="0.55"/>
<line x1="124.81" y1="744.0" x2="124.81" y2="750.0" stroke="#000" stroke-width="1" opacity="0.55"/>
<line x1="150.62" y1="505.0" x2="150.62" y2="511.0" stroke="#000" stroke-width="1" opacity="0.55"/>
<line x1="150.62" y1="744.0" x2="150.62" y2="750.0" stroke="#000" stroke-width="1" opacity="0.55"/>
<line x1="163.53" y1="505.0" x2="163.53" y2="511.0" stroke="#000" stroke-width="1" opacity="0.55"/>
<line x1="163.53" y1="744.0" x2="163.53" y2="750.0" stroke="#000" stroke-width="1" opacity="0.55"/>
<line x1="189.34" y1="505.0" x2="189.34" y2="511.0" stroke="#000" stroke-width="1" opacity="0.55"/>
<line x1="189.34" y1="744.0" x2="189.34" y2="750.0" stroke="#000" stroke-width="1" opacity="0.55"/>
<line x1="202.24" y1="505.0" x2="202.24" y2="511.0" stroke="#000" stroke-width="1" opacity="0.55"/>
<line x1="202.24" y1="744.0" x2="202.24" y2="750.0" stroke="#000" stroke-width="1" opacity="0.55"/>
<line x1="228.06" y1="505.0" x2="228.06" y2="511.0" stroke="#000" stroke-width="1" opacity="0.55"/>
<line x1="228.06" y1="744.0" x2="228.06" y2="750.0" stroke="#000" stroke-width="1" opacity="0.55"/>
<line x1="240.96" y1="505.0" x2="240.96" y2="511.0" stroke="#000" stroke-width="1" opacity="0.55"/>
<line x1="240.96" y1="744.0" x2="240.96" y2="750.0" stroke="#000" stroke-width="1" opacity="0.55"/>
<line x1="266.77" y1="505.0" x2="266.77" y2="511.0" stroke="#000" stroke-width="1" opacity="0.55"/>
<line x1="266.77" y1="744.0" x2="266.77" y2="750.0" stroke="#000" stroke-width="1" opacity="0.55"/>
<line x1="279.68" y1="505.0" x2="279.68" y2="511.0" stroke="#000" stroke-width="1" opacity="0.55"/>
<line x1="279.68" y1="744.0" x2="279.68" y2="750.0" stroke="#000" stroke-width="1" opacity="0.55"/>
<line x1="305.49" y1="505.0" x2="305.49" y2="511.0" stroke="#000" stroke-width="1" opacity="0.55"/>
<line x1="305.49" y1="744.0" x2="305.49" y2="750.0" stroke="#000" stroke-width="1" opacity="0.55"/>
<line x1="318.39" y1="505.0" x2="318.39" y2="511.0" stroke="#000" stroke-width="1" opacity="0.55"/>
<line x1="318.39" y1="744.0" x2="318.39" y2="750.0" stroke="#000" stroke-width="1" opacity="0.55"/>
<line x1="344.21" y1="505.0" x2="344.21" y2="511.0" stroke="#000" stroke-width="1" opacity="0.55"/>
<line x1="344.21" y1="744.0" x2="344.21" y2="750.0" stroke="#000" stroke-width="1" opacity="0.55"/>
<line x1="357.11" y1="505.0" x2="357.11" y2="511.0" stroke="#000" stroke-width="1" opacity="0.55"/>
<line x1="357.11" y1="744.0" x2="357.11" y2="750.0" stroke="#000" stroke-width="1" opacity="0.55"/>
<line x1="382.92" y1="505.0" x2="382.92" y2="511.0" stroke="#000" stroke-width="1" opacity="0.55"/>
<line x1="382.92" y1="744.0" x2="382.92" y2="750.0" stroke="#000" stroke-width="1" opacity="0.55"/>
<line x1="395.83" y1="505.0" x2="395.83" y2="511.0" stroke="#000" stroke-width="1" opacity="0.55"/>
<line x1="395.83" y1="744.0" x2="395.83" y2="750.0" stroke="#000" stroke-width="1" opacity="0.55"/>
<line x1="421.64" y1="505.0" x2="421.64" y2="511.0" stroke="#000" stroke-width="1" opacity="0.55"/>
<line x1="421.64" y1="744.0" x2="421.64" y2="750.0" stroke="#000" stroke-width="1" opacity="0.55"/>
<line x1="434.54" y1="505.0" x2="434.54" y2="511.0" stroke="#000" stroke-width="1" opacity="0.55"/>
<line x1="434.54" y1="744.0" x2="434.54" y2="750.0" stroke="#000" stroke-width="1" opacity="0.55"/>
<line x1="460.36" y1="505.0" x2="460.36" y2="511.0" stroke="#000" stroke-width="1" opacity="0.55"/>
<line x1="460.36" y1="744.0" x2="460.36" y2="750.0" stroke="#000" stroke-width="1" opacity="0.55"/>
<line x1="473.26" y1="505.0" x2="473.26" y2="511.0" stroke="#000" stroke-width="1" opacity="0.55"/>
<line x1="473.26" y1="744.0" x2="473.26" y2="750.0" stroke="#000" stroke-width="1" opacity="0.55"/>
<line x1="499.07" y1="505.0" x2="499.07" y2="511.0" stroke="#000" stroke-width="1" opacity="0.55"/>
<line x1="499.07" y1="744.0" x2="499.07" y2="750.0" stroke="#000" stroke-width="1" opacity="0.55"/>
<line x1="511.98" y1="505.0" x2="511.98" y2="511.0" stroke="#000" stroke-width="1" opacity="0.55"/>
<line x1="511.98" y1="744.0" x2="511.98" y2="750.0" stroke="#000" stroke-width="1" opacity="0.55"/>
<line x1="537.79" y1="505.0" x2="537.79" y2="511.0" stroke="#000" stroke-width="1" opacity="0.55"/>
<line x1="537.79" y1="744.0" x2="537.79" y2="750.0" stroke="#000" stroke-width="1" opacity="0.55"/>
<line x1="550.69" y1="505.0" x2="550.69" y2="511.0" stroke="#000" stroke-width="1" opacity="0.55"/>
<line x1="550.69" y1="744.0" x2="550.69" y2="750.0" stroke="#000" stroke-width="1" opacity="0.55"/>
<line x1="93.0" y1="731.06" x2="99.0" y2="731.06" stroke="#000" stroke-width="1" opacity="0.55"/>
<line x1="563.6" y1="731.06" x2="569.6" y2="731.06" stroke="#000" stroke-width="1" opacity="0.55"/>
<line x1="93.0" y1="718.11" x2="99.0" y2="718.11" stroke="#000" stroke-width="1" opacity="0.55"/>
<line x1="563.6" y1="718.11" x2="569.6" y2="718.11" stroke="#000" stroke-width="1" opacity="0.55"/>
<line x1="93.0" y1="692.22" x2="99.0" y2="692.22" stroke="#000" stroke-width="1" opacity="0.55"/>
<line x1="563.6" y1="692.22" x2="569.6" y2="692.22" stroke="#000" stroke-width="1" opacity="0.55"/>
<line x1="93.0" y1="679.28" x2="99.0" y2="679.28" stroke="#000" stroke-width="1" opacity="0.55"/>
<line x1="563.6" y1="679.28" x2="569.6" y2="679.28" stroke="#000" stroke-width="1" opacity="0.55"/>
<line x1="93.0" y1="653.39" x2="99.0" y2="653.39" stroke="#000" stroke-width="1" opacity="0.55"/>
<line x1="563.6" y1="653.39" x2="569.6" y2="653.39" stroke="#000" stroke-width="1" opacity="0.55"/>
<line x1="93.0" y1="640.44" x2="99.0" y2="640.44" stroke="#000" stroke-width="1" opacity="0.55"/>
<line x1="563.6" y1="640.44" x2="569.6" y2="640.44" stroke="#000" stroke-width="1" opacity="0.55"/>
<line x1="93.0" y1="614.56" x2="99.0" y2="614.56" stroke="#000" stroke-width="1" opacity="0.55"/>
<line x1="563.6" y1="614.56" x2="569.6" y2="614.56" stroke="#000" stroke-width="1" opacity="0.55"/>
<line x1="93.0" y1="601.61" x2="99.0" y2="601.61" stroke="#000" stroke-width="1" opacity="0.55"/>
<line x1="563.6" y1="601.61" x2="569.6" y2="601.61" stroke="#000" stroke-width="1" opacity="0.55"/>
<line x1="93.0" y1="575.72" x2="99.0" y2="575.72" stroke="#000" stroke-width="1" opacity="0.55"/>
<line x1="563.6" y1="575.72" x2="569.6" y2="575.72" stroke="#000" stroke-width="1" opacity="0.55"/>
<line x1="93.0" y1="562.78" x2="99.0" y2="562.78" stroke="#000" stroke-width="1" opacity="0.55"/>
<line x1="563.6" y1="562.78" x2="569.6" y2="562.78" stroke="#000" stroke-width="1" opacity="0.55"/>
<line x1="93.0" y1="536.89" x2="99.0" y2="536.89" stroke="#000" stroke-width="1" opacity="0.55"/>
<line x1="563.6" y1="536.89" x2="569.6" y2="536.89" stroke="#000" stroke-width="1" opacity="0.55"/>
<line x1="93.0" y1="523.94" x2="99.0" y2="523.94" stroke="#000" stroke-width="1" opacity="0.55"/>
<line x1="563.6" y1="523.94" x2="569.6" y2="523.94" stroke="#000" stroke-width="1" opacity="0.55"/>
<line x1="99.00" y1="499.0" x2="99.00" y2="511.0" stroke="#000" stroke-width="1.4" />
<line x1="99.00" y1="744.0" x2="99.00" y2="756.0" stroke="#000" stroke-width="1.4" />
<line x1="137.72" y1="499.0" x2="137.72" y2="511.0" stroke="#000" stroke-width="1.4" />
<line x1="137.72" y1="744.0" x2="137.72" y2="756.0" stroke="#000" stroke-width="1.4" />
<line x1="176.43" y1="499.0" x2="176.43" y2="511.0" stroke="#000" stroke-width="1.4" />
<line x1="176.43" y1="744.0" x2="176.43" y2="756.0" stroke="#000" stroke-width="1.4" />
<line x1="215.15" y1="499.0" x2="215.15" y2="511.0" stroke="#000" stroke-width="1.4" />
<line x1="215.15" y1="744.0" x2="215.15" y2="756.0" stroke="#000" stroke-width="1.4" />
<line x1="253.87" y1="499.0" x2="253.87" y2="511.0" stroke="#000" stroke-width="1.4" />
<line x1="253.87" y1="744.0" x2="253.87" y2="756.0" stroke="#000" stroke-width="1.4" />
<line x1="292.58" y1="499.0" x2="292.58" y2="511.0" stroke="#000" stroke-width="1.4" />
<line x1="292.58" y1="744.0" x2="292.58" y2="756.0" stroke="#000" stroke-width="1.4" />
<line x1="331.30" y1="499.0" x2="331.30" y2="511.0" stroke="#000" stroke-width="1.4" />
<line x1="331.30" y1="744.0" x2="331.30" y2="756.0" stroke="#000" stroke-width="1.4" />
<line x1="370.02" y1="499.0" x2="370.02" y2="511.0" stroke="#000" stroke-width="1.4" />
<line x1="370.02" y1="744.0" x2="370.02" y2="756.0" stroke="#000" stroke-width="1.4" />
<line x1="408.73" y1="499.0" x2="408.73" y2="511.0" stroke="#000" stroke-width="1.4" />
<line x1="408.73" y1="744.0" x2="408.73" y2="756.0" stroke="#000" stroke-width="1.4" />
<line x1="447.45" y1="499.0" x2="447.45" y2="511.0" stroke="#000" stroke-width="1.4" />
<line x1="447.45" y1="744.0" x2="447.45" y2="756.0" stroke="#000" stroke-width="1.4" />
<line x1="486.17" y1="499.0" x2="486.17" y2="511.0" stroke="#000" stroke-width="1.4" />
<line x1="486.17" y1="744.0" x2="486.17" y2="756.0" stroke="#000" stroke-width="1.4" />
<line x1="524.88" y1="499.0" x2="524.88" y2="511.0" stroke="#000" stroke-width="1.4" />
<line x1="524.88" y1="744.0" x2="524.88" y2="756.0" stroke="#000" stroke-width="1.4" />
<line x1="563.60" y1="499.0" x2="563.60" y2="511.0" stroke="#000" stroke-width="1.4" />
<line x1="563.60" y1="744.0" x2="563.60" y2="756.0" stroke="#000" stroke-width="1.4" />
<line x1="87.0" y1="744.00" x2="99.0" y2="744.00" stroke="#000" stroke-width="1.4" />
<line x1="563.6" y1="744.00" x2="575.6" y2="744.00" stroke="#000" stroke-width="1.4" />
<line x1="87.0" y1="705.17" x2="99.0" y2="705.17" stroke="#000" stroke-width="1.4" />
<line x1="563.6" y1="705.17" x2="575.6" y2="705.17" stroke="#000" stroke-width="1.4" />
<line x1="87.0" y1="666.33" x2="99.0" y2="666.33" stroke="#000" stroke-width="1.4" />
<line x1="563.6" y1="666.33" x2="575.6" y2="666.33" stroke="#000" stroke-width="1.4" />
<line x1="87.0" y1="627.50" x2="99.0" y2="627.50" stroke="#000" stroke-width="1.4" />
<line x1="563.6" y1="627.50" x2="575.6" y2="627.50" stroke="#000" stroke-width="1.4" />
<line x1="87.0" y1="588.67" x2="99.0" y2="588.67" stroke="#000" stroke-width="1.4" />
<line x1="563.6" y1="588.67" x2="575.6" y2="588.67" stroke="#000" stroke-width="1.4" />
<line x1="87.0" y1="549.83" x2="99.0" y2="549.83" stroke="#000" stroke-width="1.4" />
<line x1="563.6" y1="549.83" x2="575.6" y2="549.83" stroke="#000" stroke-width="1.4" />
<line x1="87.0" y1="511.00" x2="99.0" y2="511.00" stroke="#000" stroke-width="1.4" />
<line x1="563.6" y1="511.00" x2="575.6" y2="511.00" stroke="#000" stroke-width="1.4" />
<rect x="99.0" y="511.0" width="464.6" height="233" fill="none" stroke="#000" stroke-width="1.4" />
<text x="99.00" y="770.3" text-anchor="middle" font-size="10" font-family="Liberation Sans, sans-serif">30E</text>
<text x="137.72" y="770.3" text-anchor="middle" font-size="10" font-family="Liberation Sans, sans-serif">60E</text>
<text x="176.43" y="770.3" text-anchor="middle" font-size="10" font-family="Liberation Sans, sans-serif">90E</text>
<text x="215.15" y="770.3" text-anchor="middle" font-size="10" font-family="Liberation Sans, sans-serif">120E</text>
<text x="253.87" y="770.3" text-anchor="middle" font-size="10" font-family="Liberation Sans, sans-serif">150E</text>
<text x="292.58" y="770.3" text-anchor="middle" font-size="10" font-family="Liberation Sans, sans-serif">180</text>
<text x="331.30" y="770.3" text-anchor="middle" font-size="10" font-family="Liberation Sans, sans-serif">150W</text>
<text x="370.02" y="770.3" text-anchor="middle" font-size="10" font-family="Liberation Sans, sans-serif">120W</text>
<text x="408.73" y="770.3" text-anchor="middle" font-size="10" font-family="Liberation Sans, sans-serif">90W</text>
<text x="447.45" y="770.3" text-anchor="middle" font-size="10" font-family="Liberation Sans, sans-serif">60W</text>
<text x="486.17" y="770.3" text-anchor="middle" font-size="10" font-family="Liberation Sans, sans-serif">30W</text>
<text x="524.88" y="770.3" text-anchor="middle" font-size="10" font-family="Liberation Sans, sans-serif">0</text>
<text x="563.60" y="770.3" text-anchor="middle" font-size="10" font-family="Liberation Sans, sans-serif">30E</text>
<text x="80.8" y="514.70" text-anchor="end" font-size="10" font-family="Liberation Sans, sans-serif">90N</text>
<text x="80.8" y="553.53" text-anchor="end" font-size="10" font-family="Liberation Sans, sans-serif">60N</text>
<text x="80.8" y="592.37" text-anchor="end" font-size="10" font-family="Liberation Sans, sans-serif">30N</text>
<text x="80.8" y="631.20" text-anchor="end" font-size="10" font-family="Liberation Sans, sans-serif">0</text>
<text x="80.8" y="670.03" text-anchor="end" font-size="10" font-family="Liberation Sans, sans-serif">30S</text>
<text x="80.8" y="708.87" text-anchor="end" font-size="10" font-family="Liberation Sans, sans-serif">60S</text>
<text x="80.8" y="747.70" text-anchor="end" font-size="10" font-family="Liberation Sans, sans-serif">90S</text>
<text x="99.00" y="177.3" font-size="12.73" font-family="Liberation Sans, sans-serif">SHF_QSW b40.20th.track1.1deg.005 [1981-2005]</text>
<text x="499.60" y="165.9" font-size="12.34" font-family="Liberation Sans, sans-serif">mean = 175.1</text>
<text x="499.60" y="180.0" font-size="12.56" font-family="Liberation Sans, sans-serif">rms = 186</text>
<text x="99.00" y="496.4" font-size="12.64" font-family="Liberation Sans, sans-serif">MODEL - OBS (gx1v3.020.clim.1984-2000.nc)</text>
<text x="497.70" y="484.3" font-size="12.52" font-family="Liberation Sans, sans-serif">mean = 10.35</text>
<text x="497.70" y="498.6" font-size="12.45" font-family="Liberation Sans, sans-serif">rms = 22.46</text>
<rect x="269.5" y="454.9" width="123.2" height="14.7" fill="#fff" stroke="#000" stroke-width="0.9"/>
<text x="271.80" y="465.4" font-size="10.14" font-family="Liberation Sans, sans-serif">.1 to 264.8 by 20 watt/m^2</text>
<rect x="266.2" y="773.6" width="129.9" height="14.6" fill="#fff" stroke="#000" stroke-width="0.9"/>
<text x="268.60" y="783.3" font-size="10.17" font-family="Liberation Sans, sans-serif">-61.21 to 254 by 5 watt/m^2</text>
<rect x="597.3" y="201.40" width="28" height="10.98" fill="#c80000"/>
<rect x="597.3" y="212.08" width="28" height="10.98" fill="#e60000"/>
<rect x="597.3" y="222.76" width="28" height="10.98" fill="#ff1e00"/>
<rect x="597.3" y="233.44" width="28" height="10.98" fill="#ff8200"/>
<rect x="597.3" y="244.12" width="28" height="10.98" fill="#ff9628"/>
<rect x="597.3" y="254.80" width="28" height="10.98" fill="#ffaa3c"/>
<rect x="597.3" y="265.48" width="28" height="10.98" fill="#ffd232"/>
<rect x="597.3" y="276.16" width="28" height="10.98" fill="#ffff00"/>
<rect x="597.3" y="286.84" width="28" height="10.98" fill="#50f000"/>
<rect x="597.3" y="297.52" width="28" height="10.98" fill="#00f064"/>
<rect x="597.3" y="308.20" width="28" height="10.98" fill="#00f0c8"/>
<rect x="597.3" y="318.88" width="28" height="10.98" fill="#00ffff"/>
<rect x="597.3" y="329.56" width="28" height="10.98" fill="#1ee6ff"/>
<rect x="597.3" y="340.24" width="28" height="10.98" fill="#00b4ff"/>
<rect x="597.3" y="350.92" width="28" height="10.98" fill="#0080ff"/>
<rect x="597.3" y="361.60" width="28" height="10.98" fill="#0000f0"/>
<rect x="597.3" y="372.28" width="28" height="10.98" fill="#8200e0"/>
<rect x="597.3" y="382.96" width="28" height="10.98" fill="#e600e6"/>
<rect x="597.3" y="393.64" width="28" height="10.98" fill="#d2d2d2"/>
<rect x="597.3" y="404.32" width="28" height="10.98" fill="#707070"/>
<line x1="597.3" y1="201.40" x2="625.3" y2="201.40" stroke="#000" stroke-width="0.8"/>
<line x1="597.3" y1="212.08" x2="625.3" y2="212.08" stroke="#000" stroke-width="0.8"/>
<line x1="597.3" y1="222.76" x2="625.3" y2="222.76" stroke="#000" stroke-width="0.8"/>
<line x1="597.3" y1="233.44" x2="625.3" y2="233.44" stroke="#000" stroke-width="0.8"/>
<line x1="597.3" y1="244.12" x2="625.3" y2="244.12" stroke="#000" stroke-width="0.8"/>
<line x1="597.3" y1="254.80" x2="625.3" y2="254.80" stroke="#000" stroke-width="0.8"/>
<line x1="597.3" y1="265.48" x2="625.3" y2="265.48" stroke="#000" stroke-width="0.8"/>
<line x1="597.3" y1="276.16" x2="625.3" y2="276.16" stroke="#000" stroke-width="0.8"/>
<line x1="597.3" y1="286.84" x2="625.3" y2="286.84" stroke="#000" stroke-width="0.8"/>
<line x1="597.3" y1="297.52" x2="625.3" y2="297.52" stroke="#000" stroke-width="0.8"/>
<line x1="597.3" y1="308.20" x2="625.3" y2="308.20" stroke="#000" stroke-width="0.8"/>
<line x1="597.3" y1="318.88" x2="625.3" y2="318.88" stroke="#000" stroke-width="0.8"/>
<line x1="597.3" y1="329.56" x2="625.3" y2="329.56" stroke="#000" stroke-width="0.8"/>
<line x1="597.3" y1="340.24" x2="625.3" y2="340.24" stroke="#000" stroke-width="0.8"/>
<line x1="597.3" y1="350.92" x2="625.3" y2="350.92" stroke="#000" stroke-width="0.8"/>
<line x1="597.3" y1="361.60" x2="625.3" y2="361.60" stroke="#000" stroke-width="0.8"/>
<line x1="597.3" y1="372.28" x2="625.3" y2="372.28" stroke="#000" stroke-width="0.8"/>
<line x1="597.3" y1="382.96" x2="625.3" y2="382.96" stroke="#000" stroke-width="0.8"/>
<line x1="597.3" y1="393.64" x2="625.3" y2="393.64" stroke="#000" stroke-width="0.8"/>
<line x1="597.3" y1="404.32" x2="625.3" y2="404.32" stroke="#000" stroke-width="0.8"/>
<line x1="597.3" y1="415.00" x2="625.3" y2="415.00" stroke="#000" stroke-width="0.8"/>
<rect x="597.3" y="201.4" width="28" height="213.6" fill="none" stroke="#000" stroke-width="0.8"/>
<text x="641" y="205.20" text-anchor="middle" font-size="10" font-family="Liberation Sans, sans-serif">400</text>
<text x="641" y="237.24" text-anchor="middle" font-size="10" font-family="Liberation Sans, sans-serif">340</text>
<text x="641" y="258.60" text-anchor="middle" font-size="10" font-family="Liberation Sans, sans-serif">300</text>
<text x="641" y="279.96" text-anchor="middle" font-size="10" font-family="Liberation Sans, sans-serif">260</text>
<text x="641" y="301.32" text-anchor="middle" font-size="10" font-family="Liberation Sans, sans-serif">220</text>
<text x="641" y="322.68" text-anchor="middle" font-size="10" font-family="Liberation Sans, sans-serif">180</text>
<text x="641" y="344.04" text-anchor="middle" font-size="10" font-family="Liberation Sans, sans-serif">140</text>
<text x="641" y="365.40" text-anchor="middle" font-size="10" font-family="Liberation Sans, sans-serif">100</text>
<text x="641" y="386.76" text-anchor="middle" font-size="10" font-family="Liberation Sans, sans-serif">60</text>
<text x="641" y="418.80" text-anchor="middle" font-size="10" font-family="Liberation Sans, sans-serif">0</text>
<rect x="598.3" y="520.30" width="28" height="10.98" fill="#c80000"/>
<rect x="598.3" y="530.97" width="28" height="10.98" fill="#e60000"/>
<rect x="598.3" y="541.65" width="28" height="10.98" fill="#ff1e00"/>
<rect x="598.3" y="552.32" width="28" height="10.98" fill="#ff8200"/>
<rect x="598.3" y="563.00" width="28" height="10.98" fill="#ff9628"/>
<rect x="598.3" y="573.67" width="28" height="10.98" fill="#ffaa3c"/>
<rect x="598.3" y="584.35" width="28" height="10.98" fill="#ffd232"/>
<rect x="598.3" y="595.02" width="28" height="10.98" fill="#ffff00"/>
<rect x="598.3" y="605.70" width="28" height="10.98" fill="#50f000"/>
<rect x="598.3" y="616.38" width="28" height="10.98" fill="#00f064"/>
<rect x="598.3" y="627.05" width="28" height="10.98" fill="#00f0c8"/>
<rect x="598.3" y="637.72" width="28" height="10.98" fill="#00ffff"/>
<rect x="598.3" y="648.40" width="28" height="10.98" fill="#1ee6ff"/>
<rect x="598.3" y="659.07" width="28" height="10.98" fill="#00b4ff"/>
<rect x="598.3" y="669.75" width="28" height="10.98" fill="#0080ff"/>
<rect x="598.3" y="680.42" width="28" height="10.98" fill="#0000f0"/>
<rect x="598.3" y="691.10" width="28" height="10.98" fill="#8200e0"/>
<rect x="598.3" y="701.77" width="28" height="10.98" fill="#e600e6"/>
<rect x="598.3" y="712.45" width="28" height="10.98" fill="#d2d2d2"/>
<rect x="598.3" y="723.12" width="28" height="10.98" fill="#707070"/>
<line x1="598.3" y1="520.30" x2="626.3" y2="520.30" stroke="#000" stroke-width="0.8"/>
<line x1="598.3" y1="530.97" x2="626.3" y2="530.97" stroke="#000" stroke-width="0.8"/>
<line x1="598.3" y1="541.65" x2="626.3" y2="541.65" stroke="#000" stroke-width="0.8"/>
<line x1="598.3" y1="552.32" x2="626.3" y2="552.32" stroke="#000" stroke-width="0.8"/>
<line x1="598.3" y1="563.00" x2="626.3" y2="563.00" stroke="#000" stroke-width="0.8"/>
<line x1="598.3" y1="573.67" x2="626.3" y2="573.67" stroke="#000" stroke-width="0.8"/>
<line x1="598.3" y1="584.35" x2="626.3" y2="584.35" stroke="#000" stroke-width="0.8"/>
<line x1="598.3" y1="595.02" x2="626.3" y2="595.02" stroke="#000" stroke-width="0.8"/>
<line x1="598.3" y1="605.70" x2="626.3" y2="605.70" stroke="#000" stroke-width="0.8"/>
<line x1="598.3" y1="616.38" x2="626.3" y2="616.38" stroke="#000" stroke-width="0.8"/>
<line x1="598.3" y1="627.05" x2="626.3" y2="627.05" stroke="#000" stroke-width="0.8"/>
<line x1="598.3" y1="637.72" x2="626.3" y2="637.72" stroke="#000" stroke-width="0.8"/>
<line x1="598.3" y1="648.40" x2="626.3" y2="648.40" stroke="#000" stroke-width="0.8"/>
<line x1="598.3" y1="659.07" x2="626.3" y2="659.07" stroke="#000" stroke-width="0.8"/>
<line x1="598.3" y1="669.75" x2="626.3" y2="669.75" stroke="#000" stroke-width="0.8"/>
<line x1="598.3" y1="680.42" x2="626.3" y2="680.42" stroke="#000" stroke-width="0.8"/>
<line x1="598.3" y1="691.10" x2="626.3" y2="691.10" stroke="#000" stroke-width="0.8"/>
<line x1="598.3" y1="701.77" x2="626.3" y2="701.77" stroke="#000" stroke-width="0.8"/>
<line x1="598.3" y1="712.45" x2="626.3" y2="712.45" stroke="#000" stroke-width="0.8"/>
<line x1="598.3" y1="723.12" x2="626.3" y2="723.12" stroke="#000" stroke-width="0.8"/>
<line x1="598.3" y1="733.80" x2="626.3" y2="733.80" stroke="#000" stroke-width="0.8"/>
<rect x="598.3" y="520.3" width="28" height="213.5" fill="none" stroke="#000" stroke-width="0.8"/>
<text x="641" y="524.10" text-anchor="middle" font-size="10" font-family="Liberation Sans, sans-serif">50</text>
<text x="641" y="545.45" text-anchor="middle" font-size="10" font-family="Liberation Sans, sans-serif">40</text>
<text x="641" y="566.80" text-anchor="middle" font-size="10" font-family="Liberation Sans, sans-serif">30</text>
<text x="641" y="588.15" text-anchor="middle" font-size="10" font-family="Liberation Sans, sans-serif">20</text>
<text x="641" y="609.50" text-anchor="middle" font-size="10" font-family="Liberation Sans, sans-serif">10</text>
<text x="641" y="630.85" text-anchor="middle" font-size="10" font-family="Liberation Sans, sans-serif">0</text>
<text x="641" y="652.20" text-anchor="middle" font-size="10" font-family="Liberation Sans, sans-serif">-10</text>
<text x="641" y="673.55" text-anchor="middle" font-size="10" font-family="Liberation Sans, sans-serif">-20</text>
<text x="641" y="694.90" text-anchor="middle" font-size="10" font-family="Liberation Sans, sans-serif">-30</text>
<text x="641" y="716.25" text-anchor="middle" font-size="10" font-family="Liberation Sans, sans-serif">-40</text>
<text x="641" y="737.60" text-anchor="middle" font-size="10" font-family="Liberation Sans, sans-serif">-50</text>
</svg></body></html>
